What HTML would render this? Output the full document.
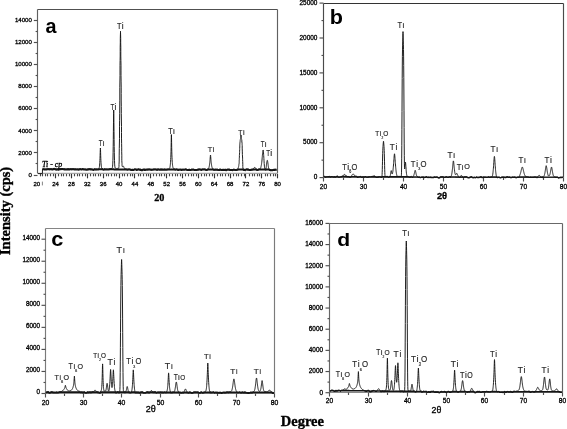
<!DOCTYPE html>
<html><head><meta charset="utf-8"><style>
html,body{margin:0;padding:0;background:#fff;}
svg{display:block;filter:grayscale(1);}
</style></head><body>
<svg width="567" height="429" viewBox="0 0 567 429">
<rect width="567" height="429" fill="#fff"/>
<line x1="37.5" y1="9.5" x2="277.5" y2="9.5" stroke="#505050" stroke-width="1.15"/>
<line x1="277.5" y1="9.5" x2="277.5" y2="173.4" stroke="#606060" stroke-width="1.15"/>
<line x1="37.5" y1="173.4" x2="277.5" y2="173.4" stroke="#a8a8a8" stroke-width="1.15"/>
<line x1="37.5" y1="9.5" x2="37.5" y2="173.4" stroke="#606060" stroke-width="1.15"/>
<line x1="33.8" y1="175.5" x2="37.5" y2="175.5" stroke="#505050" stroke-width="1.15"/>
<text x="28.45" y="176.70" style="font-family:'Liberation Sans', sans-serif;font-size:6.10px;" fill="#000" stroke="#000" stroke-width="0.3">0</text>
<line x1="35.6" y1="163.5" x2="37.5" y2="163.5" stroke="#505050" stroke-width="1.15"/>
<line x1="33.8" y1="152.5" x2="37.5" y2="152.5" stroke="#505050" stroke-width="1.15"/>
<text x="18.27" y="154.60" style="font-family:'Liberation Sans', sans-serif;font-size:6.10px;" fill="#000" stroke="#000" stroke-width="0.3">2000</text>
<line x1="35.6" y1="141.5" x2="37.5" y2="141.5" stroke="#505050" stroke-width="1.15"/>
<line x1="33.8" y1="130.5" x2="37.5" y2="130.5" stroke="#505050" stroke-width="1.15"/>
<text x="18.27" y="132.50" style="font-family:'Liberation Sans', sans-serif;font-size:6.10px;" fill="#000" stroke="#000" stroke-width="0.3">4000</text>
<line x1="35.6" y1="119.5" x2="37.5" y2="119.5" stroke="#505050" stroke-width="1.15"/>
<line x1="33.8" y1="108.5" x2="37.5" y2="108.5" stroke="#505050" stroke-width="1.15"/>
<text x="18.27" y="110.40" style="font-family:'Liberation Sans', sans-serif;font-size:6.10px;" fill="#000" stroke="#000" stroke-width="0.3">6000</text>
<line x1="35.6" y1="97.5" x2="37.5" y2="97.5" stroke="#505050" stroke-width="1.15"/>
<line x1="33.8" y1="86.5" x2="37.5" y2="86.5" stroke="#505050" stroke-width="1.15"/>
<text x="18.27" y="88.30" style="font-family:'Liberation Sans', sans-serif;font-size:6.10px;" fill="#000" stroke="#000" stroke-width="0.3">8000</text>
<line x1="35.6" y1="75.5" x2="37.5" y2="75.5" stroke="#505050" stroke-width="1.15"/>
<line x1="33.8" y1="64.5" x2="37.5" y2="64.5" stroke="#505050" stroke-width="1.15"/>
<text x="14.88" y="66.20" style="font-family:'Liberation Sans', sans-serif;font-size:6.10px;" fill="#000" stroke="#000" stroke-width="0.3">10000</text>
<line x1="35.6" y1="53.5" x2="37.5" y2="53.5" stroke="#505050" stroke-width="1.15"/>
<line x1="33.8" y1="42.5" x2="37.5" y2="42.5" stroke="#505050" stroke-width="1.15"/>
<text x="14.88" y="44.10" style="font-family:'Liberation Sans', sans-serif;font-size:6.10px;" fill="#000" stroke="#000" stroke-width="0.3">12000</text>
<line x1="35.6" y1="31.5" x2="37.5" y2="31.5" stroke="#505050" stroke-width="1.15"/>
<line x1="33.8" y1="20.5" x2="37.5" y2="20.5" stroke="#505050" stroke-width="1.15"/>
<text x="14.88" y="22.00" style="font-family:'Liberation Sans', sans-serif;font-size:6.10px;" fill="#000" stroke="#000" stroke-width="0.3">14000</text>
<line x1="55.5" y1="173.9" x2="55.5" y2="178.3" stroke="#333" stroke-width="1.15"/>
<text x="52.20" y="185.69" style="font-family:'Liberation Sans', sans-serif;font-size:6.00px;" fill="#000" stroke="#000" stroke-width="0.3">24</text>
<line x1="71.5" y1="173.9" x2="71.5" y2="178.3" stroke="#333" stroke-width="1.15"/>
<text x="68.10" y="185.67" style="font-family:'Liberation Sans', sans-serif;font-size:6.00px;" fill="#000" stroke="#000" stroke-width="0.3">28</text>
<line x1="87.5" y1="173.9" x2="87.5" y2="178.3" stroke="#333" stroke-width="1.15"/>
<text x="84.02" y="185.67" style="font-family:'Liberation Sans', sans-serif;font-size:6.00px;" fill="#000" stroke="#000" stroke-width="0.3">32</text>
<line x1="103.5" y1="173.9" x2="103.5" y2="178.3" stroke="#333" stroke-width="1.15"/>
<text x="99.86" y="185.67" style="font-family:'Liberation Sans', sans-serif;font-size:6.00px;" fill="#000" stroke="#000" stroke-width="0.3">36</text>
<line x1="119.5" y1="173.9" x2="119.5" y2="178.3" stroke="#333" stroke-width="1.15"/>
<text x="115.75" y="185.67" style="font-family:'Liberation Sans', sans-serif;font-size:6.00px;" fill="#000" stroke="#000" stroke-width="0.3">40</text>
<line x1="134.5" y1="173.9" x2="134.5" y2="178.3" stroke="#333" stroke-width="1.15"/>
<text x="131.58" y="185.66" style="font-family:'Liberation Sans', sans-serif;font-size:6.00px;" fill="#000" stroke="#000" stroke-width="0.3">44</text>
<line x1="150.5" y1="173.9" x2="150.5" y2="178.3" stroke="#333" stroke-width="1.15"/>
<text x="147.48" y="185.67" style="font-family:'Liberation Sans', sans-serif;font-size:6.00px;" fill="#000" stroke="#000" stroke-width="0.3">48</text>
<line x1="166.5" y1="173.9" x2="166.5" y2="178.3" stroke="#333" stroke-width="1.15"/>
<text x="163.31" y="185.67" style="font-family:'Liberation Sans', sans-serif;font-size:6.00px;" fill="#000" stroke="#000" stroke-width="0.3">52</text>
<line x1="182.5" y1="173.9" x2="182.5" y2="178.3" stroke="#333" stroke-width="1.15"/>
<text x="179.15" y="185.67" style="font-family:'Liberation Sans', sans-serif;font-size:6.00px;" fill="#000" stroke="#000" stroke-width="0.3">56</text>
<line x1="198.5" y1="173.9" x2="198.5" y2="178.3" stroke="#333" stroke-width="1.15"/>
<text x="194.97" y="185.67" style="font-family:'Liberation Sans', sans-serif;font-size:6.00px;" fill="#000" stroke="#000" stroke-width="0.3">60</text>
<line x1="214.5" y1="173.9" x2="214.5" y2="178.3" stroke="#333" stroke-width="1.15"/>
<text x="210.80" y="185.67" style="font-family:'Liberation Sans', sans-serif;font-size:6.00px;" fill="#000" stroke="#000" stroke-width="0.3">64</text>
<line x1="230.5" y1="173.9" x2="230.5" y2="178.3" stroke="#333" stroke-width="1.15"/>
<text x="226.70" y="185.67" style="font-family:'Liberation Sans', sans-serif;font-size:6.00px;" fill="#000" stroke="#000" stroke-width="0.3">68</text>
<line x1="245.5" y1="173.9" x2="245.5" y2="178.3" stroke="#333" stroke-width="1.15"/>
<text x="242.58" y="185.69" style="font-family:'Liberation Sans', sans-serif;font-size:6.00px;" fill="#000" stroke="#000" stroke-width="0.3">72</text>
<line x1="261.5" y1="173.9" x2="261.5" y2="178.3" stroke="#333" stroke-width="1.15"/>
<text x="258.42" y="185.67" style="font-family:'Liberation Sans', sans-serif;font-size:6.00px;" fill="#000" stroke="#000" stroke-width="0.3">76</text>
<line x1="277.5" y1="173.9" x2="277.5" y2="178.3" stroke="#333" stroke-width="1.15"/>
<text x="274.29" y="185.67" style="font-family:'Liberation Sans', sans-serif;font-size:6.00px;" fill="#000" stroke="#000" stroke-width="0.3">80</text>
<line x1="40.5" y1="173.9" x2="40.5" y2="176.3" stroke="#444" stroke-width="1.15"/>
<line x1="42.5" y1="173.9" x2="42.5" y2="176.3" stroke="#444" stroke-width="1.15"/>
<line x1="45.5" y1="173.9" x2="45.5" y2="176.3" stroke="#444" stroke-width="1.15"/>
<line x1="47.5" y1="173.9" x2="47.5" y2="176.3" stroke="#444" stroke-width="1.15"/>
<line x1="50.5" y1="173.9" x2="50.5" y2="176.3" stroke="#444" stroke-width="1.15"/>
<line x1="53.5" y1="173.9" x2="53.5" y2="176.3" stroke="#444" stroke-width="1.15"/>
<line x1="58.5" y1="173.9" x2="58.5" y2="176.3" stroke="#444" stroke-width="1.15"/>
<line x1="61.5" y1="173.9" x2="61.5" y2="176.3" stroke="#444" stroke-width="1.15"/>
<line x1="63.5" y1="173.9" x2="63.5" y2="176.3" stroke="#444" stroke-width="1.15"/>
<line x1="66.5" y1="173.9" x2="66.5" y2="176.3" stroke="#444" stroke-width="1.15"/>
<line x1="69.5" y1="173.9" x2="69.5" y2="176.3" stroke="#444" stroke-width="1.15"/>
<line x1="74.5" y1="173.9" x2="74.5" y2="176.3" stroke="#444" stroke-width="1.15"/>
<line x1="77.5" y1="173.9" x2="77.5" y2="176.3" stroke="#444" stroke-width="1.15"/>
<line x1="79.5" y1="173.9" x2="79.5" y2="176.3" stroke="#444" stroke-width="1.15"/>
<line x1="82.5" y1="173.9" x2="82.5" y2="176.3" stroke="#444" stroke-width="1.15"/>
<line x1="85.5" y1="173.9" x2="85.5" y2="176.3" stroke="#444" stroke-width="1.15"/>
<line x1="90.5" y1="173.9" x2="90.5" y2="176.3" stroke="#444" stroke-width="1.15"/>
<line x1="93.5" y1="173.9" x2="93.5" y2="176.3" stroke="#444" stroke-width="1.15"/>
<line x1="95.5" y1="173.9" x2="95.5" y2="176.3" stroke="#444" stroke-width="1.15"/>
<line x1="98.5" y1="173.9" x2="98.5" y2="176.3" stroke="#444" stroke-width="1.15"/>
<line x1="100.5" y1="173.9" x2="100.5" y2="176.3" stroke="#444" stroke-width="1.15"/>
<line x1="106.5" y1="173.9" x2="106.5" y2="176.3" stroke="#444" stroke-width="1.15"/>
<line x1="108.5" y1="173.9" x2="108.5" y2="176.3" stroke="#444" stroke-width="1.15"/>
<line x1="111.5" y1="173.9" x2="111.5" y2="176.3" stroke="#444" stroke-width="1.15"/>
<line x1="114.5" y1="173.9" x2="114.5" y2="176.3" stroke="#444" stroke-width="1.15"/>
<line x1="116.5" y1="173.9" x2="116.5" y2="176.3" stroke="#444" stroke-width="1.15"/>
<line x1="122.5" y1="173.9" x2="122.5" y2="176.3" stroke="#444" stroke-width="1.15"/>
<line x1="124.5" y1="173.9" x2="124.5" y2="176.3" stroke="#444" stroke-width="1.15"/>
<line x1="127.5" y1="173.9" x2="127.5" y2="176.3" stroke="#444" stroke-width="1.15"/>
<line x1="130.5" y1="173.9" x2="130.5" y2="176.3" stroke="#444" stroke-width="1.15"/>
<line x1="132.5" y1="173.9" x2="132.5" y2="176.3" stroke="#444" stroke-width="1.15"/>
<line x1="138.5" y1="173.9" x2="138.5" y2="176.3" stroke="#444" stroke-width="1.15"/>
<line x1="140.5" y1="173.9" x2="140.5" y2="176.3" stroke="#444" stroke-width="1.15"/>
<line x1="143.5" y1="173.9" x2="143.5" y2="176.3" stroke="#444" stroke-width="1.15"/>
<line x1="146.5" y1="173.9" x2="146.5" y2="176.3" stroke="#444" stroke-width="1.15"/>
<line x1="148.5" y1="173.9" x2="148.5" y2="176.3" stroke="#444" stroke-width="1.15"/>
<line x1="153.5" y1="173.9" x2="153.5" y2="176.3" stroke="#444" stroke-width="1.15"/>
<line x1="156.5" y1="173.9" x2="156.5" y2="176.3" stroke="#444" stroke-width="1.15"/>
<line x1="159.5" y1="173.9" x2="159.5" y2="176.3" stroke="#444" stroke-width="1.15"/>
<line x1="161.5" y1="173.9" x2="161.5" y2="176.3" stroke="#444" stroke-width="1.15"/>
<line x1="164.5" y1="173.9" x2="164.5" y2="176.3" stroke="#444" stroke-width="1.15"/>
<line x1="169.5" y1="173.9" x2="169.5" y2="176.3" stroke="#444" stroke-width="1.15"/>
<line x1="172.5" y1="173.9" x2="172.5" y2="176.3" stroke="#444" stroke-width="1.15"/>
<line x1="175.5" y1="173.9" x2="175.5" y2="176.3" stroke="#444" stroke-width="1.15"/>
<line x1="177.5" y1="173.9" x2="177.5" y2="176.3" stroke="#444" stroke-width="1.15"/>
<line x1="180.5" y1="173.9" x2="180.5" y2="176.3" stroke="#444" stroke-width="1.15"/>
<line x1="185.5" y1="173.9" x2="185.5" y2="176.3" stroke="#444" stroke-width="1.15"/>
<line x1="188.5" y1="173.9" x2="188.5" y2="176.3" stroke="#444" stroke-width="1.15"/>
<line x1="191.5" y1="173.9" x2="191.5" y2="176.3" stroke="#444" stroke-width="1.15"/>
<line x1="193.5" y1="173.9" x2="193.5" y2="176.3" stroke="#444" stroke-width="1.15"/>
<line x1="196.5" y1="173.9" x2="196.5" y2="176.3" stroke="#444" stroke-width="1.15"/>
<line x1="201.5" y1="173.9" x2="201.5" y2="176.3" stroke="#444" stroke-width="1.15"/>
<line x1="204.5" y1="173.9" x2="204.5" y2="176.3" stroke="#444" stroke-width="1.15"/>
<line x1="206.5" y1="173.9" x2="206.5" y2="176.3" stroke="#444" stroke-width="1.15"/>
<line x1="209.5" y1="173.9" x2="209.5" y2="176.3" stroke="#444" stroke-width="1.15"/>
<line x1="212.5" y1="173.9" x2="212.5" y2="176.3" stroke="#444" stroke-width="1.15"/>
<line x1="217.5" y1="173.9" x2="217.5" y2="176.3" stroke="#444" stroke-width="1.15"/>
<line x1="220.5" y1="173.9" x2="220.5" y2="176.3" stroke="#444" stroke-width="1.15"/>
<line x1="222.5" y1="173.9" x2="222.5" y2="176.3" stroke="#444" stroke-width="1.15"/>
<line x1="225.5" y1="173.9" x2="225.5" y2="176.3" stroke="#444" stroke-width="1.15"/>
<line x1="228.5" y1="173.9" x2="228.5" y2="176.3" stroke="#444" stroke-width="1.15"/>
<line x1="233.5" y1="173.9" x2="233.5" y2="176.3" stroke="#444" stroke-width="1.15"/>
<line x1="236.5" y1="173.9" x2="236.5" y2="176.3" stroke="#444" stroke-width="1.15"/>
<line x1="238.5" y1="173.9" x2="238.5" y2="176.3" stroke="#444" stroke-width="1.15"/>
<line x1="241.5" y1="173.9" x2="241.5" y2="176.3" stroke="#444" stroke-width="1.15"/>
<line x1="244.5" y1="173.9" x2="244.5" y2="176.3" stroke="#444" stroke-width="1.15"/>
<line x1="249.5" y1="173.9" x2="249.5" y2="176.3" stroke="#444" stroke-width="1.15"/>
<line x1="252.5" y1="173.9" x2="252.5" y2="176.3" stroke="#444" stroke-width="1.15"/>
<line x1="254.5" y1="173.9" x2="254.5" y2="176.3" stroke="#444" stroke-width="1.15"/>
<line x1="257.5" y1="173.9" x2="257.5" y2="176.3" stroke="#444" stroke-width="1.15"/>
<line x1="259.5" y1="173.9" x2="259.5" y2="176.3" stroke="#444" stroke-width="1.15"/>
<line x1="265.5" y1="173.9" x2="265.5" y2="176.3" stroke="#444" stroke-width="1.15"/>
<line x1="267.5" y1="173.9" x2="267.5" y2="176.3" stroke="#444" stroke-width="1.15"/>
<line x1="270.5" y1="173.9" x2="270.5" y2="176.3" stroke="#444" stroke-width="1.15"/>
<line x1="273.5" y1="173.9" x2="273.5" y2="176.3" stroke="#444" stroke-width="1.15"/>
<line x1="275.5" y1="173.9" x2="275.5" y2="176.3" stroke="#444" stroke-width="1.15"/>
<text x="33.43" y="185.67" style="font-family:'Liberation Sans', sans-serif;font-size:6.00px;" fill="#000" stroke="#000" stroke-width="0.3">20</text>
<line x1="42.4" y1="181.6" x2="42.4" y2="185.4" stroke="#666" stroke-width="0.8"/>
<path d="M38.0,173.6 42.4,173.6 42.5,168.8 42.6,168.8 43.1,168.8 43.6,168.8 44.1,168.9 44.6,168.9 45.1,168.9 45.6,169.0 46.1,168.9 46.6,168.9 47.1,168.8 47.6,168.8 48.1,168.6 48.6,168.8 49.1,168.8 49.6,168.9 50.1,168.7 50.6,168.7 51.1,168.7 51.6,168.8 52.1,169.0 52.6,169.1 53.1,168.8 53.6,168.4 54.1,168.2 54.6,168.5 55.1,168.8 55.6,168.8 56.1,169.2 56.6,169.0 57.1,168.9 57.6,168.9 58.1,169.2 58.6,169.3 59.1,169.0 59.6,168.7 60.1,168.6 60.6,168.7 61.1,168.7 61.6,168.6 62.1,168.6 62.6,168.6 63.1,168.7 63.6,168.7 64.1,168.9 64.6,168.8 65.1,168.9 65.6,169.0 66.1,169.1 66.6,168.9 67.1,168.9 67.6,168.8 68.1,169.0 68.6,168.8 69.1,169.0 69.6,168.9 70.1,168.8 70.6,168.7 71.1,168.7 71.6,168.9 72.1,168.8 72.6,168.7 73.1,168.7 73.6,168.7 74.1,168.9 74.6,169.0 75.1,168.8 75.6,168.9 76.1,168.9 76.6,169.1 77.1,169.0 77.6,168.9 78.1,169.0 78.6,169.2 79.1,169.1 79.6,168.8 80.1,168.7 80.6,168.7 81.1,169.0 81.6,169.1 82.1,168.9 82.6,168.6 83.1,168.7 83.6,169.0 84.1,169.1 84.6,169.0 85.1,169.0 85.6,169.1 86.1,169.3 86.6,169.2 87.1,169.2 87.6,169.0 88.1,169.1 88.6,168.8 89.1,168.9 89.6,168.7 90.1,168.8 90.6,168.9 91.1,168.8 91.6,169.1 92.1,169.1 92.6,169.2 93.1,169.3 93.6,169.4 94.1,169.1 94.6,168.8 95.1,169.0 95.6,169.1 96.1,169.2 96.6,168.9 97.1,168.9 97.6,169.1 98.1,169.0 98.6,168.9 98.7,168.8 98.8,168.7 98.9,168.5 99.0,168.3 99.1,168.1 99.2,167.8 99.3,167.4 99.4,166.8 99.5,166.1 99.6,165.1 99.7,163.9 99.8,162.4 99.9,160.5 100.0,158.3 100.1,155.7 100.2,152.5 100.3,149.4 100.4,148.0 100.5,149.4 100.6,152.5 100.7,155.7 100.8,158.4 100.9,160.5 101.0,162.4 101.1,163.9 101.2,165.1 101.3,166.1 101.4,166.9 101.5,167.5 101.6,167.9 101.7,168.2 101.8,168.3 101.9,168.4 102.0,168.4 102.1,168.4 102.2,168.4 102.6,168.5 103.1,169.1 103.6,169.3 104.1,169.1 104.6,168.8 105.1,168.9 105.6,169.0 106.1,168.9 106.6,169.0 107.1,169.1 107.6,169.1 108.1,169.0 108.6,169.0 109.1,168.9 109.6,168.7 110.1,168.8 110.6,168.6 111.1,168.5 111.6,168.5 112.1,168.2 112.2,168.0 112.3,167.8 112.4,167.5 112.5,167.0 112.6,166.2 112.7,164.9 112.8,163.1 112.9,160.5 113.0,157.0 113.1,152.4 113.2,146.5 113.3,139.5 113.4,131.3 113.5,122.2 113.6,113.8 113.7,110.0 113.8,113.8 113.9,122.2 114.0,131.3 114.1,139.5 114.2,146.5 114.3,152.3 114.4,157.0 114.5,160.5 114.6,163.1 114.7,164.9 114.8,166.1 114.9,166.9 115.0,167.4 115.1,167.8 115.2,168.0 115.6,168.3 116.1,168.6 116.6,168.6 117.1,168.7 117.6,168.4 118.0,168.4 118.0,168.3 118.1,168.3 118.2,168.3 118.2,168.3 118.3,168.4 118.5,168.3 118.5,168.3 118.6,168.3 118.7,168.2 118.8,167.9 118.8,167.4 119.0,166.4 119.0,164.4 119.1,163.0 119.2,161.1 119.2,155.9 119.3,148.4 119.5,138.6 119.5,126.8 119.6,120.3 119.7,113.7 119.8,100.2 119.8,87.3 120.0,75.6 120.0,65.3 120.1,60.6 120.2,56.1 120.2,51.7 120.2,47.2 120.3,42.8 120.3,38.6 120.4,34.9 120.5,32.3 120.5,31.3 120.5,32.2 120.6,34.9 120.7,38.6 120.7,42.8 120.8,47.2 120.8,51.6 120.8,56.0 120.9,60.5 121.0,65.2 121.0,70.1 121.0,75.4 121.1,81.1 121.2,87.1 121.2,93.4 121.2,100.0 121.3,106.7 121.3,113.4 121.4,120.0 121.5,126.4 121.5,132.5 121.5,138.1 121.6,143.3 121.7,147.9 121.7,151.8 121.8,155.2 121.8,158.1 121.8,160.3 121.9,162.1 122.0,163.5 122.0,164.6 122.0,165.3 122.1,165.8 122.2,166.2 122.2,166.4 122.2,166.5 122.3,166.6 122.3,166.6 122.4,166.6 122.5,166.5 122.5,166.5 122.5,166.4 122.6,166.4 122.7,166.3 122.7,166.3 122.8,166.2 122.8,166.2 122.8,166.1 122.9,166.1 123.0,166.0 123.0,166.0 123.0,166.0 123.1,166.0 123.2,166.0 123.3,166.1 123.4,166.2 123.5,166.3 123.6,166.5 123.7,166.7 123.8,167.0 123.9,167.2 124.0,167.5 124.1,167.7 124.2,167.9 124.3,168.1 124.4,168.3 124.5,168.5 124.6,168.6 124.7,168.7 124.8,168.8 124.9,168.9 125.0,168.9 125.1,169.0 125.2,169.0 125.3,169.0 125.4,169.0 125.5,169.0 125.6,168.9 125.7,169.0 125.8,169.0 125.9,169.0 126.0,169.0 126.1,169.0 126.2,169.0 126.6,169.1 127.1,169.2 127.6,169.2 128.1,169.0 128.6,169.1 129.1,169.0 129.6,169.1 130.1,169.1 130.6,169.4 131.1,169.6 131.6,169.5 132.1,169.2 132.6,169.5 133.1,169.6 133.6,169.6 134.1,169.1 134.6,169.0 135.1,169.0 135.6,169.1 136.1,169.0 136.6,169.4 137.1,169.5 137.6,169.2 138.1,169.1 138.6,168.7 139.1,169.2 139.6,169.2 140.1,169.5 140.6,169.2 141.1,169.5 141.6,169.7 142.1,169.7 142.6,169.5 143.1,169.1 143.6,169.3 144.1,169.0 144.6,169.4 145.1,169.3 145.6,169.4 146.1,169.2 146.6,169.2 147.1,169.3 147.6,169.1 148.1,169.2 148.6,169.1 149.1,169.1 149.6,169.1 150.1,169.2 150.6,169.2 151.1,169.2 151.6,169.4 152.1,169.3 152.6,169.3 153.1,169.2 153.6,169.1 154.1,169.0 154.6,169.1 155.1,169.1 155.6,169.1 156.1,169.1 156.6,169.3 157.1,169.4 157.6,169.0 158.1,169.0 158.6,169.1 159.1,169.2 159.6,169.3 160.1,169.1 160.6,169.2 161.1,169.1 161.6,169.1 162.1,169.3 162.6,169.1 163.1,169.3 163.6,169.2 164.1,169.2 164.6,169.1 165.1,169.1 165.6,169.3 166.1,169.2 166.6,169.2 167.1,169.2 167.6,169.1 168.1,169.1 168.6,169.0 169.0,168.9 169.1,168.8 169.2,168.7 169.3,168.6 169.4,168.5 169.5,168.4 169.6,168.2 169.7,168.0 169.8,167.8 169.9,167.4 170.0,167.0 170.1,166.4 170.2,165.7 170.3,164.8 170.4,163.8 170.5,162.6 170.6,161.1 170.7,159.4 170.8,157.4 170.9,154.9 171.0,151.8 171.1,147.7 171.2,142.5 171.3,137.1 171.4,134.6 171.5,137.1 171.6,142.5 171.7,147.7 171.8,151.8 171.9,154.9 172.0,157.4 172.1,159.4 172.2,161.1 172.3,162.6 172.4,163.8 172.5,164.8 172.6,165.6 172.7,166.3 172.8,166.8 172.9,167.3 173.0,167.6 173.1,167.9 173.2,168.1 173.3,168.2 173.4,168.4 173.5,168.5 173.6,168.5 173.7,168.6 173.8,168.7 174.1,168.9 174.6,168.9 175.1,169.3 175.6,169.2 176.1,169.1 176.6,169.1 177.1,168.9 177.6,169.4 178.1,169.3 178.6,169.5 179.1,169.2 179.6,169.3 180.1,169.2 180.6,169.2 181.1,169.3 181.6,169.5 182.1,169.3 182.6,169.3 183.1,169.2 183.6,169.3 184.1,169.3 184.6,169.3 185.1,169.1 185.6,169.0 186.1,169.0 186.6,169.3 187.1,169.4 187.6,169.6 188.1,169.5 188.6,169.5 189.1,169.3 189.6,169.4 190.1,169.6 190.6,169.6 191.1,169.5 191.6,169.2 192.1,169.2 192.6,169.2 193.1,169.2 193.6,169.2 194.1,169.5 194.6,169.5 195.1,169.6 195.6,169.5 196.1,169.5 196.6,169.6 197.1,169.4 197.6,169.3 198.1,169.1 198.6,169.2 199.1,169.1 199.6,169.1 200.1,168.9 200.6,169.3 201.1,169.3 201.6,169.4 202.1,169.1 202.6,169.1 203.1,169.1 203.6,169.1 204.1,169.0 204.6,169.0 205.1,169.1 205.6,169.3 206.1,169.5 206.6,169.5 207.1,169.5 207.5,169.2 207.6,169.1 207.7,169.1 207.8,169.1 207.9,169.1 208.0,169.0 208.1,169.0 208.2,168.9 208.3,168.8 208.4,168.7 208.5,168.6 208.6,168.4 208.7,168.2 208.8,168.0 208.9,167.7 209.0,167.4 209.1,167.0 209.2,166.6 209.3,166.1 209.4,165.5 209.5,164.8 209.6,164.1 209.7,163.3 209.8,162.5 209.9,161.6 210.0,160.5 210.1,159.3 210.2,158.0 210.3,156.6 210.4,155.5 210.5,155.0 210.6,155.5 210.7,156.6 210.8,158.0 210.9,159.3 211.0,160.5 211.1,161.6 211.2,162.5 211.3,163.3 211.4,164.1 211.5,164.8 211.6,165.4 211.7,166.0 211.8,166.5 211.9,166.9 212.0,167.2 212.1,167.6 212.2,167.8 212.3,168.1 212.4,168.3 212.5,168.5 212.6,168.6 212.7,168.7 212.8,168.8 212.9,168.8 213.0,168.9 213.1,168.9 213.2,169.0 213.3,169.1 213.4,169.1 213.5,169.2 213.6,169.3 214.1,169.4 214.6,169.3 215.1,169.1 215.6,169.3 216.1,169.4 216.6,169.2 217.1,169.2 217.6,169.3 218.1,169.6 218.6,169.5 219.1,169.5 219.6,169.3 220.1,169.4 220.6,169.2 221.1,169.4 221.6,169.5 222.1,169.5 222.6,169.4 223.1,169.3 223.6,169.5 224.1,169.6 224.6,169.4 225.1,169.3 225.6,169.4 226.1,169.8 226.6,169.5 227.1,169.3 227.6,169.2 228.1,169.3 228.6,169.2 229.1,169.1 229.6,169.4 230.1,169.5 230.6,169.5 231.1,169.4 231.6,169.6 232.1,169.6 232.6,169.7 233.1,169.4 233.6,169.3 234.1,169.2 234.6,169.5 235.1,169.5 235.6,169.5 236.1,169.4 236.6,169.4 236.7,169.4 236.8,169.4 236.8,169.4 236.9,169.4 237.1,169.4 237.1,169.4 237.2,169.4 237.2,169.4 237.3,169.3 237.4,169.3 237.5,169.3 237.6,169.3 237.6,169.2 237.7,169.2 237.7,169.2 237.8,169.1 237.8,169.1 237.8,169.0 237.9,169.0 237.9,168.9 238.0,168.8 238.1,168.7 238.1,168.6 238.2,168.5 238.2,168.3 238.2,168.2 238.3,168.0 238.3,167.8 238.4,167.5 238.4,167.3 238.5,167.0 238.6,166.7 238.6,166.4 238.7,166.1 238.7,165.8 238.8,165.6 238.8,165.3 238.8,165.0 238.9,164.7 238.9,164.4 239.0,164.0 239.1,163.6 239.1,163.0 239.2,162.4 239.2,161.6 239.2,160.7 239.3,159.6 239.3,158.4 239.4,157.1 239.4,155.6 239.5,154.1 239.6,152.6 239.6,151.2 239.7,149.7 239.7,148.3 239.8,147.0 239.8,145.9 239.8,144.8 239.9,143.8 239.9,143.0 240.0,142.3 240.1,141.7 240.1,141.2 240.2,140.7 240.2,140.4 240.2,140.1 240.3,139.8 240.3,139.6 240.4,139.4 240.4,139.2 240.5,139.0 240.6,138.8 240.6,138.5 240.7,138.2 240.8,137.4 240.8,136.2 240.9,135.0 241.1,135.0 241.1,135.5 241.2,136.2 241.2,137.4 241.3,138.3 241.4,138.8 241.6,139.3 241.6,139.5 241.7,139.7 241.8,140.2 241.8,141.0 241.9,142.0 242.1,143.5 242.1,144.4 242.2,145.5 242.2,148.1 242.3,151.1 242.4,154.5 242.6,158.1 242.6,159.8 242.7,161.4 242.8,164.3 242.8,166.5 242.9,167.9 243.1,168.7 243.1,168.9 243.2,169.1 243.2,169.3 243.3,169.3 243.4,169.4 243.6,169.4 243.6,169.4 243.7,169.4 243.8,169.4 243.8,169.4 243.9,169.3 244.1,169.3 244.1,169.3 244.2,169.3 244.2,169.4 244.3,169.4 244.4,169.5 244.6,169.5 244.6,169.6 244.7,169.6 244.8,169.6 244.8,169.6 244.9,169.6 245.1,169.7 245.1,169.7 245.2,169.6 245.2,169.6 245.3,169.5 245.6,169.4 246.1,169.1 246.6,169.0 247.1,169.0 247.6,169.2 248.1,169.0 248.6,169.3 249.1,169.4 249.6,169.5 250.1,169.5 250.6,169.4 251.1,169.4 251.6,169.3 251.7,169.3 251.8,169.3 251.9,169.3 252.0,169.2 252.1,169.2 252.2,169.2 252.3,169.2 252.4,169.2 252.5,169.2 252.6,169.2 252.7,169.2 252.8,169.2 252.9,169.1 253.0,169.1 253.1,169.0 253.2,168.9 253.3,168.9 253.4,168.8 253.5,168.6 253.6,168.5 253.7,168.4 253.8,168.3 253.9,168.1 254.0,168.0 254.1,167.9 254.2,167.7 254.3,167.6 254.4,167.5 254.5,167.4 254.6,167.3 254.7,167.3 254.8,167.3 254.9,167.4 255.0,167.5 255.1,167.6 255.2,167.7 255.3,167.8 255.4,167.9 255.5,168.1 255.6,168.2 255.7,168.4 255.8,168.5 255.9,168.7 256.0,168.9 256.1,169.0 256.2,169.1 256.3,169.1 256.4,169.2 256.5,169.2 256.6,169.2 256.7,169.3 256.8,169.4 256.9,169.4 257.0,169.5 257.1,169.5 257.2,169.5 257.3,169.5 257.4,169.5 257.5,169.4 257.6,169.4 257.7,169.4 258.1,169.4 258.6,169.1 259.1,169.1 259.6,169.1 259.7,169.0 259.8,169.0 259.9,169.0 260.0,168.9 260.1,168.8 260.2,168.7 260.3,168.6 260.4,168.4 260.5,168.2 260.6,168.0 260.7,167.8 260.8,167.5 260.9,167.1 261.0,166.7 261.1,166.3 261.2,165.8 261.3,165.3 261.4,164.8 261.5,164.2 261.6,163.5 261.7,162.7 261.8,161.9 261.9,161.0 262.0,160.0 262.1,158.9 262.2,157.7 262.3,156.5 262.4,155.3 262.5,154.2 262.6,153.3 262.7,152.5 262.8,151.7 262.9,151.1 263.0,150.4 263.1,150.0 263.2,150.0 263.3,150.6 263.4,151.7 263.5,152.9 263.6,154.3 263.7,155.6 263.8,157.1 263.9,158.6 264.0,160.3 264.1,161.9 264.2,163.5 264.3,165.0 264.4,166.2 264.5,167.1 264.6,167.8 264.7,168.3 264.8,168.6 264.9,168.8 265.0,168.9 265.1,168.9 265.2,169.0 265.3,169.1 265.4,169.2 265.5,169.2 265.6,169.2 265.7,169.2 265.8,169.0 265.9,168.8 266.0,168.4 266.1,167.9 266.2,167.2 266.3,166.4 266.4,165.5 266.5,164.6 266.6,163.8 266.7,163.0 266.8,162.3 266.9,161.7 267.0,161.2 267.1,160.7 267.2,160.4 267.3,160.3 267.4,160.4 267.5,160.7 267.6,161.2 267.7,161.7 267.8,162.4 267.9,163.1 268.0,163.9 268.1,164.7 268.2,165.5 268.3,166.3 268.4,167.0 268.5,167.6 268.6,168.1 268.7,168.4 268.8,168.7 268.9,168.8 269.0,169.0 269.1,169.0 269.2,169.1 269.3,169.2 269.4,169.3 269.5,169.4 269.6,169.5 269.7,169.5 269.8,169.5 269.9,169.5 270.0,169.5 270.1,169.5 270.6,169.7 271.1,169.7 271.6,169.8 272.1,169.8 272.6,169.7 273.1,169.6 273.6,169.4 274.1,169.3 274.6,169.4 275.1,169.3 275.6,169.3 276.1,169.4 276.6,169.3" fill="none" stroke="#151515" stroke-width="0.95" stroke-linejoin="round"/>
<path d="M42.6,169.3 43.1,169.3 43.6,169.3 44.1,169.4 44.6,169.4 45.1,169.4 45.6,169.5 46.1,169.4 46.6,169.4 47.1,169.3 47.6,169.3 48.1,169.1 48.6,169.3 49.1,169.3 49.6,169.4 50.1,169.2 50.6,169.2 51.1,169.2 51.6,169.3 52.1,169.5 52.6,169.6 53.1,169.3 53.6,168.9 54.1,168.9 54.6,169.0 55.1,169.3 55.6,169.3 56.1,169.7 56.6,169.5 57.1,169.4 57.6,169.4 58.1,169.7 58.6,169.8 59.1,169.5 59.6,169.2 60.1,169.1 60.6,169.2 61.1,169.2 61.6,169.1 62.1,169.1 62.6,169.1 63.1,169.2 63.6,169.2 64.1,169.4 64.6,169.3 65.1,169.4 65.6,169.5 66.1,169.6 66.6,169.4 67.1,169.4 67.6,169.3 68.1,169.5 68.6,169.3 69.1,169.5 69.6,169.4 70.1,169.3 70.6,169.2 71.1,169.2 71.6,169.4 72.1,169.3 72.6,169.2 73.1,169.2 73.6,169.2 74.1,169.4 74.6,169.5 75.1,169.3 75.6,169.4 76.1,169.4 76.6,169.6 77.1,169.5 77.6,169.4 78.1,169.5 78.6,169.7 79.1,169.6 79.6,169.3 80.1,169.2 80.6,169.2 81.1,169.5 81.6,169.6 82.1,169.4 82.6,169.1 83.1,169.2 83.6,169.5 84.1,169.6 84.6,169.5 85.1,169.5 85.6,169.6 86.1,169.8 86.6,169.7 87.1,169.7 87.6,169.5 88.1,169.6 88.6,169.3 89.1,169.4 89.6,169.2 90.1,169.3 90.6,169.4 91.1,169.3 91.6,169.6 92.1,169.6 92.6,169.7 93.1,169.8 93.6,169.9 94.1,169.6 94.6,169.3 95.1,169.5 95.6,169.6 96.1,169.7 96.6,169.4 97.1,169.4 97.6,169.6 98.1,169.5 98.6,169.4 98.7,169.3 98.8,169.2 98.9,169.2 99.0,169.2 99.1,169.2 99.2,169.2 99.3,169.2 99.4,169.2 99.5,169.2 99.6,169.2 99.7,169.2 99.8,169.2 99.9,169.2 100.0,169.2 100.1,169.2 100.2,169.2 100.3,169.2 100.4,169.2 100.5,169.2 100.6,169.2 100.7,169.2 100.8,169.2 100.9,169.2 101.0,169.2 101.1,169.2 101.2,169.2 101.3,169.3 101.4,169.3 101.5,169.3 101.6,169.3 101.7,169.3 101.8,169.3 101.9,169.3 102.0,169.3 102.1,169.3 102.2,169.3 102.6,169.3 103.1,169.6 103.6,169.8 104.1,169.6 104.6,169.3 105.1,169.4 105.6,169.5 106.1,169.4 106.6,169.5 107.1,169.6 107.6,169.6 108.1,169.5 108.6,169.5 109.1,169.4 109.6,169.3 110.1,169.3 110.6,169.3 111.1,169.3 111.6,169.3 112.1,169.3 112.2,169.3 112.3,169.3 112.4,169.3 112.5,169.3 112.6,169.3 112.7,169.3 112.8,169.3 112.9,169.3 113.0,169.3 113.1,169.3 113.2,169.3 113.3,169.3 113.4,169.3 113.5,169.3 113.6,169.3 113.7,169.3 113.8,169.4 113.9,169.4 114.0,169.4 114.1,169.4 114.2,169.4 114.3,169.4 114.4,169.4 114.5,169.4 114.6,169.4 114.7,169.4 114.8,169.4 114.9,169.4 115.0,169.4 115.1,169.4 115.2,169.4 115.6,169.4 116.1,169.4 116.6,169.4 117.1,169.4 117.6,169.4 118.0,169.4 118.0,169.4 118.1,169.4 118.2,169.4 118.2,169.4 118.3,169.4 118.5,169.4 118.5,169.4 118.6,169.4 118.7,169.4 118.8,169.4 118.8,169.4 119.0,169.4 119.0,169.4 119.1,169.4 119.2,169.4 119.2,169.4 119.3,169.4 119.5,169.4 119.5,169.4 119.6,169.4 119.7,169.4 119.8,169.4 119.8,169.4 120.0,169.4 120.0,169.4 120.1,169.4 120.2,169.4 120.2,169.4 120.2,169.4 120.3,169.4 120.3,169.4 120.4,169.4 120.5,169.4 120.5,169.4 120.5,169.4 120.6,169.4 120.7,169.4 120.7,169.4 120.8,169.4 120.8,169.4 120.8,169.4 120.9,169.4 121.0,169.4 121.0,169.4 121.0,169.4 121.1,169.4 121.2,169.4 121.2,169.4 121.2,169.4 121.3,169.4 121.3,169.4 121.4,169.4 121.5,169.4 121.5,169.4 121.5,169.4 121.6,169.4 121.7,169.4 121.7,169.4 121.8,169.4 121.8,169.4 121.8,169.4 121.9,169.4 122.0,169.4 122.0,169.4 122.0,169.4 122.1,169.4 122.2,169.4 122.2,169.4 122.2,169.4 122.3,169.4 122.3,169.4 122.4,169.4 122.5,169.4 122.5,169.4 122.5,169.4 122.6,169.4 122.7,169.4 122.7,169.4 122.8,169.4 122.8,169.4 122.8,169.4 122.9,169.4 123.0,169.4 123.0,169.4 123.0,169.4 123.1,169.4 123.2,169.4 123.3,169.4 123.4,169.4 123.5,169.4 123.6,169.4 123.7,169.4 123.8,169.4 123.9,169.4 124.0,169.4 124.1,169.4 124.2,169.4 124.3,169.4 124.4,169.4 124.5,169.4 124.6,169.4 124.7,169.4 124.8,169.4 124.9,169.4 125.0,169.4 125.1,169.5 125.2,169.5 125.3,169.5 125.4,169.5 125.5,169.5 125.6,169.4 125.7,169.5 125.8,169.5 125.9,169.5 126.0,169.5 126.1,169.5 126.2,169.5 126.6,169.6 127.1,169.7 127.6,169.7 128.1,169.5 128.6,169.6 129.1,169.5 129.6,169.6 130.1,169.6 130.6,169.9 131.1,170.1 131.6,170.0 132.1,169.7 132.6,170.0 133.1,170.1 133.6,170.1 134.1,169.6 134.6,169.5 135.1,169.5 135.6,169.6 136.1,169.5 136.6,169.9 137.1,170.0 137.6,169.7 138.1,169.6 138.6,169.4 139.1,169.7 139.6,169.7 140.1,170.0 140.6,169.7 141.1,170.0 141.6,170.2 142.1,170.2 142.6,170.0 143.1,169.6 143.6,169.8 144.1,169.5 144.6,169.9 145.1,169.8 145.6,169.9 146.1,169.7 146.6,169.7 147.1,169.8 147.6,169.6 148.1,169.7 148.6,169.6 149.1,169.6 149.6,169.6 150.1,169.7 150.6,169.7 151.1,169.7 151.6,169.9 152.1,169.8 152.6,169.8 153.1,169.7 153.6,169.6 154.1,169.5 154.6,169.6 155.1,169.6 155.6,169.6 156.1,169.6 156.6,169.8 157.1,169.9 157.6,169.5 158.1,169.5 158.6,169.6 159.1,169.7 159.6,169.8 160.1,169.6 160.6,169.7 161.1,169.6 161.6,169.6 162.1,169.8 162.6,169.6 163.1,169.8 163.6,169.7 164.1,169.7 164.6,169.6 165.1,169.6 165.6,169.8 166.1,169.7 166.6,169.7 167.1,169.7 167.6,169.6 168.1,169.6 168.6,169.5 169.0,169.4 169.1,169.4 169.2,169.4 169.3,169.4 169.4,169.4 169.5,169.4 169.6,169.4 169.7,169.4 169.8,169.4 169.9,169.4 170.0,169.4 170.1,169.4 170.2,169.4 170.3,169.4 170.4,169.4 170.5,169.4 170.6,169.4 170.7,169.4 170.8,169.4 170.9,169.4 171.0,169.4 171.1,169.4 171.2,169.4 171.3,169.4 171.4,169.4 171.5,169.4 171.6,169.4 171.7,169.4 171.8,169.4 171.9,169.4 172.0,169.4 172.1,169.4 172.2,169.4 172.3,169.4 172.4,169.4 172.5,169.4 172.6,169.4 172.7,169.4 172.8,169.4 172.9,169.4 173.0,169.4 173.1,169.4 173.2,169.4 173.3,169.4 173.4,169.4 173.5,169.4 173.6,169.4 173.7,169.4 173.8,169.4 174.1,169.4 174.6,169.4 175.1,169.8 175.6,169.7 176.1,169.6 176.6,169.6 177.1,169.4 177.6,169.9 178.1,169.8 178.6,170.0 179.1,169.7 179.6,169.8 180.1,169.7 180.6,169.7 181.1,169.8 181.6,170.0 182.1,169.8 182.6,169.8 183.1,169.7 183.6,169.8 184.1,169.8 184.6,169.8 185.1,169.6 185.6,169.5 186.1,169.5 186.6,169.8 187.1,169.9 187.6,170.1 188.1,170.0 188.6,170.0 189.1,169.8 189.6,169.9 190.1,170.1 190.6,170.1 191.1,170.0 191.6,169.7 192.1,169.7 192.6,169.7 193.1,169.7 193.6,169.7 194.1,170.0 194.6,170.0 195.1,170.1 195.6,170.0 196.1,170.0 196.6,170.1 197.1,169.9 197.6,169.8 198.1,169.6 198.6,169.7 199.1,169.6 199.6,169.6 200.1,169.5 200.6,169.8 201.1,169.8 201.6,169.9 202.1,169.6 202.6,169.6 203.1,169.6 203.6,169.6 204.1,169.5 204.6,169.5 205.1,169.6 205.6,169.8 206.1,170.0 206.6,170.0 207.1,170.0 207.5,169.7 207.6,169.6 207.7,169.6 207.8,169.6 207.9,169.6 208.0,169.5 208.1,169.5 208.2,169.5 208.3,169.5 208.4,169.5 208.5,169.5 208.6,169.5 208.7,169.5 208.8,169.5 208.9,169.5 209.0,169.5 209.1,169.5 209.2,169.5 209.3,169.5 209.4,169.5 209.5,169.5 209.6,169.5 209.7,169.5 209.8,169.5 209.9,169.5 210.0,169.5 210.1,169.5 210.2,169.5 210.3,169.5 210.4,169.5 210.5,169.5 210.6,169.5 210.7,169.5 210.8,169.5 210.9,169.5 211.0,169.5 211.1,169.5 211.2,169.5 211.3,169.5 211.4,169.5 211.5,169.5 211.6,169.5 211.7,169.5 211.8,169.5 211.9,169.5 212.0,169.5 212.1,169.5 212.2,169.5 212.3,169.5 212.4,169.5 212.5,169.5 212.6,169.5 212.7,169.5 212.8,169.5 212.9,169.5 213.0,169.5 213.1,169.5 213.2,169.5 213.3,169.6 213.4,169.6 213.5,169.7 213.6,169.8 214.1,169.9 214.6,169.8 215.1,169.6 215.6,169.8 216.1,169.9 216.6,169.7 217.1,169.7 217.6,169.8 218.1,170.1 218.6,170.0 219.1,170.0 219.6,169.8 220.1,169.9 220.6,169.7 221.1,169.9 221.6,170.0 222.1,170.0 222.6,169.9 223.1,169.8 223.6,170.0 224.1,170.1 224.6,169.9 225.1,169.8 225.6,169.9 226.1,170.3 226.6,170.0 227.1,169.8 227.6,169.7 228.1,169.8 228.6,169.7 229.1,169.6 229.6,169.9 230.1,170.0 230.6,170.0 231.1,169.9 231.6,170.1 232.1,170.1 232.6,170.2 233.1,169.9 233.6,169.8 234.1,169.7 234.6,170.0 235.1,170.0 235.6,170.0 236.1,169.9 236.6,169.9 236.7,169.9 236.8,169.9 236.8,169.9 236.9,169.9 237.1,169.9 237.1,169.9 237.2,169.9 237.2,169.9 237.3,169.8 237.4,169.8 237.5,169.8 237.6,169.8 237.6,169.7 237.7,169.7 237.7,169.7 237.8,169.6 237.8,169.6 237.8,169.5 237.9,169.5 237.9,169.5 238.0,169.5 238.1,169.5 238.1,169.5 238.2,169.5 238.2,169.5 238.2,169.5 238.3,169.5 238.3,169.5 238.4,169.5 238.4,169.5 238.5,169.5 238.6,169.5 238.6,169.5 238.7,169.5 238.7,169.5 238.8,169.5 238.8,169.5 238.8,169.5 238.9,169.5 238.9,169.5 239.0,169.5 239.1,169.5 239.1,169.5 239.2,169.5 239.2,169.5 239.2,169.5 239.3,169.5 239.3,169.5 239.4,169.5 239.4,169.5 239.5,169.5 239.6,169.5 239.6,169.5 239.7,169.5 239.7,169.5 239.8,169.5 239.8,169.5 239.8,169.5 239.9,169.5 239.9,169.5 240.0,169.5 240.1,169.5 240.1,169.5 240.2,169.5 240.2,169.5 240.2,169.5 240.3,169.5 240.3,169.5 240.4,169.5 240.4,169.5 240.5,169.5 240.6,169.5 240.6,169.5 240.7,169.5 240.8,169.5 240.8,169.5 240.9,169.5 241.1,169.5 241.1,169.5 241.2,169.5 241.2,169.5 241.3,169.5 241.4,169.5 241.6,169.5 241.6,169.5 241.7,169.5 241.8,169.5 241.8,169.5 241.9,169.5 242.1,169.5 242.1,169.5 242.2,169.5 242.2,169.5 242.3,169.5 242.4,169.5 242.6,169.5 242.6,169.5 242.7,169.5 242.8,169.5 242.8,169.5 242.9,169.5 243.1,169.5 243.1,169.5 243.2,169.6 243.2,169.8 243.3,169.8 243.4,169.9 243.6,169.9 243.6,169.9 243.7,169.9 243.8,169.9 243.8,169.9 243.9,169.8 244.1,169.8 244.1,169.8 244.2,169.8 244.2,169.9 244.3,169.9 244.4,170.0 244.6,170.0 244.6,170.1 244.7,170.1 244.8,170.1 244.8,170.1 244.9,170.1 245.1,170.2 245.1,170.2 245.2,170.1 245.2,170.1 245.3,170.0 245.6,169.9 246.1,169.6 246.6,169.5 247.1,169.5 247.6,169.7 248.1,169.5 248.6,169.8 249.1,169.9 249.6,170.0 250.1,170.0 250.6,169.9 251.1,169.9 251.6,169.8 251.7,169.8 251.8,169.8 251.9,169.8 252.0,169.7 252.1,169.7 252.2,169.7 252.3,169.7 252.4,169.7 252.5,169.7 252.6,169.7 252.7,169.7 252.8,169.7 252.9,169.6 253.0,169.6 253.1,169.5 253.2,169.5 253.3,169.5 253.4,169.5 253.5,169.5 253.6,169.5 253.7,169.5 253.8,169.5 253.9,169.5 254.0,169.5 254.1,169.5 254.2,169.5 254.3,169.5 254.4,169.5 254.5,169.5 254.6,169.5 254.7,169.5 254.8,169.5 254.9,169.5 255.0,169.5 255.1,169.5 255.2,169.5 255.3,169.5 255.4,169.5 255.5,169.5 255.6,169.5 255.7,169.5 255.8,169.5 255.9,169.5 256.0,169.5 256.1,169.5 256.2,169.6 256.3,169.6 256.4,169.7 256.5,169.7 256.6,169.7 256.7,169.8 256.8,169.9 256.9,169.9 257.0,170.0 257.1,170.0 257.2,170.0 257.3,170.0 257.4,170.0 257.5,169.9 257.6,169.9 257.7,169.9 258.1,169.9 258.6,169.6 259.1,169.6 259.6,169.6 259.7,169.5 259.8,169.5 259.9,169.5 260.0,169.5 260.1,169.5 260.2,169.5 260.3,169.5 260.4,169.5 260.5,169.5 260.6,169.5 260.7,169.5 260.8,169.5 260.9,169.5 261.0,169.5 261.1,169.5 261.2,169.5 261.3,169.5 261.4,169.5 261.5,169.5 261.6,169.5 261.7,169.5 261.8,169.5 261.9,169.5 262.0,169.5 262.1,169.5 262.2,169.5 262.3,169.5 262.4,169.5 262.5,169.5 262.6,169.5 262.7,169.5 262.8,169.5 262.9,169.5 263.0,169.5 263.1,169.5 263.2,169.5 263.3,169.5 263.4,169.5 263.5,169.5 263.6,169.5 263.7,169.5 263.8,169.5 263.9,169.5 264.0,169.5 264.1,169.5 264.2,169.5 264.3,169.5 264.4,169.5 264.5,169.5 264.6,169.5 264.7,169.5 264.8,169.5 264.9,169.5 265.0,169.5 265.1,169.5 265.2,169.5 265.3,169.6 265.4,169.7 265.5,169.7 265.6,169.7 265.7,169.7 265.8,169.5 265.9,169.5 266.0,169.5 266.1,169.5 266.2,169.5 266.3,169.5 266.4,169.5 266.5,169.5 266.6,169.5 266.7,169.5 266.8,169.5 266.9,169.5 267.0,169.5 267.1,169.5 267.2,169.5 267.3,169.5 267.4,169.5 267.5,169.5 267.6,169.5 267.7,169.5 267.8,169.5 267.9,169.5 268.0,169.5 268.1,169.5 268.2,169.5 268.3,169.5 268.4,169.5 268.5,169.5 268.6,169.5 268.7,169.5 268.8,169.5 268.9,169.5 269.0,169.5 269.1,169.5 269.2,169.6 269.3,169.7 269.4,169.8 269.5,169.9 269.6,170.0 269.7,170.0 269.8,170.0 269.9,170.0 270.0,170.0 270.1,170.0 270.6,170.2 271.1,170.2 271.6,170.3 272.1,170.3 272.6,170.2 273.1,170.1 273.6,169.9 274.1,169.8 274.6,169.9 275.1,169.8 275.6,169.8 276.1,169.9 276.6,169.8" fill="none" stroke="#151515" stroke-width="2.0" stroke-linejoin="round"/>
<text transform="translate(98.66,145.60) scale(0.760,1)" style="font-family:'Liberation Sans', sans-serif;font-size:8.14px;" fill="#2a2a2a" stroke="#2a2a2a" stroke-width="0.18">T</text>
<text x="102.69" y="145.60" style="font-family:'Liberation Sans', sans-serif;font-size:7.73px;" fill="#2a2a2a" stroke="#2a2a2a" stroke-width="0.18">i</text>
<text transform="translate(110.46,110.00) scale(0.710,1)" style="font-family:'Liberation Sans', sans-serif;font-size:8.72px;" fill="#2a2a2a" stroke="#2a2a2a" stroke-width="0.18">T</text>
<text x="114.43" y="110.00" style="font-family:'Liberation Sans', sans-serif;font-size:8.28px;" fill="#2a2a2a" stroke="#2a2a2a" stroke-width="0.18">i</text>
<text transform="translate(116.93,29.00) scale(0.844,1)" style="font-family:'Liberation Sans', sans-serif;font-size:8.72px;" fill="#2a2a2a" stroke="#2a2a2a" stroke-width="0.18">T</text>
<text x="121.84" y="29.00" style="font-family:'Liberation Sans', sans-serif;font-size:8.28px;" fill="#2a2a2a" stroke="#2a2a2a" stroke-width="0.18">i</text>
<text transform="translate(168.13,134.00) scale(0.873,1)" style="font-family:'Liberation Sans', sans-serif;font-size:8.43px;" fill="#2a2a2a" stroke="#2a2a2a" stroke-width="0.18">T</text>
<text x="173.07" y="134.00" style="font-family:'Liberation Sans', sans-serif;font-size:8.00px;" fill="#2a2a2a" stroke="#2a2a2a" stroke-width="0.18">i</text>
<text transform="translate(207.63,152.00) scale(0.973,1)" style="font-family:'Liberation Sans', sans-serif;font-size:7.56px;" fill="#2a2a2a" stroke="#2a2a2a" stroke-width="0.18">T</text>
<text x="212.66" y="152.00" style="font-family:'Liberation Sans', sans-serif;font-size:7.18px;" fill="#2a2a2a" stroke="#2a2a2a" stroke-width="0.18">i</text>
<text transform="translate(238.35,134.60) scale(0.914,1)" style="font-family:'Liberation Sans', sans-serif;font-size:7.41px;" fill="#2a2a2a" stroke="#2a2a2a" stroke-width="0.18">T</text>
<text x="242.92" y="134.60" style="font-family:'Liberation Sans', sans-serif;font-size:7.04px;" fill="#2a2a2a" stroke="#2a2a2a" stroke-width="0.18">i</text>
<text transform="translate(260.66,146.80) scale(0.734,1)" style="font-family:'Liberation Sans', sans-serif;font-size:8.43px;" fill="#2a2a2a" stroke="#2a2a2a" stroke-width="0.18">T</text>
<text x="264.66" y="146.80" style="font-family:'Liberation Sans', sans-serif;font-size:8.00px;" fill="#2a2a2a" stroke="#2a2a2a" stroke-width="0.18">i</text>
<text transform="translate(266.36,156.40) scale(0.678,1)" style="font-family:'Liberation Sans', sans-serif;font-size:9.30px;" fill="#2a2a2a" stroke="#2a2a2a" stroke-width="0.18">T</text>
<text x="270.36" y="156.40" style="font-family:'Liberation Sans', sans-serif;font-size:8.83px;" fill="#2a2a2a" stroke="#2a2a2a" stroke-width="0.18">i</text>
<text x="42.10" y="166.92" style="font-family:'Liberation Serif', serif;font-size:7.90px;font-style:italic;" fill="#000" stroke="#000" stroke-width="0.3">Ti - cp</text>
<text x="45.54" y="32.68" style="font-family:'Liberation Sans', sans-serif;font-size:19.80px;font-weight:bold;" fill="#000">a</text>
<text x="154.28" y="200.79" style="font-family:'Liberation Serif', serif;font-size:10.20px;font-weight:bold;" fill="#000" stroke="#000" stroke-width="0.3">20</text>
<line x1="323.5" y1="3.5" x2="563.5" y2="3.5" stroke="#333333" stroke-width="1.15"/>
<line x1="563.5" y1="3.5" x2="563.5" y2="177.5" stroke="#4a4a4a" stroke-width="1.15"/>
<line x1="323.5" y1="177.5" x2="563.5" y2="177.5" stroke="#6a6a6a" stroke-width="1.15"/>
<line x1="323.5" y1="3.5" x2="323.5" y2="177.5" stroke="#4a4a4a" stroke-width="1.15"/>
<line x1="319.5" y1="177.6" x2="323.5" y2="177.6" stroke="#505050" stroke-width="1.15"/>
<text x="313.86" y="179.32" style="font-family:'Liberation Sans', sans-serif;font-size:6.45px;" fill="#000" stroke="#000" stroke-width="0.3">0</text>
<line x1="321.5" y1="160.15" x2="323.5" y2="160.15" stroke="#505050" stroke-width="1.15"/>
<line x1="319.5" y1="142.7" x2="323.5" y2="142.7" stroke="#505050" stroke-width="1.15"/>
<text x="303.10" y="144.42" style="font-family:'Liberation Sans', sans-serif;font-size:6.45px;" fill="#000" stroke="#000" stroke-width="0.3">5000</text>
<line x1="321.5" y1="125.25" x2="323.5" y2="125.25" stroke="#505050" stroke-width="1.15"/>
<line x1="319.5" y1="107.8" x2="323.5" y2="107.8" stroke="#505050" stroke-width="1.15"/>
<text x="299.52" y="109.52" style="font-family:'Liberation Sans', sans-serif;font-size:6.45px;" fill="#000" stroke="#000" stroke-width="0.3">10000</text>
<line x1="321.5" y1="90.35" x2="323.5" y2="90.35" stroke="#505050" stroke-width="1.15"/>
<line x1="319.5" y1="72.89999999999999" x2="323.5" y2="72.89999999999999" stroke="#505050" stroke-width="1.15"/>
<text x="299.52" y="74.62" style="font-family:'Liberation Sans', sans-serif;font-size:6.45px;" fill="#000" stroke="#000" stroke-width="0.3">15000</text>
<line x1="321.5" y1="55.44999999999999" x2="323.5" y2="55.44999999999999" stroke="#505050" stroke-width="1.15"/>
<line x1="319.5" y1="38.0" x2="323.5" y2="38.0" stroke="#505050" stroke-width="1.15"/>
<text x="299.52" y="39.72" style="font-family:'Liberation Sans', sans-serif;font-size:6.45px;" fill="#000" stroke="#000" stroke-width="0.3">20000</text>
<line x1="321.5" y1="20.549999999999983" x2="323.5" y2="20.549999999999983" stroke="#505050" stroke-width="1.15"/>
<line x1="319.5" y1="3.0999999999999943" x2="323.5" y2="3.0999999999999943" stroke="#505050" stroke-width="1.15"/>
<text x="299.52" y="4.82" style="font-family:'Liberation Sans', sans-serif;font-size:6.45px;" fill="#000" stroke="#000" stroke-width="0.3">25000</text>
<line x1="323.5" y1="177.5" x2="323.5" y2="181.5" stroke="#505050" stroke-width="1.15"/>
<text x="319.79" y="189.07" style="font-family:'Liberation Sans', sans-serif;font-size:6.60px;" fill="#000" stroke="#000" stroke-width="0.3">20</text>
<line x1="343.5" y1="177.5" x2="343.5" y2="180.0" stroke="#505050" stroke-width="1.15"/>
<line x1="363.5" y1="177.5" x2="363.5" y2="181.5" stroke="#505050" stroke-width="1.15"/>
<text x="359.83" y="189.07" style="font-family:'Liberation Sans', sans-serif;font-size:6.60px;" fill="#000" stroke="#000" stroke-width="0.3">30</text>
<line x1="383.5" y1="177.5" x2="383.5" y2="180.0" stroke="#505050" stroke-width="1.15"/>
<line x1="403.5" y1="177.5" x2="403.5" y2="181.5" stroke="#505050" stroke-width="1.15"/>
<text x="399.88" y="189.07" style="font-family:'Liberation Sans', sans-serif;font-size:6.60px;" fill="#000" stroke="#000" stroke-width="0.3">40</text>
<line x1="423.5" y1="177.5" x2="423.5" y2="180.0" stroke="#505050" stroke-width="1.15"/>
<line x1="443.5" y1="177.5" x2="443.5" y2="181.5" stroke="#505050" stroke-width="1.15"/>
<text x="439.83" y="189.07" style="font-family:'Liberation Sans', sans-serif;font-size:6.60px;" fill="#000" stroke="#000" stroke-width="0.3">50</text>
<line x1="463.5" y1="177.5" x2="463.5" y2="180.0" stroke="#505050" stroke-width="1.15"/>
<line x1="483.5" y1="177.5" x2="483.5" y2="181.5" stroke="#505050" stroke-width="1.15"/>
<text x="479.79" y="189.07" style="font-family:'Liberation Sans', sans-serif;font-size:6.60px;" fill="#000" stroke="#000" stroke-width="0.3">60</text>
<line x1="503.5" y1="177.5" x2="503.5" y2="180.0" stroke="#505050" stroke-width="1.15"/>
<line x1="523.5" y1="177.5" x2="523.5" y2="181.5" stroke="#505050" stroke-width="1.15"/>
<text x="519.79" y="189.07" style="font-family:'Liberation Sans', sans-serif;font-size:6.60px;" fill="#000" stroke="#000" stroke-width="0.3">70</text>
<line x1="543.5" y1="177.5" x2="543.5" y2="180.0" stroke="#505050" stroke-width="1.15"/>
<line x1="563.5" y1="177.5" x2="563.5" y2="181.5" stroke="#505050" stroke-width="1.15"/>
<text x="559.81" y="189.07" style="font-family:'Liberation Sans', sans-serif;font-size:6.60px;" fill="#000" stroke="#000" stroke-width="0.3">80</text>
<path d="M324.0,176.0 324.5,176.4 325.0,176.6 325.5,176.9 326.0,176.7 326.5,176.6 327.0,176.6 327.5,176.6 328.0,176.5 328.5,176.6 329.0,176.3 329.5,176.4 330.0,176.5 330.5,176.7 331.0,176.5 331.5,176.5 332.0,176.4 332.5,176.6 333.0,176.6 333.5,176.7 334.0,176.7 334.5,176.5 335.0,176.6 335.5,176.8 336.0,176.7 336.5,176.4 337.0,175.9 337.5,176.2 338.0,176.5 338.5,176.8 339.0,176.8 339.5,176.8 340.0,176.7 340.5,176.6 340.6,176.6 340.7,176.6 340.8,176.6 340.9,176.6 341.0,176.6 341.1,176.6 341.2,176.5 341.3,176.5 341.4,176.5 341.5,176.4 341.6,176.4 341.7,176.4 341.8,176.3 341.9,176.3 342.0,176.3 342.1,176.2 342.2,176.2 342.3,176.1 342.4,176.0 342.5,176.0 342.6,176.0 342.7,176.0 342.8,176.0 342.9,175.9 343.0,175.9 343.1,175.8 343.2,175.7 343.3,175.6 343.4,175.5 343.5,175.4 343.6,175.2 343.7,175.1 343.8,175.0 343.9,174.8 344.0,174.7 344.1,174.6 344.2,174.5 344.3,174.4 344.4,174.4 344.5,174.3 344.6,174.4 344.7,174.4 344.8,174.5 344.9,174.6 345.0,174.7 345.1,174.8 345.2,174.9 345.3,175.0 345.4,175.1 345.5,175.2 345.6,175.4 345.7,175.5 345.8,175.7 345.9,175.8 346.0,176.0 346.1,176.0 346.2,176.0 346.3,176.0 346.4,176.0 346.5,176.0 346.6,176.1 346.7,176.2 346.8,176.3 346.9,176.4 347.0,176.4 347.1,176.4 347.2,176.5 347.3,176.5 347.4,176.5 347.5,176.5 347.6,176.5 347.7,176.5 347.8,176.6 347.9,176.6 348.0,176.6 348.1,176.6 348.2,176.6 348.3,176.5 348.4,176.5 348.5,176.5 349.0,176.5 349.2,176.6 349.3,176.6 349.4,176.7 349.5,176.7 349.6,176.7 349.7,176.7 349.8,176.7 349.9,176.7 350.0,176.8 350.1,176.8 350.2,176.8 350.3,176.8 350.4,176.8 350.5,176.8 350.6,176.7 350.7,176.7 350.8,176.7 350.9,176.6 351.0,176.5 351.1,176.4 351.2,176.3 351.3,176.2 351.4,176.1 351.5,175.9 351.6,175.7 351.7,175.5 351.8,175.4 351.9,175.2 352.0,175.0 352.1,174.8 352.2,174.7 352.3,174.6 352.4,174.5 352.5,174.4 352.6,174.3 352.7,174.2 352.8,174.1 352.9,174.0 353.0,174.0 353.1,174.0 353.2,174.0 353.3,174.1 353.4,174.1 353.5,174.2 353.6,174.3 353.7,174.4 353.8,174.5 353.9,174.6 354.0,174.7 354.1,174.9 354.2,175.1 354.3,175.2 354.4,175.4 354.5,175.5 354.6,175.6 354.7,175.7 354.8,175.8 354.9,175.9 355.0,175.9 355.1,176.0 355.2,176.0 355.3,176.0 355.4,176.1 355.5,176.1 355.6,176.0 355.7,176.0 355.8,175.9 355.9,175.9 356.0,175.8 356.1,175.9 356.2,176.0 356.3,176.1 356.4,176.1 356.5,176.2 356.6,176.2 356.7,176.3 356.8,176.3 356.9,176.4 357.0,176.4 357.5,177.0 358.0,176.8 358.5,176.7 359.0,176.6 359.5,176.6 360.0,176.5 360.5,176.4 361.0,176.6 361.5,176.8 362.0,177.0 362.5,176.7 363.0,176.6 363.5,176.7 364.0,176.7 364.5,176.7 365.0,176.6 365.5,176.5 366.0,176.6 366.5,176.8 367.0,176.8 367.5,176.9 368.0,176.7 368.5,176.8 369.0,176.5 369.5,176.6 370.0,176.6 370.5,176.6 371.0,176.6 371.5,176.5 371.6,176.4 371.7,176.4 371.8,176.4 371.9,176.4 372.0,176.4 372.1,176.4 372.2,176.3 372.3,176.3 372.4,176.3 372.5,176.2 372.6,176.2 372.7,176.2 372.8,176.2 372.9,176.2 373.0,176.1 373.1,176.1 373.2,176.1 373.3,176.1 373.4,176.0 373.5,176.0 373.6,176.0 373.7,176.0 373.8,175.9 373.9,175.9 374.0,175.9 374.1,175.9 374.2,175.8 374.3,175.8 374.4,175.8 374.5,175.8 374.6,175.9 374.7,175.9 374.8,176.0 374.9,176.1 375.0,176.2 375.1,176.3 375.2,176.4 375.3,176.4 375.4,176.5 375.5,176.6 375.6,176.6 375.7,176.7 375.8,176.7 375.9,176.7 376.0,176.8 376.1,176.8 376.2,176.8 376.3,176.8 376.4,176.9 376.5,176.9 376.6,176.8 376.7,176.8 376.8,176.8 376.9,176.8 377.0,176.7 377.1,176.8 377.2,176.8 377.3,176.9 377.4,176.9 377.5,177.0 378.0,176.6 378.5,176.8 379.0,176.4 379.5,176.6 380.0,176.6 380.5,176.7 380.6,176.7 380.7,176.7 380.8,176.7 380.9,176.7 381.0,176.8 381.1,176.8 381.2,176.8 381.3,176.8 381.4,176.8 381.5,176.8 381.6,176.9 381.7,176.8 381.8,176.8 381.9,176.5 382.0,175.9 382.1,174.6 382.2,172.3 382.3,169.3 382.4,165.4 382.5,161.2 382.6,157.0 382.7,153.4 382.8,150.3 382.9,148.1 383.0,146.4 383.1,145.1 383.2,144.0 383.3,142.9 383.4,141.7 383.5,141.2 383.6,141.7 383.7,142.9 383.8,144.0 383.9,145.1 384.0,146.4 384.1,148.1 384.2,150.3 384.3,153.3 384.4,157.0 384.5,161.2 384.6,165.4 384.7,169.3 384.8,172.3 384.9,174.5 385.0,175.7 385.1,176.3 385.2,176.6 385.3,176.6 385.4,176.6 385.5,176.6 385.6,176.6 385.7,176.5 385.8,176.5 385.9,176.5 386.0,176.5 386.1,176.4 386.2,176.4 386.3,176.4 386.4,176.4 386.5,176.4 387.0,176.4 387.5,176.4 388.0,176.7 388.5,176.9 389.0,176.8 389.4,176.7 389.5,176.6 389.6,176.5 389.7,176.5 389.8,176.3 389.9,176.2 390.0,176.0 390.1,175.9 390.2,175.7 390.3,175.4 390.4,174.9 390.5,174.4 390.6,173.8 390.7,173.1 390.8,172.4 390.9,171.7 391.0,171.1 391.1,170.8 391.2,170.6 391.3,170.7 391.4,171.0 391.5,171.4 391.6,172.0 391.7,172.6 391.8,173.1 391.9,173.5 392.0,173.8 392.1,174.0 392.2,174.0 392.3,173.9 392.4,173.7 392.5,173.4 392.6,173.0 392.7,172.4 392.8,171.8 392.9,171.1 393.0,170.2 393.1,169.3 393.2,168.3 393.3,167.3 393.4,166.1 393.5,165.0 393.6,163.7 393.7,162.4 393.8,161.1 393.9,159.8 394.0,158.4 394.1,157.1 394.2,155.8 394.3,154.8 394.4,154.1 394.5,153.8 394.6,154.1 394.7,154.8 394.8,155.9 394.9,157.1 395.0,158.5 395.1,159.8 395.2,161.2 395.3,162.5 395.4,163.8 395.5,165.0 395.6,166.2 395.7,167.4 395.8,168.5 395.9,169.5 396.0,170.4 396.1,171.3 396.2,172.0 396.3,172.7 396.4,173.4 396.5,173.9 396.6,174.4 396.7,174.8 396.8,175.2 396.9,175.6 397.0,175.9 397.1,176.0 397.2,176.1 397.3,176.2 397.4,176.2 397.5,176.2 397.6,176.3 397.7,176.4 397.8,176.4 397.9,176.5 398.0,176.5 398.1,176.5 398.5,176.4 399.0,176.5 399.5,176.4 400.0,176.5 400.1,176.5 400.2,176.5 400.3,176.5 400.4,176.5 400.5,176.5 400.6,176.5 400.7,176.5 400.8,176.5 400.9,176.4 401.0,176.4 401.1,176.4 401.2,176.3 401.3,175.9 401.4,174.9 401.5,172.2 401.6,167.0 401.7,158.2 401.8,145.4 401.9,129.3 402.0,111.5 402.1,94.0 402.2,78.5 402.3,66.0 402.4,56.6 402.5,49.9 402.6,45.1 402.7,41.1 402.8,37.1 402.9,33.4 403.0,31.6 403.1,33.3 403.2,37.0 403.3,40.9 403.4,44.8 403.5,49.6 403.6,56.1 403.7,65.4 403.8,77.7 403.9,93.0 404.0,110.2 404.1,127.5 404.2,143.1 404.3,155.3 404.4,163.3 404.5,167.5 404.6,168.9 404.7,168.7 404.8,167.6 404.9,166.4 405.0,165.0 405.1,163.8 405.2,162.8 405.3,162.2 405.4,162.0 405.5,162.3 405.6,162.9 405.7,164.0 405.8,165.2 405.9,166.6 406.0,168.0 406.1,169.4 406.2,170.7 406.3,171.8 406.4,172.9 406.5,173.7 406.6,174.4 406.7,175.0 406.8,175.4 406.9,175.8 407.0,176.0 407.1,176.2 407.2,176.3 407.3,176.3 407.4,176.3 407.5,176.4 408.0,176.5 408.5,176.6 409.0,176.7 409.5,176.8 410.0,176.9 410.5,176.7 411.0,176.6 411.5,176.4 412.0,176.8 412.2,176.8 412.3,176.8 412.4,176.8 412.5,176.9 412.6,176.8 412.7,176.8 412.8,176.8 412.9,176.8 413.0,176.7 413.1,176.6 413.2,176.5 413.3,176.3 413.4,176.1 413.5,175.9 413.6,175.7 413.7,175.5 413.8,175.3 413.9,175.0 414.0,174.7 414.1,174.3 414.2,174.0 414.3,173.6 414.4,173.2 414.5,172.8 414.6,172.3 414.7,171.8 414.8,171.4 414.9,171.0 415.0,170.6 415.1,170.4 415.2,170.3 415.3,170.4 415.4,170.6 415.5,171.0 415.6,171.4 415.7,171.9 415.8,172.3 415.9,172.8 416.0,173.3 416.1,173.8 416.2,174.2 416.3,174.6 416.4,174.9 416.5,175.2 416.6,175.5 416.7,175.7 416.8,175.9 416.9,176.0 417.0,176.1 417.1,176.2 417.2,176.3 417.3,176.4 417.4,176.5 417.5,176.6 417.6,176.6 417.7,176.7 417.8,176.7 417.9,176.7 418.0,176.7 418.1,176.8 418.2,176.9 418.5,177.0 419.0,176.9 419.5,176.9 420.0,177.2 420.5,177.3 421.0,177.1 421.5,177.0 422.0,176.8 422.5,177.0 423.0,176.7 423.5,177.1 424.0,176.9 424.5,177.2 425.0,177.1 425.5,177.0 426.0,176.5 426.5,176.5 427.0,176.9 427.5,177.1 428.0,177.2 428.5,177.0 429.0,177.1 429.5,177.1 430.0,177.2 430.5,177.0 431.0,177.1 431.5,177.2 432.0,177.2 432.5,177.3 433.0,177.2 433.5,177.3 434.0,176.8 434.5,176.8 435.0,176.9 435.5,177.1 436.0,176.8 436.5,176.8 437.0,176.8 437.5,177.0 438.0,177.2 438.5,177.6 439.0,177.8 439.5,177.4 440.0,177.2 440.5,176.7 441.0,176.8 441.5,176.6 442.0,176.7 442.5,176.5 443.0,176.7 443.5,176.9 444.0,177.1 444.5,177.1 445.0,177.0 445.5,176.8 446.0,176.5 446.5,176.5 447.0,176.8 447.5,177.0 448.0,177.1 448.5,176.9 449.0,176.8 449.5,176.6 450.0,176.5 450.1,176.6 450.2,176.6 450.3,176.7 450.4,176.7 450.5,176.7 450.6,176.7 450.7,176.7 450.8,176.6 450.9,176.6 451.0,176.5 451.1,176.3 451.2,176.1 451.3,175.9 451.4,175.6 451.5,175.3 451.6,174.9 451.7,174.4 451.8,173.8 451.9,173.2 452.0,172.6 452.1,171.9 452.2,171.1 452.3,170.3 452.4,169.4 452.5,168.4 452.6,167.5 452.7,166.5 452.8,165.4 452.9,164.4 453.0,163.4 453.1,162.4 453.2,161.6 453.3,161.1 453.4,160.9 453.5,161.1 453.6,161.6 453.7,162.4 453.8,163.4 453.9,164.4 454.0,165.4 454.1,166.4 454.2,167.4 454.3,168.4 454.4,169.3 454.5,170.1 454.6,171.0 454.7,171.7 454.8,172.4 454.9,172.9 455.0,173.4 455.1,173.8 455.2,174.1 455.3,174.4 455.4,174.6 455.5,174.7 455.6,174.8 455.7,174.8 455.8,174.7 455.9,174.6 456.0,174.4 456.1,174.3 456.2,174.1 456.3,173.9 456.4,173.7 456.5,173.6 456.6,173.4 456.7,173.4 456.8,173.4 456.9,173.4 457.0,173.5 457.1,173.6 457.2,173.8 457.3,174.0 457.4,174.3 457.5,174.5 457.6,174.8 457.7,175.0 457.8,175.3 457.9,175.5 458.0,175.7 458.1,175.9 458.2,176.0 458.3,176.2 458.4,176.3 458.5,176.4 458.6,176.5 458.7,176.6 458.8,176.7 458.9,176.8 459.0,176.9 459.1,177.0 459.2,177.0 459.3,177.0 459.4,177.1 459.5,177.1 459.6,177.1 459.7,177.1 459.8,177.0 459.9,177.0 460.0,176.9 460.1,176.8 460.2,176.8 460.3,176.6 460.4,176.5 460.5,176.4 460.6,176.2 460.7,176.1 460.8,175.9 460.9,175.7 461.0,175.6 461.1,175.5 461.2,175.4 461.3,175.4 461.4,175.4 461.5,175.5 461.6,175.5 461.7,175.6 461.8,175.7 461.9,175.9 462.0,176.0 462.1,176.1 462.2,176.3 462.3,176.4 462.4,176.5 462.5,176.6 462.6,176.7 462.7,176.7 462.8,176.8 462.9,176.8 463.0,176.8 463.1,176.9 463.2,176.9 463.3,176.9 463.4,177.0 463.5,177.0 463.6,176.9 463.7,176.9 463.8,176.9 464.0,176.8 464.5,176.7 465.0,176.5 465.5,176.6 466.0,176.6 466.5,176.5 467.0,176.8 467.5,177.0 468.0,177.5 468.5,177.4 469.0,177.5 469.5,177.2 470.0,177.2 470.5,176.9 471.0,176.7 471.5,176.5 472.0,176.8 472.5,177.3 473.0,177.4 473.5,177.4 474.0,177.1 474.5,177.2 475.0,177.3 475.5,177.4 476.0,177.2 476.5,176.9 477.0,177.1 477.5,177.2 478.0,177.3 478.5,177.2 479.0,177.2 479.5,177.1 480.0,176.9 480.5,176.7 481.0,176.5 481.5,176.7 482.0,177.2 482.5,177.2 483.0,177.1 483.5,176.9 484.0,177.0 484.5,177.0 485.0,176.8 485.5,177.1 486.0,177.0 486.5,177.1 487.0,177.1 487.5,177.1 488.0,176.8 488.5,176.7 489.0,176.8 489.5,177.0 490.0,177.1 490.5,176.8 491.0,176.8 491.4,176.8 491.5,176.8 491.6,176.8 491.7,176.7 491.8,176.7 491.9,176.6 492.0,176.6 492.1,176.5 492.2,176.3 492.3,176.1 492.4,175.9 492.5,175.6 492.6,175.1 492.7,174.6 492.8,174.0 492.9,173.2 493.0,172.4 493.1,171.5 493.2,170.5 493.3,169.4 493.4,168.2 493.5,166.9 493.6,165.6 493.7,164.1 493.8,162.7 493.9,161.2 494.0,159.8 494.1,158.5 494.2,157.4 494.3,156.7 494.4,156.4 494.5,156.7 494.6,157.4 494.7,158.5 494.8,159.8 494.9,161.2 495.0,162.7 495.1,164.2 495.2,165.6 495.3,166.9 495.4,168.2 495.5,169.4 495.6,170.5 495.7,171.5 495.8,172.4 495.9,173.2 496.0,173.9 496.1,174.6 496.2,175.1 496.3,175.6 496.4,175.9 496.5,176.3 496.6,176.5 496.7,176.7 496.8,176.8 496.9,177.0 497.0,177.1 497.1,177.1 497.2,177.1 497.3,177.2 497.4,177.2 497.5,177.2 498.0,177.1 498.5,177.1 499.0,177.0 499.5,177.2 500.0,177.2 500.5,177.5 501.0,177.3 501.5,177.2 502.0,176.9 502.5,177.0 503.0,176.9 503.5,177.0 504.0,176.9 504.5,177.1 505.0,177.2 505.5,177.1 506.0,177.2 506.5,176.8 507.0,176.7 507.5,176.5 508.0,176.8 508.5,177.1 509.0,176.9 509.5,176.9 510.0,176.9 510.5,177.3 511.0,177.2 511.5,177.3 512.0,177.0 512.5,177.0 513.0,176.9 513.5,177.1 514.0,177.0 514.5,176.9 515.0,176.9 515.5,177.2 516.0,177.4 516.5,177.3 517.0,177.0 517.5,177.1 517.6,177.1 517.7,177.1 517.8,177.0 517.9,177.0 518.0,177.0 518.1,177.0 518.2,177.1 518.3,177.1 518.4,177.1 518.5,177.1 518.6,177.1 518.7,177.0 518.8,176.9 518.9,176.8 519.0,176.7 519.1,176.6 519.2,176.4 519.3,176.3 519.4,176.1 519.5,175.9 519.6,175.7 519.7,175.5 519.8,175.2 519.9,175.0 520.0,174.7 520.1,174.4 520.2,174.2 520.3,173.9 520.4,173.5 520.5,173.2 520.6,172.9 520.7,172.5 520.8,172.1 520.9,171.7 521.0,171.3 521.1,170.9 521.2,170.4 521.3,170.0 521.4,169.6 521.5,169.1 521.6,168.7 521.7,168.4 521.8,168.0 521.9,167.7 522.0,167.4 522.1,167.3 522.2,167.1 522.3,167.1 522.4,167.1 522.5,167.3 522.6,167.4 522.7,167.7 522.8,168.0 522.9,168.4 523.0,168.7 523.1,169.1 523.2,169.6 523.3,170.0 523.4,170.4 523.5,170.9 523.6,171.3 523.7,171.7 523.8,172.1 523.9,172.5 524.0,172.9 524.1,173.3 524.2,173.6 524.3,174.0 524.4,174.3 524.5,174.5 524.6,174.8 524.7,175.0 524.8,175.2 524.9,175.4 525.0,175.6 525.1,175.8 525.2,175.9 525.3,176.0 525.4,176.2 525.5,176.3 525.6,176.3 525.7,176.3 525.8,176.3 525.9,176.3 526.0,176.3 526.1,176.4 526.2,176.4 526.3,176.5 526.4,176.5 526.5,176.5 526.6,176.6 526.7,176.6 526.8,176.6 526.9,176.7 527.0,176.7 527.1,176.7 527.5,176.7 528.0,176.8 528.5,176.8 529.0,177.1 529.5,177.1 530.0,177.0 530.5,176.9 531.0,176.9 531.5,177.1 532.0,177.0 532.5,177.1 533.0,176.9 533.5,177.0 534.0,176.9 534.5,176.7 535.0,176.7 535.5,176.8 535.9,176.9 536.0,177.0 536.1,177.0 536.2,176.9 536.3,176.9 536.4,176.9 536.5,176.9 536.6,177.0 536.7,177.1 536.8,177.1 536.9,177.2 537.0,177.2 537.1,177.2 537.2,177.1 537.3,177.0 537.4,177.0 537.5,176.9 537.6,176.8 537.7,176.8 537.8,176.7 537.9,176.7 538.0,176.6 538.1,176.4 538.2,176.2 538.3,176.0 538.4,175.9 538.5,175.7 538.6,175.6 538.7,175.5 538.8,175.4 538.9,175.4 539.0,175.3 539.1,175.3 539.2,175.3 539.3,175.3 539.4,175.4 539.5,175.4 539.6,175.5 539.7,175.6 539.8,175.7 539.9,175.8 540.0,175.9 540.1,176.0 540.2,176.2 540.3,176.3 540.4,176.4 540.5,176.6 540.6,176.7 540.7,176.7 540.8,176.8 540.9,176.8 541.0,176.9 541.1,176.9 541.2,177.0 541.3,177.0 541.4,177.0 541.5,177.0 541.6,177.0 541.7,177.0 541.8,177.0 541.9,177.0 542.0,177.0 542.1,176.9 542.2,176.9 542.3,176.8 542.4,176.8 542.5,176.7 542.9,177.0 543.0,177.1 543.1,177.0 543.2,177.0 543.3,176.9 543.4,176.8 543.5,176.7 543.6,176.6 543.7,176.5 543.8,176.4 543.9,176.3 544.0,176.1 544.1,175.9 544.2,175.6 544.3,175.3 544.4,174.9 544.5,174.6 544.6,174.2 544.7,173.8 544.8,173.4 544.9,172.9 545.0,172.4 545.1,171.8 545.2,171.2 545.3,170.5 545.4,169.8 545.5,169.1 545.6,168.4 545.7,167.7 545.8,167.1 545.9,166.5 546.0,166.1 546.1,165.8 546.2,165.7 546.3,165.8 546.4,166.1 546.5,166.5 546.6,167.0 546.7,167.7 546.8,168.3 546.9,169.0 547.0,169.8 547.1,170.5 547.2,171.1 547.3,171.8 547.4,172.3 547.5,172.9 547.6,173.4 547.7,173.8 547.8,174.2 547.9,174.6 548.0,175.0 548.1,175.2 548.2,175.4 548.3,175.6 548.4,175.7 548.5,175.8 548.6,175.9 548.7,176.0 548.8,176.0 548.9,176.0 549.0,176.0 549.1,175.9 549.2,175.8 549.3,175.6 549.4,175.5 549.5,175.3 549.6,175.1 549.7,174.9 549.8,174.7 549.9,174.4 550.0,174.1 550.1,173.7 550.2,173.3 550.3,172.8 550.4,172.4 550.5,171.8 550.6,171.2 550.7,170.6 550.8,170.0 550.9,169.4 551.0,168.8 551.1,168.3 551.2,167.8 551.3,167.4 551.4,167.2 551.5,167.1 551.6,167.2 551.7,167.4 551.8,167.8 551.9,168.3 552.0,168.9 552.1,169.5 552.2,170.1 552.3,170.7 552.4,171.3 552.5,171.9 552.6,172.5 552.7,173.0 552.8,173.5 552.9,174.0 553.0,174.4 553.1,174.8 553.2,175.1 553.3,175.4 553.4,175.6 553.5,175.9 553.6,176.1 553.7,176.2 553.8,176.4 553.9,176.5 554.0,176.6 554.1,176.6 554.2,176.7 554.3,176.7 554.4,176.8 554.5,176.8 554.6,176.8 554.7,176.8 554.8,176.8 555.0,176.8 555.5,177.0 556.0,177.0 556.5,177.1 557.0,176.9 557.5,177.1 558.0,177.1 558.5,177.7 559.0,177.4 559.5,177.5 560.0,177.1 560.5,177.2 561.0,177.2 561.5,177.2 562.0,177.1 562.5,177.1 563.0,177.2" fill="none" stroke="#151515" stroke-width="0.95" stroke-linejoin="round"/>
<path d="M324.0,176.4 324.5,176.7 325.0,176.9 325.5,177.2 326.0,177.0 326.5,176.9 327.0,176.9 327.5,176.9 328.0,176.8 328.5,176.9 329.0,176.6 329.5,176.7 330.0,176.8 330.5,177.0 331.0,176.8 331.5,176.8 332.0,176.7 332.5,176.9 333.0,176.9 333.5,177.0 334.0,177.0 334.5,176.8 335.0,176.9 335.5,177.1 336.0,177.0 336.5,176.7 337.0,176.5 337.5,176.5 338.0,176.8 338.5,177.1 339.0,177.1 339.5,177.1 340.0,177.0 340.5,176.9 340.6,176.9 340.7,176.9 340.8,176.9 340.9,176.9 341.0,176.9 341.1,176.9 341.2,176.8 341.3,176.8 341.4,176.8 341.5,176.7 341.6,176.7 341.7,176.7 341.8,176.6 341.9,176.6 342.0,176.6 342.1,176.5 342.2,176.5 342.3,176.5 342.4,176.5 342.5,176.5 342.6,176.5 342.7,176.5 342.8,176.5 342.9,176.5 343.0,176.5 343.1,176.5 343.2,176.5 343.3,176.5 343.4,176.5 343.5,176.5 343.6,176.5 343.7,176.5 343.8,176.5 343.9,176.5 344.0,176.5 344.1,176.5 344.2,176.5 344.3,176.5 344.4,176.5 344.5,176.5 344.6,176.5 344.7,176.5 344.8,176.5 344.9,176.5 345.0,176.5 345.1,176.5 345.2,176.5 345.3,176.5 345.4,176.5 345.5,176.5 345.6,176.5 345.7,176.5 345.8,176.5 345.9,176.5 346.0,176.5 346.1,176.5 346.2,176.5 346.3,176.5 346.4,176.5 346.5,176.5 346.6,176.5 346.7,176.5 346.8,176.6 346.9,176.7 347.0,176.7 347.1,176.7 347.2,176.8 347.3,176.8 347.4,176.8 347.5,176.8 347.6,176.8 347.7,176.8 347.8,176.9 347.9,176.9 348.0,176.9 348.1,176.9 348.2,176.9 348.3,176.8 348.4,176.8 348.5,176.8 349.0,176.8 349.2,176.9 349.3,176.9 349.4,177.0 349.5,177.0 349.6,177.0 349.7,177.0 349.8,177.0 349.9,177.0 350.0,177.1 350.1,177.1 350.2,177.1 350.3,177.1 350.4,177.1 350.5,177.1 350.6,177.0 350.7,177.0 350.8,177.0 350.9,176.9 351.0,176.8 351.1,176.7 351.2,176.6 351.3,176.6 351.4,176.6 351.5,176.6 351.6,176.6 351.7,176.6 351.8,176.6 351.9,176.6 352.0,176.6 352.1,176.6 352.2,176.6 352.3,176.6 352.4,176.6 352.5,176.6 352.6,176.6 352.7,176.6 352.8,176.6 352.9,176.6 353.0,176.6 353.1,176.6 353.2,176.6 353.3,176.6 353.4,176.6 353.5,176.6 353.6,176.6 353.7,176.6 353.8,176.6 353.9,176.6 354.0,176.6 354.1,176.6 354.2,176.6 354.3,176.6 354.4,176.6 354.5,176.6 354.6,176.6 354.7,176.6 354.8,176.6 354.9,176.6 355.0,176.6 355.1,176.6 355.2,176.6 355.3,176.6 355.4,176.6 355.5,176.6 355.6,176.6 355.7,176.6 355.8,176.6 355.9,176.6 356.0,176.6 356.1,176.6 356.2,176.6 356.3,176.6 356.4,176.6 356.5,176.6 356.6,176.6 356.7,176.6 356.8,176.6 356.9,176.7 357.0,176.7 357.5,177.3 358.0,177.1 358.5,177.0 359.0,176.9 359.5,176.9 360.0,176.8 360.5,176.7 361.0,176.9 361.5,177.1 362.0,177.3 362.5,177.0 363.0,176.9 363.5,177.0 364.0,177.0 364.5,177.0 365.0,176.9 365.5,176.8 366.0,176.9 366.5,177.1 367.0,177.1 367.5,177.2 368.0,177.0 368.5,177.1 369.0,176.8 369.5,176.9 370.0,176.9 370.5,176.9 371.0,176.9 371.5,176.8 371.6,176.7 371.7,176.7 371.8,176.7 371.9,176.7 372.0,176.7 372.1,176.7 372.2,176.7 372.3,176.7 372.4,176.7 372.5,176.7 372.6,176.7 372.7,176.7 372.8,176.7 372.9,176.7 373.0,176.7 373.1,176.7 373.2,176.7 373.3,176.7 373.4,176.7 373.5,176.7 373.6,176.7 373.7,176.7 373.8,176.7 373.9,176.7 374.0,176.7 374.1,176.7 374.2,176.7 374.3,176.7 374.4,176.7 374.5,176.7 374.6,176.7 374.7,176.7 374.8,176.7 374.9,176.7 375.0,176.7 375.1,176.7 375.2,176.7 375.3,176.7 375.4,176.8 375.5,176.9 375.6,176.9 375.7,177.0 375.8,177.0 375.9,177.0 376.0,177.1 376.1,177.1 376.2,177.1 376.3,177.1 376.4,177.2 376.5,177.2 376.6,177.1 376.7,177.1 376.8,177.1 376.9,177.1 377.0,177.0 377.1,177.1 377.2,177.1 377.3,177.2 377.4,177.2 377.5,177.3 378.0,176.9 378.5,177.1 379.0,176.7 379.5,176.9 380.0,176.9 380.5,177.0 380.6,177.0 380.7,177.0 380.8,177.0 380.9,177.0 381.0,177.1 381.1,177.1 381.2,177.1 381.3,177.1 381.4,177.1 381.5,177.1 381.6,177.2 381.7,177.1 381.8,177.1 381.9,176.8 382.0,176.7 382.1,176.7 382.2,176.7 382.3,176.7 382.4,176.7 382.5,176.7 382.6,176.7 382.7,176.7 382.8,176.7 382.9,176.7 383.0,176.7 383.1,176.7 383.2,176.7 383.3,176.7 383.4,176.7 383.5,176.7 383.6,176.7 383.7,176.7 383.8,176.7 383.9,176.7 384.0,176.7 384.1,176.7 384.2,176.7 384.3,176.7 384.4,176.7 384.5,176.7 384.6,176.7 384.7,176.7 384.8,176.7 384.9,176.7 385.0,176.7 385.1,176.7 385.2,176.9 385.3,176.9 385.4,176.9 385.5,176.9 385.6,176.9 385.7,176.8 385.8,176.8 385.9,176.8 386.0,176.8 386.1,176.7 386.2,176.7 386.3,176.7 386.4,176.7 386.5,176.7 387.0,176.7 387.5,176.7 388.0,177.0 388.5,177.2 389.0,177.1 389.4,177.0 389.5,176.9 389.6,176.8 389.7,176.8 389.8,176.7 389.9,176.7 390.0,176.8 390.1,176.8 390.2,176.8 390.3,176.8 390.4,176.8 390.5,176.8 390.6,176.8 390.7,176.8 390.8,176.8 390.9,176.8 391.0,176.8 391.1,176.8 391.2,176.8 391.3,176.8 391.4,176.8 391.5,176.8 391.6,176.8 391.7,176.8 391.8,176.8 391.9,176.8 392.0,176.8 392.1,176.8 392.2,176.8 392.3,176.8 392.4,176.8 392.5,176.8 392.6,176.8 392.7,176.8 392.8,176.8 392.9,176.8 393.0,176.8 393.1,176.8 393.2,176.8 393.3,176.8 393.4,176.8 393.5,176.8 393.6,176.8 393.7,176.8 393.8,176.8 393.9,176.8 394.0,176.8 394.1,176.8 394.2,176.8 394.3,176.8 394.4,176.8 394.5,176.8 394.6,176.8 394.7,176.8 394.8,176.8 394.9,176.8 395.0,176.8 395.1,176.8 395.2,176.8 395.3,176.8 395.4,176.8 395.5,176.8 395.6,176.8 395.7,176.8 395.8,176.8 395.9,176.8 396.0,176.8 396.1,176.8 396.2,176.8 396.3,176.8 396.4,176.8 396.5,176.8 396.6,176.8 396.7,176.8 396.8,176.8 396.9,176.8 397.0,176.8 397.1,176.8 397.2,176.8 397.3,176.8 397.4,176.8 397.5,176.8 397.6,176.8 397.7,176.8 397.8,176.8 397.9,176.8 398.0,176.8 398.1,176.8 398.5,176.8 399.0,176.8 399.5,176.8 400.0,176.8 400.1,176.8 400.2,176.8 400.3,176.8 400.4,176.8 400.5,176.8 400.6,176.8 400.7,176.8 400.8,176.8 400.9,176.8 401.0,176.8 401.1,176.8 401.2,176.8 401.3,176.8 401.4,176.8 401.5,176.8 401.6,176.8 401.7,176.8 401.8,176.8 401.9,176.8 402.0,176.8 402.1,176.8 402.2,176.8 402.3,176.8 402.4,176.8 402.5,176.8 402.6,176.8 402.7,176.8 402.8,176.8 402.9,176.8 403.0,176.8 403.1,176.8 403.2,176.8 403.3,176.8 403.4,176.8 403.5,176.8 403.6,176.8 403.7,176.8 403.8,176.8 403.9,176.8 404.0,176.8 404.1,176.8 404.2,176.8 404.3,176.8 404.4,176.8 404.5,176.8 404.6,176.8 404.7,176.8 404.8,176.8 404.9,176.8 405.0,176.8 405.1,176.8 405.2,176.8 405.3,176.8 405.4,176.8 405.5,176.8 405.6,176.8 405.7,176.8 405.8,176.8 405.9,176.8 406.0,176.8 406.1,176.8 406.2,176.8 406.3,176.8 406.4,176.8 406.5,176.8 406.6,176.8 406.7,176.8 406.8,176.8 406.9,176.8 407.0,176.8 407.1,176.8 407.2,176.8 407.3,176.8 407.4,176.8 407.5,176.8 408.0,176.8 408.5,176.9 409.0,177.0 409.5,177.1 410.0,177.2 410.5,177.0 411.0,176.9 411.5,176.9 412.0,177.1 412.2,177.1 412.3,177.1 412.4,177.1 412.5,177.2 412.6,177.1 412.7,177.1 412.8,177.1 412.9,177.1 413.0,177.0 413.1,176.9 413.2,176.9 413.3,176.9 413.4,176.9 413.5,176.9 413.6,176.9 413.7,176.9 413.8,176.9 413.9,176.9 414.0,176.9 414.1,176.9 414.2,176.9 414.3,176.9 414.4,176.9 414.5,176.9 414.6,176.9 414.7,176.9 414.8,176.9 414.9,176.9 415.0,176.9 415.1,176.9 415.2,176.9 415.3,176.9 415.4,176.9 415.5,176.9 415.6,176.9 415.7,176.9 415.8,176.9 415.9,176.9 416.0,176.9 416.1,176.9 416.2,176.9 416.3,176.9 416.4,176.9 416.5,176.9 416.6,176.9 416.7,176.9 416.8,176.9 416.9,176.9 417.0,176.9 417.1,176.9 417.2,176.9 417.3,176.9 417.4,176.9 417.5,176.9 417.6,176.9 417.7,177.0 417.8,177.0 417.9,177.0 418.0,177.0 418.1,177.1 418.2,177.2 418.5,177.3 419.0,177.2 419.5,177.2 420.0,177.5 420.5,177.6 421.0,177.4 421.5,177.3 422.0,177.1 422.5,177.3 423.0,177.0 423.5,177.4 424.0,177.2 424.5,177.5 425.0,177.4 425.5,177.3 426.0,176.9 426.5,176.9 427.0,177.2 427.5,177.4 428.0,177.5 428.5,177.3 429.0,177.4 429.5,177.4 430.0,177.5 430.5,177.3 431.0,177.4 431.5,177.5 432.0,177.5 432.5,177.6 433.0,177.5 433.5,177.6 434.0,177.1 434.5,177.1 435.0,177.2 435.5,177.4 436.0,177.1 436.5,177.1 437.0,177.1 437.5,177.3 438.0,177.5 438.5,177.9 439.0,178.1 439.5,177.7 440.0,177.5 440.5,177.0 441.0,177.1 441.5,176.9 442.0,177.0 442.5,176.9 443.0,177.0 443.5,177.2 444.0,177.4 444.5,177.4 445.0,177.3 445.5,177.1 446.0,176.9 446.5,176.9 447.0,177.1 447.5,177.3 448.0,177.4 448.5,177.2 449.0,177.1 449.5,176.9 450.0,176.9 450.1,176.9 450.2,176.9 450.3,177.0 450.4,177.0 450.5,177.0 450.6,177.0 450.7,177.0 450.8,176.9 450.9,176.9 451.0,176.9 451.1,176.9 451.2,176.9 451.3,176.9 451.4,176.9 451.5,176.9 451.6,176.9 451.7,176.9 451.8,176.9 451.9,176.9 452.0,176.9 452.1,176.9 452.2,176.9 452.3,176.9 452.4,176.9 452.5,176.9 452.6,176.9 452.7,176.9 452.8,176.9 452.9,176.9 453.0,176.9 453.1,176.9 453.2,176.9 453.3,176.9 453.4,176.9 453.5,176.9 453.6,176.9 453.7,176.9 453.8,176.9 453.9,176.9 454.0,176.9 454.1,176.9 454.2,176.9 454.3,176.9 454.4,176.9 454.5,176.9 454.6,176.9 454.7,176.9 454.8,176.9 454.9,176.9 455.0,176.9 455.1,176.9 455.2,176.9 455.3,176.9 455.4,176.9 455.5,176.9 455.6,176.9 455.7,176.9 455.8,177.0 455.9,177.0 456.0,177.0 456.1,177.0 456.2,177.0 456.3,177.0 456.4,177.0 456.5,177.0 456.6,177.0 456.7,177.0 456.8,177.0 456.9,177.0 457.0,177.0 457.1,177.0 457.2,177.0 457.3,177.0 457.4,177.0 457.5,177.0 457.6,177.0 457.7,177.0 457.8,177.0 457.9,177.0 458.0,177.0 458.1,177.0 458.2,177.0 458.3,177.0 458.4,177.0 458.5,177.0 458.6,177.0 458.7,177.0 458.8,177.0 458.9,177.1 459.0,177.2 459.1,177.3 459.2,177.3 459.3,177.3 459.4,177.4 459.5,177.4 459.6,177.4 459.7,177.4 459.8,177.3 459.9,177.3 460.0,177.2 460.1,177.1 460.2,177.1 460.3,177.0 460.4,177.0 460.5,177.0 460.6,177.0 460.7,177.0 460.8,177.0 460.9,177.0 461.0,177.0 461.1,177.0 461.2,177.0 461.3,177.0 461.4,177.0 461.5,177.0 461.6,177.0 461.7,177.0 461.8,177.0 461.9,177.0 462.0,177.0 462.1,177.0 462.2,177.0 462.3,177.0 462.4,177.0 462.5,177.0 462.6,177.0 462.7,177.0 462.8,177.1 462.9,177.1 463.0,177.1 463.1,177.2 463.2,177.2 463.3,177.2 463.4,177.3 463.5,177.3 463.6,177.2 463.7,177.2 463.8,177.2 464.0,177.1 464.5,177.0 465.0,177.0 465.5,177.0 466.0,177.0 466.5,177.0 467.0,177.1 467.5,177.3 468.0,177.8 468.5,177.7 469.0,177.8 469.5,177.5 470.0,177.5 470.5,177.2 471.0,177.0 471.5,177.0 472.0,177.1 472.5,177.6 473.0,177.7 473.5,177.7 474.0,177.4 474.5,177.5 475.0,177.6 475.5,177.7 476.0,177.5 476.5,177.2 477.0,177.4 477.5,177.5 478.0,177.6 478.5,177.5 479.0,177.5 479.5,177.4 480.0,177.2 480.5,177.0 481.0,177.0 481.5,177.0 482.0,177.5 482.5,177.5 483.0,177.4 483.5,177.2 484.0,177.3 484.5,177.3 485.0,177.1 485.5,177.4 486.0,177.3 486.5,177.4 487.0,177.4 487.5,177.4 488.0,177.1 488.5,177.0 489.0,177.1 489.5,177.3 490.0,177.4 490.5,177.1 491.0,177.1 491.4,177.1 491.5,177.1 491.6,177.1 491.7,177.0 491.8,177.0 491.9,177.0 492.0,177.0 492.1,177.0 492.2,177.0 492.3,177.0 492.4,177.0 492.5,177.0 492.6,177.0 492.7,177.0 492.8,177.0 492.9,177.0 493.0,177.0 493.1,177.0 493.2,177.0 493.3,177.0 493.4,177.0 493.5,177.0 493.6,177.0 493.7,177.0 493.8,177.0 493.9,177.0 494.0,177.0 494.1,177.0 494.2,177.0 494.3,177.0 494.4,177.0 494.5,177.0 494.6,177.0 494.7,177.0 494.8,177.0 494.9,177.0 495.0,177.0 495.1,177.0 495.2,177.0 495.3,177.0 495.4,177.0 495.5,177.0 495.6,177.0 495.7,177.0 495.8,177.0 495.9,177.0 496.0,177.0 496.1,177.0 496.2,177.0 496.3,177.0 496.4,177.0 496.5,177.0 496.6,177.0 496.7,177.0 496.8,177.1 496.9,177.3 497.0,177.4 497.1,177.4 497.2,177.4 497.3,177.5 497.4,177.5 497.5,177.5 498.0,177.4 498.5,177.4 499.0,177.3 499.5,177.5 500.0,177.5 500.5,177.8 501.0,177.6 501.5,177.5 502.0,177.2 502.5,177.3 503.0,177.2 503.5,177.3 504.0,177.2 504.5,177.4 505.0,177.5 505.5,177.4 506.0,177.5 506.5,177.1 507.0,177.0 507.5,177.0 508.0,177.1 508.5,177.4 509.0,177.2 509.5,177.2 510.0,177.2 510.5,177.6 511.0,177.5 511.5,177.6 512.0,177.3 512.5,177.3 513.0,177.2 513.5,177.4 514.0,177.3 514.5,177.2 515.0,177.2 515.5,177.5 516.0,177.7 516.5,177.6 517.0,177.3 517.5,177.4 517.6,177.4 517.7,177.4 517.8,177.3 517.9,177.3 518.0,177.3 518.1,177.3 518.2,177.4 518.3,177.4 518.4,177.4 518.5,177.4 518.6,177.4 518.7,177.3 518.8,177.2 518.9,177.1 519.0,177.0 519.1,177.0 519.2,177.0 519.3,177.0 519.4,177.0 519.5,177.0 519.6,177.0 519.7,177.0 519.8,177.0 519.9,177.0 520.0,177.0 520.1,177.0 520.2,177.0 520.3,177.0 520.4,177.0 520.5,177.0 520.6,177.0 520.7,177.0 520.8,177.0 520.9,177.0 521.0,177.0 521.1,177.0 521.2,177.0 521.3,177.0 521.4,177.0 521.5,177.0 521.6,177.0 521.7,177.0 521.8,177.0 521.9,177.0 522.0,177.0 522.1,177.0 522.2,177.0 522.3,177.0 522.4,177.0 522.5,177.0 522.6,177.0 522.7,177.0 522.8,177.0 522.9,177.0 523.0,177.0 523.1,177.0 523.2,177.0 523.3,177.0 523.4,177.0 523.5,177.0 523.6,177.0 523.7,177.0 523.8,177.0 523.9,177.0 524.0,177.0 524.1,177.0 524.2,177.0 524.3,177.0 524.4,177.0 524.5,177.0 524.6,177.0 524.7,177.0 524.8,177.0 524.9,177.0 525.0,177.0 525.1,177.0 525.2,177.0 525.3,177.0 525.4,177.0 525.5,177.0 525.6,177.0 525.7,177.0 525.8,177.0 525.9,177.0 526.0,177.0 526.1,177.0 526.2,177.0 526.3,177.0 526.4,177.0 526.5,177.0 526.6,177.0 526.7,177.0 526.8,177.0 526.9,177.0 527.0,177.0 527.1,177.0 527.5,177.1 528.0,177.1 528.5,177.1 529.0,177.4 529.5,177.4 530.0,177.3 530.5,177.2 531.0,177.2 531.5,177.4 532.0,177.3 532.5,177.4 533.0,177.2 533.5,177.3 534.0,177.2 534.5,177.1 535.0,177.1 535.5,177.1 535.9,177.2 536.0,177.3 536.1,177.3 536.2,177.2 536.3,177.2 536.4,177.2 536.5,177.2 536.6,177.3 536.7,177.4 536.8,177.4 536.9,177.5 537.0,177.5 537.1,177.5 537.2,177.4 537.3,177.3 537.4,177.3 537.5,177.2 537.6,177.1 537.7,177.1 537.8,177.1 537.9,177.1 538.0,177.1 538.1,177.1 538.2,177.1 538.3,177.1 538.4,177.1 538.5,177.1 538.6,177.1 538.7,177.1 538.8,177.1 538.9,177.1 539.0,177.1 539.1,177.1 539.2,177.1 539.3,177.1 539.4,177.1 539.5,177.1 539.6,177.1 539.7,177.1 539.8,177.1 539.9,177.1 540.0,177.1 540.1,177.1 540.2,177.1 540.3,177.1 540.4,177.1 540.5,177.1 540.6,177.1 540.7,177.1 540.8,177.1 540.9,177.1 541.0,177.2 541.1,177.2 541.2,177.3 541.3,177.3 541.4,177.3 541.5,177.3 541.6,177.3 541.7,177.3 541.8,177.3 541.9,177.3 542.0,177.3 542.1,177.2 542.2,177.2 542.3,177.1 542.4,177.1 542.5,177.1 542.9,177.3 543.0,177.4 543.1,177.3 543.2,177.3 543.3,177.2 543.4,177.1 543.5,177.1 543.6,177.1 543.7,177.1 543.8,177.1 543.9,177.1 544.0,177.1 544.1,177.1 544.2,177.1 544.3,177.1 544.4,177.1 544.5,177.1 544.6,177.1 544.7,177.1 544.8,177.1 544.9,177.1 545.0,177.1 545.1,177.1 545.2,177.1 545.3,177.1 545.4,177.1 545.5,177.1 545.6,177.1 545.7,177.1 545.8,177.1 545.9,177.1 546.0,177.1 546.1,177.1 546.2,177.1 546.3,177.1 546.4,177.1 546.5,177.1 546.6,177.1 546.7,177.1 546.8,177.1 546.9,177.1 547.0,177.1 547.1,177.1 547.2,177.1 547.3,177.1 547.4,177.1 547.5,177.1 547.6,177.1 547.7,177.1 547.8,177.1 547.9,177.1 548.0,177.1 548.1,177.1 548.2,177.1 548.3,177.1 548.4,177.1 548.5,177.1 548.6,177.1 548.7,177.1 548.8,177.1 548.9,177.1 549.0,177.1 549.1,177.1 549.2,177.1 549.3,177.1 549.4,177.1 549.5,177.1 549.6,177.1 549.7,177.1 549.8,177.1 549.9,177.1 550.0,177.1 550.1,177.1 550.2,177.1 550.3,177.1 550.4,177.1 550.5,177.1 550.6,177.1 550.7,177.1 550.8,177.1 550.9,177.1 551.0,177.1 551.1,177.1 551.2,177.1 551.3,177.1 551.4,177.1 551.5,177.1 551.6,177.1 551.7,177.1 551.8,177.1 551.9,177.1 552.0,177.1 552.1,177.1 552.2,177.1 552.3,177.1 552.4,177.1 552.5,177.1 552.6,177.1 552.7,177.1 552.8,177.1 552.9,177.1 553.0,177.1 553.1,177.1 553.2,177.1 553.3,177.1 553.4,177.1 553.5,177.1 553.6,177.1 553.7,177.1 553.8,177.1 553.9,177.1 554.0,177.1 554.1,177.1 554.2,177.1 554.3,177.1 554.4,177.1 554.5,177.1 554.6,177.1 554.7,177.1 554.8,177.1 555.0,177.1 555.5,177.3 556.0,177.3 556.5,177.4 557.0,177.2 557.5,177.4 558.0,177.4 558.5,178.0 559.0,177.7 559.5,177.8 560.0,177.4 560.5,177.5 561.0,177.5 561.5,177.5 562.0,177.4 562.5,177.4 563.0,177.5" fill="none" stroke="#151515" stroke-width="1.4" stroke-linejoin="round"/>
<text transform="translate(342.23,170.00) scale(0.805,1)" style="font-family:'Liberation Sans', sans-serif;font-size:9.30px;" fill="#2a2a2a" stroke="#2a2a2a" stroke-width="0.18">T</text>
<text x="347.33" y="170.00" style="font-family:'Liberation Sans', sans-serif;font-size:8.83px;" fill="#2a2a2a" stroke="#2a2a2a" stroke-width="0.18">i</text>
<text transform="translate(349.32,173.44) scale(0.833,1)" style="font-family:'Liberation Sans', sans-serif;font-size:4.42px;" fill="#2a2a2a" stroke="#2a2a2a" stroke-width="0.18">6</text>
<text transform="translate(351.54,169.91) scale(0.828,1)" style="font-family:'Liberation Sans', sans-serif;font-size:9.04px;" fill="#2a2a2a" stroke="#2a2a2a" stroke-width="0.18">O</text>
<text transform="translate(375.25,135.80) scale(0.896,1)" style="font-family:'Liberation Sans', sans-serif;font-size:7.27px;" fill="#2a2a2a" stroke="#2a2a2a" stroke-width="0.18">T</text>
<text x="379.78" y="135.80" style="font-family:'Liberation Sans', sans-serif;font-size:6.90px;" fill="#2a2a2a" stroke="#2a2a2a" stroke-width="0.18">i</text>
<text transform="translate(381.44,138.50) scale(0.927,1)" style="font-family:'Liberation Sans', sans-serif;font-size:3.44px;" fill="#2a2a2a" stroke="#2a2a2a" stroke-width="0.18">2</text>
<text transform="translate(383.35,135.73) scale(0.922,1)" style="font-family:'Liberation Sans', sans-serif;font-size:7.06px;" fill="#2a2a2a" stroke="#2a2a2a" stroke-width="0.18">O</text>
<text transform="translate(389.82,149.50) scale(0.937,1)" style="font-family:'Liberation Sans', sans-serif;font-size:8.72px;" fill="#2a2a2a" stroke="#2a2a2a" stroke-width="0.18">T</text>
<text x="395.38" y="149.50" style="font-family:'Liberation Sans', sans-serif;font-size:8.28px;" fill="#2a2a2a" stroke="#2a2a2a" stroke-width="0.18">i</text>
<text transform="translate(397.43,27.80) scale(0.900,1)" style="font-family:'Liberation Sans', sans-serif;font-size:8.43px;" fill="#2a2a2a" stroke="#2a2a2a" stroke-width="0.18">T</text>
<text x="402.55" y="27.80" style="font-family:'Liberation Sans', sans-serif;font-size:8.00px;" fill="#2a2a2a" stroke="#2a2a2a" stroke-width="0.18">i</text>
<text transform="translate(410.83,167.00) scale(0.882,1)" style="font-family:'Liberation Sans', sans-serif;font-size:8.72px;" fill="#2a2a2a" stroke="#2a2a2a" stroke-width="0.18">T</text>
<text x="416.16" y="167.00" style="font-family:'Liberation Sans', sans-serif;font-size:8.28px;" fill="#2a2a2a" stroke="#2a2a2a" stroke-width="0.18">i</text>
<text transform="translate(418.16,170.22) scale(0.895,1)" style="font-family:'Liberation Sans', sans-serif;font-size:4.12px;" fill="#2a2a2a" stroke="#2a2a2a" stroke-width="0.18">3</text>
<text transform="translate(420.39,166.92) scale(0.908,1)" style="font-family:'Liberation Sans', sans-serif;font-size:8.47px;" fill="#2a2a2a" stroke="#2a2a2a" stroke-width="0.18">O</text>
<text transform="translate(447.61,157.70) scale(0.983,1)" style="font-family:'Liberation Sans', sans-serif;font-size:8.43px;" fill="#2a2a2a" stroke="#2a2a2a" stroke-width="0.18">T</text>
<text x="453.30" y="157.70" style="font-family:'Liberation Sans', sans-serif;font-size:8.00px;" fill="#2a2a2a" stroke="#2a2a2a" stroke-width="0.18">i</text>
<text transform="translate(456.63,169.50) scale(0.938,1)" style="font-family:'Liberation Sans', sans-serif;font-size:8.14px;" fill="#2a2a2a" stroke="#2a2a2a" stroke-width="0.18">T</text>
<text x="461.79" y="169.50" style="font-family:'Liberation Sans', sans-serif;font-size:7.73px;" fill="#2a2a2a" stroke="#2a2a2a" stroke-width="0.18">i</text>
<text transform="translate(464.20,169.42) scale(0.917,1)" style="font-family:'Liberation Sans', sans-serif;font-size:7.91px;" fill="#2a2a2a" stroke="#2a2a2a" stroke-width="0.18">O</text>
<text transform="translate(490.62,151.60) scale(0.970,1)" style="font-family:'Liberation Sans', sans-serif;font-size:8.43px;" fill="#2a2a2a" stroke="#2a2a2a" stroke-width="0.18">T</text>
<text x="496.21" y="151.60" style="font-family:'Liberation Sans', sans-serif;font-size:8.00px;" fill="#2a2a2a" stroke="#2a2a2a" stroke-width="0.18">i</text>
<text transform="translate(518.62,162.80) scale(0.942,1)" style="font-family:'Liberation Sans', sans-serif;font-size:8.43px;" fill="#2a2a2a" stroke="#2a2a2a" stroke-width="0.18">T</text>
<text x="524.03" y="162.80" style="font-family:'Liberation Sans', sans-serif;font-size:8.00px;" fill="#2a2a2a" stroke="#2a2a2a" stroke-width="0.18">i</text>
<text transform="translate(544.62,163.20) scale(0.881,1)" style="font-family:'Liberation Sans', sans-serif;font-size:9.01px;" fill="#2a2a2a" stroke="#2a2a2a" stroke-width="0.18">T</text>
<text x="549.97" y="163.20" style="font-family:'Liberation Sans', sans-serif;font-size:8.56px;" fill="#2a2a2a" stroke="#2a2a2a" stroke-width="0.18">i</text>
<text transform="translate(329.73,24.30) scale(1.080,1)" style="font-family:'Liberation Sans', sans-serif;font-size:20.00px;font-weight:bold;" fill="#000">b</text>
<text x="436.94" y="198.87" style="font-family:'Liberation Sans', sans-serif;font-size:9.30px;font-weight:bold;" fill="#000" stroke="#000" stroke-width="0.3">2θ</text>
<line x1="45.5" y1="228.5" x2="274.5" y2="228.5" stroke="#858585" stroke-width="1.15"/>
<line x1="274.5" y1="228.5" x2="274.5" y2="393.5" stroke="#7a7a7a" stroke-width="1.15"/>
<line x1="45.5" y1="393.5" x2="274.5" y2="393.5" stroke="#8a8a8a" stroke-width="1.15"/>
<line x1="45.5" y1="228.5" x2="45.5" y2="393.5" stroke="#7a7a7a" stroke-width="1.15"/>
<line x1="41.5" y1="393.5" x2="45.5" y2="393.5" stroke="#505050" stroke-width="1.15"/>
<text x="36.54" y="394.47" style="font-family:'Liberation Sans', sans-serif;font-size:6.30px;" fill="#000" stroke="#000" stroke-width="0.3">0</text>
<line x1="43.5" y1="382.4785714285714" x2="45.5" y2="382.4785714285714" stroke="#505050" stroke-width="1.15"/>
<line x1="41.5" y1="371.45714285714286" x2="45.5" y2="371.45714285714286" stroke="#505050" stroke-width="1.15"/>
<text x="26.03" y="372.43" style="font-family:'Liberation Sans', sans-serif;font-size:6.30px;" fill="#000" stroke="#000" stroke-width="0.3">2000</text>
<line x1="43.5" y1="360.4357142857143" x2="45.5" y2="360.4357142857143" stroke="#505050" stroke-width="1.15"/>
<line x1="41.5" y1="349.4142857142857" x2="45.5" y2="349.4142857142857" stroke="#505050" stroke-width="1.15"/>
<text x="26.03" y="350.38" style="font-family:'Liberation Sans', sans-serif;font-size:6.30px;" fill="#000" stroke="#000" stroke-width="0.3">4000</text>
<line x1="43.5" y1="338.3928571428571" x2="45.5" y2="338.3928571428571" stroke="#505050" stroke-width="1.15"/>
<line x1="41.5" y1="327.37142857142857" x2="45.5" y2="327.37142857142857" stroke="#505050" stroke-width="1.15"/>
<text x="26.03" y="328.34" style="font-family:'Liberation Sans', sans-serif;font-size:6.30px;" fill="#000" stroke="#000" stroke-width="0.3">6000</text>
<line x1="43.5" y1="316.35" x2="45.5" y2="316.35" stroke="#505050" stroke-width="1.15"/>
<line x1="41.5" y1="305.3285714285714" x2="45.5" y2="305.3285714285714" stroke="#505050" stroke-width="1.15"/>
<text x="26.03" y="306.30" style="font-family:'Liberation Sans', sans-serif;font-size:6.30px;" fill="#000" stroke="#000" stroke-width="0.3">8000</text>
<line x1="43.5" y1="294.3071428571428" x2="45.5" y2="294.3071428571428" stroke="#505050" stroke-width="1.15"/>
<line x1="41.5" y1="283.2857142857143" x2="45.5" y2="283.2857142857143" stroke="#505050" stroke-width="1.15"/>
<text x="22.53" y="284.25" style="font-family:'Liberation Sans', sans-serif;font-size:6.30px;" fill="#000" stroke="#000" stroke-width="0.3">10000</text>
<line x1="43.5" y1="272.26428571428573" x2="45.5" y2="272.26428571428573" stroke="#505050" stroke-width="1.15"/>
<line x1="41.5" y1="261.24285714285713" x2="45.5" y2="261.24285714285713" stroke="#505050" stroke-width="1.15"/>
<text x="22.53" y="262.21" style="font-family:'Liberation Sans', sans-serif;font-size:6.30px;" fill="#000" stroke="#000" stroke-width="0.3">12000</text>
<line x1="43.5" y1="250.22142857142856" x2="45.5" y2="250.22142857142856" stroke="#505050" stroke-width="1.15"/>
<line x1="41.5" y1="239.2" x2="45.5" y2="239.2" stroke="#505050" stroke-width="1.15"/>
<text x="22.53" y="240.17" style="font-family:'Liberation Sans', sans-serif;font-size:6.30px;" fill="#000" stroke="#000" stroke-width="0.3">14000</text>
<line x1="45.5" y1="393.5" x2="45.5" y2="397.5" stroke="#505050" stroke-width="1.15"/>
<text x="41.68" y="404.64" style="font-family:'Liberation Sans', sans-serif;font-size:6.80px;" fill="#000" stroke="#000" stroke-width="0.3">20</text>
<line x1="64.5" y1="393.5" x2="64.5" y2="396.0" stroke="#505050" stroke-width="1.15"/>
<line x1="83.5" y1="393.5" x2="83.5" y2="397.5" stroke="#505050" stroke-width="1.15"/>
<text x="79.72" y="404.64" style="font-family:'Liberation Sans', sans-serif;font-size:6.80px;" fill="#000" stroke="#000" stroke-width="0.3">30</text>
<line x1="102.5" y1="393.5" x2="102.5" y2="396.0" stroke="#505050" stroke-width="1.15"/>
<line x1="121.5" y1="393.5" x2="121.5" y2="397.5" stroke="#505050" stroke-width="1.15"/>
<text x="117.77" y="404.64" style="font-family:'Liberation Sans', sans-serif;font-size:6.80px;" fill="#000" stroke="#000" stroke-width="0.3">40</text>
<line x1="140.5" y1="393.5" x2="140.5" y2="396.0" stroke="#505050" stroke-width="1.15"/>
<line x1="160.5" y1="393.5" x2="160.5" y2="397.5" stroke="#505050" stroke-width="1.15"/>
<text x="156.71" y="404.64" style="font-family:'Liberation Sans', sans-serif;font-size:6.80px;" fill="#000" stroke="#000" stroke-width="0.3">50</text>
<line x1="179.5" y1="393.5" x2="179.5" y2="396.0" stroke="#505050" stroke-width="1.15"/>
<line x1="198.5" y1="393.5" x2="198.5" y2="397.5" stroke="#505050" stroke-width="1.15"/>
<text x="194.68" y="404.64" style="font-family:'Liberation Sans', sans-serif;font-size:6.80px;" fill="#000" stroke="#000" stroke-width="0.3">60</text>
<line x1="217.5" y1="393.5" x2="217.5" y2="396.0" stroke="#505050" stroke-width="1.15"/>
<line x1="236.5" y1="393.5" x2="236.5" y2="397.5" stroke="#505050" stroke-width="1.15"/>
<text x="232.68" y="404.64" style="font-family:'Liberation Sans', sans-serif;font-size:6.80px;" fill="#000" stroke="#000" stroke-width="0.3">70</text>
<line x1="255.5" y1="393.5" x2="255.5" y2="396.0" stroke="#505050" stroke-width="1.15"/>
<line x1="274.5" y1="393.5" x2="274.5" y2="397.5" stroke="#505050" stroke-width="1.15"/>
<text x="270.70" y="404.64" style="font-family:'Liberation Sans', sans-serif;font-size:6.80px;" fill="#000" stroke="#000" stroke-width="0.3">80</text>
<path d="M46.0,391.7 46.5,392.0 47.0,391.9 47.5,391.7 48.0,391.8 48.5,391.7 49.0,392.4 49.5,392.5 50.0,392.5 50.5,392.0 51.0,391.9 51.5,391.8 52.0,391.8 52.5,392.0 53.0,392.1 53.5,392.2 54.0,392.2 54.5,392.2 55.0,392.3 55.5,392.3 56.0,392.3 56.5,392.0 57.0,392.0 57.5,392.3 58.0,392.3 58.5,392.1 59.0,391.9 59.5,391.8 60.0,391.7 60.5,391.6 61.0,391.6 61.2,391.6 61.3,391.6 61.4,391.5 61.5,391.5 61.6,391.5 61.7,391.4 61.8,391.4 61.9,391.3 62.0,391.3 62.1,391.1 62.2,391.0 62.3,390.9 62.4,390.8 62.5,390.6 62.6,390.6 62.7,390.5 62.8,390.5 62.9,390.4 63.0,390.4 63.1,390.3 63.2,390.2 63.3,390.0 63.4,389.9 63.5,389.8 63.6,389.7 63.7,389.6 63.8,389.5 63.9,389.4 64.0,389.3 64.1,389.1 64.2,388.9 64.3,388.8 64.4,388.6 64.5,388.4 64.6,388.1 64.7,387.9 64.8,387.6 64.9,387.3 65.0,386.9 65.1,386.5 65.2,386.0 65.3,385.6 65.4,385.3 65.5,385.6 65.6,386.0 65.7,386.4 65.8,386.9 65.9,387.2 66.0,387.6 66.1,387.9 66.2,388.1 66.3,388.3 66.4,388.5 66.5,388.7 66.6,388.9 66.7,389.0 66.8,389.2 66.9,389.3 67.0,389.5 67.1,389.6 67.2,389.7 67.3,389.9 67.4,390.0 67.5,390.1 67.6,390.2 67.7,390.3 67.8,390.4 67.9,390.5 68.0,390.6 68.1,390.7 68.2,390.7 68.3,390.8 68.4,390.8 68.5,390.9 68.6,390.9 68.7,390.9 68.8,390.9 68.9,391.0 69.0,391.0 69.1,391.0 69.2,391.0 69.3,391.0 69.4,391.0 69.5,390.9 69.6,390.9 70.0,390.8 70.5,390.6 70.8,390.5 70.9,390.4 71.0,390.4 71.1,390.3 71.2,390.3 71.3,390.2 71.4,390.1 71.5,390.0 71.6,389.9 71.7,389.8 71.8,389.6 71.9,389.5 72.0,389.3 72.1,389.2 72.2,389.0 72.3,388.9 72.4,388.7 72.5,388.5 72.6,388.3 72.7,388.0 72.8,387.8 72.9,387.5 73.0,387.3 73.1,387.0 73.2,386.6 73.3,386.2 73.4,385.8 73.5,385.3 73.6,384.8 73.7,384.1 73.8,383.4 73.9,382.4 74.0,381.3 74.1,380.0 74.2,378.5 74.3,377.1 74.4,376.2 74.5,377.1 74.6,378.5 74.7,380.0 74.8,381.3 74.9,382.5 75.0,383.4 75.1,384.2 75.2,384.8 75.3,385.4 75.4,385.9 75.5,386.3 75.6,386.7 75.7,387.1 75.8,387.4 75.9,387.7 76.0,387.9 76.1,388.2 76.2,388.4 76.3,388.6 76.4,388.8 76.5,388.9 76.6,389.1 76.7,389.3 76.8,389.4 76.9,389.6 77.0,389.7 77.1,389.8 77.2,389.9 77.3,390.0 77.4,390.1 77.5,390.2 77.6,390.4 77.7,390.5 77.8,390.7 77.9,390.8 78.0,390.9 78.5,391.1 79.0,391.2 79.5,391.3 80.0,391.6 80.5,392.0 81.0,391.9 81.5,392.0 82.0,391.7 82.5,392.1 83.0,392.1 83.5,392.2 84.0,391.8 84.5,392.0 85.0,392.2 85.5,392.5 86.0,392.5 86.5,392.4 87.0,392.2 87.5,392.0 88.0,391.8 88.5,392.1 89.0,392.0 89.5,392.0 90.0,391.8 90.5,392.0 91.0,392.1 91.4,392.0 91.5,392.0 91.6,391.9 91.7,391.9 91.8,391.8 91.9,391.8 92.0,391.7 92.1,391.7 92.2,391.7 92.3,391.6 92.4,391.6 92.5,391.6 92.6,391.6 92.7,391.6 92.8,391.7 92.9,391.7 93.0,391.7 93.1,391.7 93.2,391.7 93.3,391.7 93.4,391.7 93.5,391.7 93.6,391.6 93.7,391.5 93.8,391.4 93.9,391.3 94.0,391.2 94.1,391.0 94.2,390.9 94.3,390.7 94.4,390.6 94.5,390.5 94.6,390.4 94.7,390.3 94.8,390.3 94.9,390.2 95.0,390.2 95.1,390.2 95.2,390.2 95.3,390.3 95.4,390.3 95.5,390.4 95.6,390.5 95.7,390.6 95.8,390.8 95.9,390.9 96.0,391.0 96.1,391.1 96.2,391.2 96.3,391.2 96.4,391.3 96.5,391.4 96.6,391.5 96.7,391.5 96.8,391.6 96.9,391.7 97.0,391.7 97.1,391.8 97.2,391.8 97.3,391.8 97.4,391.8 97.5,391.8 97.6,391.8 97.7,391.9 97.8,391.9 97.9,392.0 98.0,392.0 98.1,392.0 98.2,392.0 98.3,392.0 98.4,392.0 98.5,392.0 98.6,392.1 99.0,392.3 99.5,392.4 100.0,392.4 100.5,391.7 100.8,391.3 100.9,391.2 101.0,391.0 101.1,390.8 101.2,390.6 101.3,390.2 101.4,389.8 101.5,389.3 101.6,388.6 101.7,387.7 101.8,386.4 101.9,384.8 102.0,382.8 102.1,380.4 102.2,377.3 102.3,373.6 102.4,369.4 102.5,365.6 102.6,363.9 102.7,365.5 102.8,369.4 102.9,373.6 103.0,377.3 103.1,380.3 103.2,382.8 103.3,384.8 103.4,386.4 103.5,387.7 103.6,388.6 103.7,389.4 103.8,390.0 103.9,390.4 104.0,390.7 104.1,390.9 104.2,391.0 104.3,391.1 104.4,391.1 104.5,391.1 105.0,391.1 105.1,391.1 105.2,391.1 105.3,391.1 105.4,391.1 105.5,391.0 105.6,391.0 105.7,390.8 105.8,390.6 105.9,390.4 106.0,390.0 106.1,389.6 106.2,389.0 106.3,388.4 106.4,387.6 106.5,386.8 106.6,386.0 106.7,385.2 106.8,384.4 106.9,383.8 107.0,383.4 107.1,383.3 107.2,383.4 107.3,383.8 107.4,384.4 107.5,385.1 107.6,385.9 107.7,386.8 107.8,387.6 107.9,388.3 108.0,389.0 108.1,389.6 108.2,390.0 108.3,390.4 108.4,390.8 108.5,391.0 108.6,391.1 108.7,391.1 108.8,391.0 108.9,390.8 109.0,390.5 109.1,390.2 109.2,389.7 109.3,389.0 109.4,388.2 109.5,387.2 109.6,386.1 109.7,384.8 109.8,383.4 109.9,381.8 110.0,380.0 110.1,378.1 110.2,376.1 110.3,374.0 110.4,371.9 110.5,370.2 110.6,369.5 110.7,370.2 110.8,371.8 110.9,373.9 111.0,376.0 111.1,378.0 111.2,379.9 111.3,381.6 111.4,383.1 111.5,384.4 111.6,385.5 111.7,386.4 111.8,387.0 111.9,387.4 112.0,387.6 112.1,387.4 112.2,387.0 112.3,386.4 112.4,385.6 112.5,384.5 112.6,383.2 112.7,381.7 112.8,380.0 112.9,378.2 113.0,376.2 113.1,374.2 113.2,372.1 113.3,370.4 113.4,369.8 113.5,370.5 113.6,372.2 113.7,374.3 113.8,376.4 113.9,378.4 114.0,380.3 114.1,382.0 114.2,383.6 114.3,385.0 114.4,386.3 114.5,387.4 114.6,388.3 114.7,389.1 114.8,389.7 114.9,390.2 115.0,390.6 115.1,390.9 115.2,391.2 115.3,391.5 115.4,391.7 115.5,391.9 115.6,392.0 115.7,392.0 115.8,392.1 116.0,392.2 116.5,392.1 117.0,391.7 117.5,391.6 118.0,391.7 118.3,391.8 118.4,391.9 118.5,391.9 118.6,392.0 118.7,392.0 118.8,392.0 118.9,392.0 119.0,392.1 119.1,392.0 119.2,392.0 119.3,392.0 119.4,392.0 119.5,391.9 119.6,391.8 119.7,391.6 119.8,390.9 119.9,389.4 120.0,386.3 120.1,380.9 120.2,372.5 120.3,361.1 120.4,347.4 120.5,332.7 120.6,318.1 120.7,305.0 120.8,294.0 120.9,285.5 121.0,279.2 121.1,274.6 121.2,271.1 121.3,267.9 121.4,264.5 121.5,261.1 121.6,259.5 121.7,261.1 121.8,264.5 121.9,267.9 122.0,271.1 122.1,274.6 122.2,279.2 122.3,285.5 122.4,294.0 122.5,305.0 122.6,318.1 122.7,332.7 122.8,347.4 122.9,361.1 123.0,372.5 123.1,380.9 123.2,386.3 123.3,389.3 123.4,390.7 123.5,391.2 123.6,391.4 123.7,391.5 123.8,391.6 123.9,391.6 124.0,391.6 124.1,391.7 124.2,391.7 124.3,391.8 124.4,391.8 124.5,391.8 124.6,391.8 124.7,391.9 124.8,391.9 124.9,391.9 125.0,391.9 125.1,391.9 125.2,391.9 125.3,391.8 125.4,391.8 125.5,391.8 125.6,391.7 125.7,391.6 125.8,391.5 125.9,391.4 126.0,391.2 126.1,390.9 126.2,390.6 126.3,390.3 126.4,389.8 126.5,389.4 126.6,388.8 126.7,388.3 126.8,387.7 126.9,387.2 127.0,386.8 127.1,386.6 127.2,386.5 127.3,386.6 127.4,386.8 127.5,387.2 127.6,387.7 127.7,388.2 127.8,388.8 127.9,389.3 128.0,389.8 128.1,390.2 128.2,390.5 128.3,390.8 128.4,391.0 128.5,391.2 128.6,391.4 128.7,391.5 128.8,391.7 128.9,391.8 129.0,391.9 129.1,391.9 129.2,391.9 129.3,391.9 129.5,392.0 130.0,392.2 130.5,392.2 130.9,392.1 131.0,392.0 131.1,392.0 131.2,391.9 131.3,391.9 131.4,391.7 131.5,391.6 131.6,391.3 131.7,391.0 131.8,390.6 131.9,390.1 132.0,389.5 132.1,388.8 132.2,387.9 132.3,386.8 132.4,385.7 132.5,384.4 132.6,382.9 132.7,381.2 132.8,379.3 132.9,377.2 133.0,374.9 133.1,372.6 133.2,370.7 133.3,369.9 133.4,370.7 133.5,372.6 133.6,374.9 133.7,377.2 133.8,379.3 133.9,381.2 134.0,382.9 134.1,384.4 134.2,385.7 134.3,386.9 134.4,387.9 134.5,388.8 134.6,389.6 134.7,390.3 134.8,390.8 134.9,391.3 135.0,391.7 135.1,391.9 135.2,392.0 135.3,392.1 135.4,392.1 135.5,392.2 135.6,392.2 135.7,392.2 136.0,392.2 136.5,392.0 137.0,392.1 137.5,392.1 138.0,392.2 138.5,392.1 139.0,392.4 139.5,392.3 140.0,392.4 140.5,392.1 141.0,392.1 141.5,391.9 142.0,391.8 142.5,391.9 143.0,392.2 143.5,392.4 144.0,392.4 144.5,392.5 145.0,392.5 145.5,392.5 146.0,392.2 146.5,392.0 147.0,392.0 147.5,391.8 148.0,392.1 148.4,392.0 148.5,392.0 148.6,392.1 148.7,392.1 148.8,392.2 148.9,392.3 149.0,392.3 149.1,392.3 149.2,392.3 149.3,392.2 149.4,392.2 149.5,392.1 149.6,392.1 149.7,392.0 149.8,392.0 149.9,391.9 150.0,391.8 150.1,391.7 150.2,391.6 150.3,391.5 150.4,391.4 150.5,391.2 150.6,391.1 150.7,391.0 150.8,390.9 150.9,390.8 151.0,390.7 151.1,390.6 151.2,390.6 151.3,390.6 151.4,390.6 151.5,390.6 151.6,390.6 151.7,390.7 151.8,390.7 151.9,390.8 152.0,390.9 152.1,391.0 152.2,391.1 152.3,391.3 152.4,391.4 152.5,391.5 152.6,391.6 152.7,391.7 152.8,391.7 152.9,391.8 153.0,391.9 153.1,391.9 153.2,391.9 153.3,391.9 153.4,391.9 153.5,391.9 153.6,391.9 153.7,392.0 153.8,392.0 153.9,392.0 154.0,392.0 154.1,391.9 154.2,391.9 154.3,391.8 154.4,391.8 154.5,391.8 155.0,391.9 155.5,391.7 156.0,392.2 156.5,392.4 157.0,392.3 157.5,392.1 158.0,391.9 158.5,392.1 159.0,392.1 159.5,392.1 160.0,392.0 160.5,391.9 161.0,391.9 161.5,392.2 162.0,392.0 162.5,392.1 163.0,392.2 163.5,392.2 164.0,392.0 164.5,391.9 165.0,391.9 165.5,392.2 166.0,392.2 166.2,392.1 166.3,392.0 166.4,392.0 166.5,391.9 166.6,391.8 166.7,391.6 166.8,391.4 166.9,391.2 167.0,390.9 167.1,390.6 167.2,390.2 167.3,389.7 167.4,389.1 167.5,388.4 167.6,387.6 167.7,386.6 167.8,385.5 167.9,384.2 168.0,382.7 168.1,381.1 168.2,379.3 168.3,377.3 168.4,375.2 168.5,373.6 168.6,372.9 168.7,373.6 168.8,375.2 168.9,377.3 169.0,379.3 169.1,381.1 169.2,382.7 169.3,384.1 169.4,385.4 169.5,386.6 169.6,387.6 169.7,388.5 169.8,389.2 169.9,389.8 170.0,390.4 170.1,390.8 170.2,391.2 170.3,391.5 170.4,391.7 170.5,391.9 170.6,392.0 170.7,392.0 170.8,392.1 170.9,392.1 171.0,392.1 171.5,392.3 172.0,392.0 172.5,392.2 173.0,391.9 173.5,392.0 173.6,392.0 173.7,392.0 173.8,391.9 173.9,391.8 174.0,391.8 174.1,391.7 174.2,391.7 174.3,391.6 174.4,391.5 174.5,391.3 174.6,391.0 174.7,390.7 174.8,390.4 174.9,389.9 175.0,389.5 175.1,389.0 175.2,388.4 175.3,387.8 175.4,387.1 175.5,386.4 175.6,385.6 175.7,384.8 175.8,384.1 175.9,383.4 176.0,382.8 176.1,382.4 176.2,382.1 176.3,382.0 176.4,382.1 176.5,382.4 176.6,382.8 176.7,383.4 176.8,384.1 176.9,384.8 177.0,385.6 177.1,386.4 177.2,387.1 177.3,387.9 177.4,388.5 177.5,389.2 177.6,389.7 177.7,390.2 177.8,390.6 177.9,390.9 178.0,391.2 178.1,391.4 178.2,391.6 178.3,391.7 178.4,391.8 178.5,391.9 178.6,392.0 178.7,392.0 178.8,392.1 178.9,392.1 179.0,392.1 179.5,392.2 180.0,392.2 180.5,392.2 181.0,392.4 181.5,392.4 182.0,392.3 182.5,392.2 182.7,392.3 182.8,392.3 182.9,392.3 183.0,392.4 183.1,392.3 183.2,392.3 183.3,392.3 183.4,392.3 183.5,392.2 183.6,392.2 183.7,392.1 183.8,392.0 183.9,391.8 184.0,391.7 184.1,391.5 184.2,391.3 184.3,391.1 184.4,390.8 184.5,390.6 184.6,390.4 184.7,390.1 184.8,389.9 184.9,389.7 185.0,389.5 185.1,389.3 185.2,389.1 185.3,389.0 185.4,389.0 185.5,389.0 185.6,389.1 185.7,389.2 185.8,389.4 185.9,389.6 186.0,389.9 186.1,390.1 186.2,390.4 186.3,390.6 186.4,390.8 186.5,391.0 186.6,391.2 186.7,391.4 186.8,391.6 186.9,391.7 187.0,391.8 187.1,392.0 187.2,392.1 187.3,392.1 187.4,392.2 187.5,392.3 187.6,392.3 187.7,392.3 187.8,392.3 187.9,392.3 188.0,392.3 188.1,392.3 188.5,392.4 189.0,392.2 189.5,392.0 190.0,392.0 190.5,392.2 191.0,392.3 191.5,392.6 192.0,392.4 192.5,392.6 193.0,392.4 193.5,392.1 194.0,391.9 194.5,391.9 195.0,392.1 195.5,391.9 196.0,392.0 196.5,392.0 197.0,392.0 197.5,391.9 198.0,392.1 198.5,392.2 199.0,392.4 199.5,392.5 200.0,392.6 200.5,392.3 201.0,391.9 201.5,391.9 202.0,392.2 202.5,392.4 203.0,392.4 203.5,392.2 204.0,392.2 204.5,392.0 205.0,391.9 205.1,391.8 205.2,391.8 205.3,391.7 205.4,391.6 205.5,391.5 205.6,391.3 205.7,391.2 205.8,391.0 205.9,390.7 206.0,390.4 206.1,390.0 206.2,389.6 206.3,389.0 206.4,388.4 206.5,387.6 206.6,386.6 206.7,385.4 206.8,384.1 206.9,382.6 207.0,380.9 207.1,379.1 207.2,377.1 207.3,374.8 207.4,372.3 207.5,369.4 207.6,366.5 207.7,364.1 207.8,363.1 207.9,364.1 208.0,366.5 208.1,369.4 208.2,372.3 208.3,374.8 208.4,377.1 208.5,379.1 208.6,380.9 208.7,382.6 208.8,384.1 208.9,385.4 209.0,386.6 209.1,387.6 209.2,388.6 209.3,389.4 209.4,390.0 209.5,390.6 209.6,391.0 209.7,391.4 209.8,391.6 209.9,391.8 210.0,392.0 210.1,392.0 210.2,392.1 210.3,392.1 210.4,392.1 210.5,392.1 211.0,392.1 211.5,392.2 212.0,392.3 212.5,392.1 213.0,391.9 213.5,391.8 214.0,391.9 214.5,392.5 215.0,392.3 215.5,392.2 216.0,392.2 216.5,392.2 217.0,392.4 217.5,392.3 218.0,392.5 218.5,392.5 219.0,392.3 219.5,392.4 220.0,392.3 220.5,392.4 221.0,392.3 221.5,392.7 222.0,392.6 222.5,392.4 223.0,392.2 223.5,392.2 224.0,392.3 224.5,392.2 225.0,392.4 225.5,392.3 226.0,392.3 226.5,391.8 227.0,391.7 227.5,391.9 228.0,392.1 228.5,392.1 229.0,391.7 229.5,391.8 230.0,391.8 230.3,391.8 230.4,391.7 230.5,391.7 230.6,391.7 230.7,391.6 230.8,391.6 230.9,391.5 231.0,391.5 231.1,391.4 231.2,391.3 231.3,391.2 231.4,391.0 231.5,390.9 231.6,390.7 231.7,390.6 231.8,390.3 231.9,390.1 232.0,389.8 232.1,389.4 232.2,389.0 232.3,388.5 232.4,388.0 232.5,387.4 232.6,386.9 232.7,386.2 232.8,385.5 232.9,384.8 233.0,384.1 233.1,383.3 233.2,382.5 233.3,381.7 233.4,381.0 233.5,380.3 233.6,379.7 233.7,379.3 233.8,379.0 233.9,378.9 234.0,379.0 234.1,379.3 234.2,379.7 234.3,380.3 234.4,381.0 234.5,381.7 234.6,382.5 234.7,383.3 234.8,384.1 234.9,384.8 235.0,385.5 235.1,386.2 235.2,386.9 235.3,387.4 235.4,388.0 235.5,388.5 235.6,388.9 235.7,389.3 235.8,389.7 235.9,390.0 236.0,390.3 236.1,390.6 236.2,390.8 236.3,391.0 236.4,391.2 236.5,391.4 236.6,391.5 236.7,391.6 236.8,391.7 236.9,391.7 237.0,391.8 237.1,391.9 237.2,392.0 237.3,392.0 237.4,392.1 237.5,392.2 238.0,392.3 238.5,392.3 239.0,391.9 239.5,391.9 240.0,392.0 240.5,392.3 241.0,392.4 241.5,392.2 242.0,392.2 242.5,392.0 243.0,392.2 243.5,392.3 244.0,392.4 244.5,392.0 245.0,392.0 245.5,392.2 246.0,392.5 246.5,392.4 247.0,392.4 247.5,392.5 248.0,392.7 248.5,392.6 249.0,392.6 249.5,392.5 250.0,392.5 250.5,392.2 251.0,392.3 251.5,392.2 252.0,392.5 252.5,392.0 253.0,391.9 253.2,391.8 253.3,391.8 253.4,391.7 253.5,391.6 253.6,391.6 253.7,391.6 253.8,391.5 253.9,391.5 254.0,391.4 254.1,391.3 254.2,391.1 254.3,390.9 254.4,390.7 254.5,390.5 254.6,390.2 254.7,389.8 254.8,389.4 254.9,389.0 255.0,388.5 255.1,387.9 255.2,387.3 255.3,386.6 255.4,385.9 255.5,385.1 255.6,384.2 255.7,383.4 255.8,382.4 255.9,381.5 256.0,380.6 256.1,379.8 256.2,379.1 256.3,378.5 256.4,378.1 256.5,378.0 256.6,378.1 256.7,378.5 256.8,379.1 256.9,379.8 257.0,380.6 257.1,381.5 257.2,382.4 257.3,383.3 257.4,384.2 257.5,385.0 257.6,385.8 257.7,386.5 257.8,387.2 257.9,387.8 258.0,388.4 258.1,388.9 258.2,389.3 258.3,389.7 258.4,390.0 258.5,390.3 258.6,390.5 258.7,390.7 258.8,390.8 258.9,390.9 259.0,391.0 259.1,391.1 259.2,391.2 259.3,391.3 259.4,391.3 259.5,391.3 259.6,391.3 259.7,391.3 259.8,391.2 259.9,391.2 260.0,391.1 260.1,390.9 260.2,390.8 260.3,390.6 260.4,390.4 260.5,390.1 260.6,389.8 260.7,389.4 260.8,389.0 260.9,388.5 261.0,388.0 261.1,387.4 261.2,386.7 261.3,385.9 261.4,385.0 261.5,384.2 261.6,383.3 261.7,382.5 261.8,381.7 261.9,381.1 262.0,380.7 262.1,380.6 262.2,380.7 262.3,381.1 262.4,381.8 262.5,382.5 262.6,383.4 262.7,384.2 262.8,385.1 262.9,386.0 263.0,386.8 263.1,387.5 263.2,388.2 263.3,388.8 263.4,389.3 263.5,389.7 263.6,390.1 263.7,390.4 263.8,390.7 263.9,390.9 264.0,391.1 264.1,391.2 264.2,391.3 264.3,391.4 264.4,391.4 264.5,391.4 264.6,391.5 264.7,391.6 264.8,391.7 265.0,391.8 265.5,391.6 266.0,391.7 266.2,391.8 266.3,391.8 266.4,391.8 266.5,391.8 266.6,391.8 266.7,391.8 266.8,391.9 266.9,391.9 267.0,391.9 267.1,391.9 267.2,391.9 267.3,391.9 267.4,391.9 267.5,391.8 267.6,391.7 267.7,391.7 267.8,391.6 267.9,391.5 268.0,391.4 268.1,391.3 268.2,391.2 268.3,391.1 268.4,391.0 268.5,390.9 268.6,390.8 268.7,390.7 268.8,390.5 268.9,390.4 269.0,390.3 269.1,390.2 269.2,390.1 269.3,390.1 269.4,390.0 269.5,390.0 269.6,390.1 269.7,390.1 269.8,390.2 269.9,390.3 270.0,390.4 270.1,390.5 270.2,390.7 270.3,390.8 270.4,390.9 270.5,391.1 270.6,391.2 270.7,391.3 270.8,391.4 270.9,391.5 271.0,391.6 271.1,391.7 271.2,391.7 271.3,391.8 271.4,391.8 271.5,391.8 271.6,391.9 271.7,392.0 271.8,392.0 271.9,392.1 272.0,392.2 272.1,392.3 272.2,392.3 272.3,392.4 272.4,392.4 272.5,392.5 272.6,392.5 272.7,392.6 272.8,392.6 273.0,392.7 273.5,392.6 274.0,392.5" fill="none" stroke="#151515" stroke-width="0.95" stroke-linejoin="round"/>
<path d="M46.0,392.1 46.5,392.4 47.0,392.3 47.5,392.1 48.0,392.2 48.5,392.1 49.0,392.8 49.5,392.9 50.0,392.9 50.5,392.4 51.0,392.3 51.5,392.2 52.0,392.2 52.5,392.4 53.0,392.5 53.5,392.6 54.0,392.6 54.5,392.6 55.0,392.7 55.5,392.7 56.0,392.7 56.5,392.4 57.0,392.4 57.5,392.7 58.0,392.7 58.5,392.5 59.0,392.3 59.5,392.2 60.0,392.1 60.5,392.1 61.0,392.1 61.2,392.1 61.3,392.1 61.4,392.1 61.5,392.1 61.6,392.1 61.7,392.1 61.8,392.1 61.9,392.1 62.0,392.1 62.1,392.1 62.2,392.1 62.3,392.1 62.4,392.1 62.5,392.1 62.6,392.1 62.7,392.1 62.8,392.1 62.9,392.1 63.0,392.1 63.1,392.1 63.2,392.1 63.3,392.1 63.4,392.1 63.5,392.1 63.6,392.1 63.7,392.1 63.8,392.1 63.9,392.1 64.0,392.1 64.1,392.1 64.2,392.1 64.3,392.1 64.4,392.1 64.5,392.1 64.6,392.1 64.7,392.1 64.8,392.1 64.9,392.1 65.0,392.1 65.1,392.1 65.2,392.1 65.3,392.1 65.4,392.1 65.5,392.1 65.6,392.1 65.7,392.1 65.8,392.1 65.9,392.1 66.0,392.1 66.1,392.1 66.2,392.1 66.3,392.1 66.4,392.1 66.5,392.1 66.6,392.1 66.7,392.1 66.8,392.1 66.9,392.1 67.0,392.1 67.1,392.1 67.2,392.1 67.3,392.1 67.4,392.1 67.5,392.1 67.6,392.1 67.7,392.1 67.8,392.1 67.9,392.1 68.0,392.1 68.1,392.1 68.2,392.1 68.3,392.1 68.4,392.1 68.5,392.1 68.6,392.1 68.7,392.1 68.8,392.1 68.9,392.1 69.0,392.1 69.1,392.1 69.2,392.1 69.3,392.1 69.4,392.1 69.5,392.1 69.6,392.1 70.0,392.1 70.5,392.1 70.8,392.1 70.9,392.1 71.0,392.1 71.1,392.1 71.2,392.1 71.3,392.1 71.4,392.1 71.5,392.1 71.6,392.1 71.7,392.1 71.8,392.1 71.9,392.1 72.0,392.1 72.1,392.1 72.2,392.1 72.3,392.1 72.4,392.1 72.5,392.1 72.6,392.1 72.7,392.1 72.8,392.1 72.9,392.1 73.0,392.1 73.1,392.1 73.2,392.1 73.3,392.1 73.4,392.1 73.5,392.1 73.6,392.1 73.7,392.1 73.8,392.1 73.9,392.1 74.0,392.1 74.1,392.1 74.2,392.1 74.3,392.1 74.4,392.1 74.5,392.1 74.6,392.1 74.7,392.1 74.8,392.1 74.9,392.1 75.0,392.1 75.1,392.1 75.2,392.1 75.3,392.1 75.4,392.1 75.5,392.1 75.6,392.1 75.7,392.1 75.8,392.1 75.9,392.1 76.0,392.1 76.1,392.1 76.2,392.1 76.3,392.1 76.4,392.1 76.5,392.1 76.6,392.1 76.7,392.1 76.8,392.1 76.9,392.1 77.0,392.1 77.1,392.1 77.2,392.1 77.3,392.1 77.4,392.1 77.5,392.1 77.6,392.1 77.7,392.1 77.8,392.1 77.9,392.1 78.0,392.1 78.5,392.1 79.0,392.1 79.5,392.1 80.0,392.1 80.5,392.4 81.0,392.3 81.5,392.4 82.0,392.1 82.5,392.5 83.0,392.5 83.5,392.6 84.0,392.2 84.5,392.4 85.0,392.6 85.5,392.9 86.0,392.9 86.5,392.8 87.0,392.6 87.5,392.4 88.0,392.2 88.5,392.5 89.0,392.4 89.5,392.4 90.0,392.2 90.5,392.4 91.0,392.5 91.4,392.4 91.5,392.4 91.6,392.3 91.7,392.3 91.8,392.2 91.9,392.2 92.0,392.2 92.1,392.2 92.2,392.2 92.3,392.2 92.4,392.2 92.5,392.2 92.6,392.2 92.7,392.2 92.8,392.2 92.9,392.2 93.0,392.2 93.1,392.2 93.2,392.2 93.3,392.2 93.4,392.2 93.5,392.2 93.6,392.2 93.7,392.2 93.8,392.2 93.9,392.2 94.0,392.2 94.1,392.2 94.2,392.2 94.3,392.2 94.4,392.2 94.5,392.2 94.6,392.2 94.7,392.2 94.8,392.2 94.9,392.2 95.0,392.2 95.1,392.2 95.2,392.2 95.3,392.2 95.4,392.2 95.5,392.2 95.6,392.2 95.7,392.2 95.8,392.2 95.9,392.2 96.0,392.2 96.1,392.2 96.2,392.2 96.3,392.2 96.4,392.2 96.5,392.2 96.6,392.2 96.7,392.2 96.8,392.2 96.9,392.2 97.0,392.2 97.1,392.2 97.2,392.2 97.3,392.2 97.4,392.2 97.5,392.2 97.6,392.2 97.7,392.3 97.8,392.3 97.9,392.4 98.0,392.4 98.1,392.4 98.2,392.4 98.3,392.4 98.4,392.4 98.5,392.4 98.6,392.5 99.0,392.7 99.5,392.8 100.0,392.8 100.5,392.2 100.8,392.2 100.9,392.2 101.0,392.2 101.1,392.2 101.2,392.2 101.3,392.2 101.4,392.2 101.5,392.2 101.6,392.2 101.7,392.2 101.8,392.2 101.9,392.2 102.0,392.2 102.1,392.2 102.2,392.2 102.3,392.2 102.4,392.2 102.5,392.2 102.6,392.2 102.7,392.2 102.8,392.2 102.9,392.2 103.0,392.2 103.1,392.2 103.2,392.2 103.3,392.2 103.4,392.2 103.5,392.2 103.6,392.2 103.7,392.2 103.8,392.2 103.9,392.2 104.0,392.2 104.1,392.2 104.2,392.2 104.3,392.2 104.4,392.2 104.5,392.2 105.0,392.2 105.1,392.2 105.2,392.2 105.3,392.2 105.4,392.2 105.5,392.2 105.6,392.2 105.7,392.2 105.8,392.2 105.9,392.2 106.0,392.2 106.1,392.2 106.2,392.2 106.3,392.2 106.4,392.2 106.5,392.2 106.6,392.2 106.7,392.2 106.8,392.2 106.9,392.2 107.0,392.2 107.1,392.2 107.2,392.2 107.3,392.2 107.4,392.2 107.5,392.2 107.6,392.2 107.7,392.2 107.8,392.2 107.9,392.2 108.0,392.2 108.1,392.2 108.2,392.2 108.3,392.2 108.4,392.2 108.5,392.2 108.6,392.2 108.7,392.2 108.8,392.2 108.9,392.2 109.0,392.2 109.1,392.2 109.2,392.2 109.3,392.2 109.4,392.2 109.5,392.2 109.6,392.2 109.7,392.2 109.8,392.2 109.9,392.2 110.0,392.2 110.1,392.2 110.2,392.2 110.3,392.2 110.4,392.2 110.5,392.2 110.6,392.2 110.7,392.2 110.8,392.2 110.9,392.2 111.0,392.2 111.1,392.2 111.2,392.2 111.3,392.2 111.4,392.2 111.5,392.2 111.6,392.2 111.7,392.2 111.8,392.2 111.9,392.2 112.0,392.2 112.1,392.2 112.2,392.2 112.3,392.2 112.4,392.2 112.5,392.2 112.6,392.2 112.7,392.2 112.8,392.2 112.9,392.2 113.0,392.2 113.1,392.2 113.2,392.2 113.3,392.2 113.4,392.2 113.5,392.2 113.6,392.2 113.7,392.2 113.8,392.2 113.9,392.2 114.0,392.2 114.1,392.2 114.2,392.2 114.3,392.2 114.4,392.2 114.5,392.2 114.6,392.2 114.7,392.2 114.8,392.2 114.9,392.2 115.0,392.2 115.1,392.2 115.2,392.2 115.3,392.2 115.4,392.2 115.5,392.3 115.6,392.4 115.7,392.4 115.8,392.5 116.0,392.6 116.5,392.5 117.0,392.2 117.5,392.2 118.0,392.2 118.3,392.2 118.4,392.3 118.5,392.3 118.6,392.4 118.7,392.4 118.8,392.4 118.9,392.4 119.0,392.5 119.1,392.4 119.2,392.4 119.3,392.4 119.4,392.4 119.5,392.3 119.6,392.2 119.7,392.2 119.8,392.2 119.9,392.2 120.0,392.2 120.1,392.2 120.2,392.2 120.3,392.2 120.4,392.2 120.5,392.2 120.6,392.2 120.7,392.2 120.8,392.2 120.9,392.2 121.0,392.2 121.1,392.2 121.2,392.2 121.3,392.2 121.4,392.2 121.5,392.2 121.6,392.2 121.7,392.2 121.8,392.2 121.9,392.2 122.0,392.2 122.1,392.2 122.2,392.2 122.3,392.2 122.4,392.2 122.5,392.2 122.6,392.2 122.7,392.2 122.8,392.2 122.9,392.2 123.0,392.2 123.1,392.2 123.2,392.2 123.3,392.2 123.4,392.2 123.5,392.2 123.6,392.2 123.7,392.2 123.8,392.2 123.9,392.2 124.0,392.2 124.1,392.2 124.2,392.2 124.3,392.2 124.4,392.2 124.5,392.2 124.6,392.2 124.7,392.3 124.8,392.3 124.9,392.3 125.0,392.3 125.1,392.3 125.2,392.3 125.3,392.2 125.4,392.2 125.5,392.2 125.6,392.2 125.7,392.2 125.8,392.2 125.9,392.2 126.0,392.2 126.1,392.2 126.2,392.2 126.3,392.2 126.4,392.2 126.5,392.2 126.6,392.2 126.7,392.2 126.8,392.2 126.9,392.2 127.0,392.2 127.1,392.2 127.2,392.2 127.3,392.2 127.4,392.2 127.5,392.2 127.6,392.2 127.7,392.2 127.8,392.2 127.9,392.2 128.0,392.2 128.1,392.2 128.2,392.2 128.3,392.2 128.4,392.2 128.5,392.2 128.6,392.2 128.7,392.2 128.8,392.2 128.9,392.2 129.0,392.3 129.1,392.3 129.2,392.3 129.3,392.3 129.5,392.4 130.0,392.6 130.5,392.6 130.9,392.5 131.0,392.4 131.1,392.4 131.2,392.3 131.3,392.3 131.4,392.2 131.5,392.2 131.6,392.2 131.7,392.2 131.8,392.2 131.9,392.2 132.0,392.2 132.1,392.2 132.2,392.2 132.3,392.2 132.4,392.2 132.5,392.2 132.6,392.2 132.7,392.2 132.8,392.2 132.9,392.2 133.0,392.2 133.1,392.2 133.2,392.2 133.3,392.2 133.4,392.2 133.5,392.2 133.6,392.2 133.7,392.2 133.8,392.2 133.9,392.2 134.0,392.2 134.1,392.2 134.2,392.2 134.3,392.2 134.4,392.2 134.5,392.2 134.6,392.2 134.7,392.2 134.8,392.2 134.9,392.2 135.0,392.2 135.1,392.3 135.2,392.4 135.3,392.5 135.4,392.5 135.5,392.6 135.6,392.6 135.7,392.6 136.0,392.6 136.5,392.4 137.0,392.5 137.5,392.5 138.0,392.6 138.5,392.5 139.0,392.8 139.5,392.7 140.0,392.8 140.5,392.5 141.0,392.5 141.5,392.3 142.0,392.2 142.5,392.3 143.0,392.6 143.5,392.8 144.0,392.8 144.5,392.9 145.0,392.9 145.5,392.9 146.0,392.6 146.5,392.4 147.0,392.4 147.5,392.2 148.0,392.5 148.4,392.4 148.5,392.4 148.6,392.5 148.7,392.5 148.8,392.6 148.9,392.7 149.0,392.7 149.1,392.7 149.2,392.7 149.3,392.6 149.4,392.6 149.5,392.5 149.6,392.5 149.7,392.4 149.8,392.4 149.9,392.3 150.0,392.2 150.1,392.2 150.2,392.2 150.3,392.2 150.4,392.2 150.5,392.2 150.6,392.2 150.7,392.2 150.8,392.2 150.9,392.2 151.0,392.2 151.1,392.2 151.2,392.2 151.3,392.2 151.4,392.2 151.5,392.2 151.6,392.2 151.7,392.2 151.8,392.2 151.9,392.2 152.0,392.2 152.1,392.2 152.2,392.2 152.3,392.2 152.4,392.2 152.5,392.2 152.6,392.2 152.7,392.2 152.8,392.2 152.9,392.2 153.0,392.3 153.1,392.3 153.2,392.3 153.3,392.3 153.4,392.3 153.5,392.3 153.6,392.3 153.7,392.4 153.8,392.4 153.9,392.4 154.0,392.4 154.1,392.3 154.2,392.3 154.3,392.2 154.4,392.2 154.5,392.2 155.0,392.3 155.5,392.2 156.0,392.6 156.5,392.8 157.0,392.7 157.5,392.5 158.0,392.3 158.5,392.5 159.0,392.5 159.5,392.5 160.0,392.4 160.5,392.3 161.0,392.3 161.5,392.6 162.0,392.4 162.5,392.5 163.0,392.6 163.5,392.6 164.0,392.4 164.5,392.3 165.0,392.3 165.5,392.6 166.0,392.6 166.2,392.5 166.3,392.4 166.4,392.4 166.5,392.3 166.6,392.3 166.7,392.3 166.8,392.3 166.9,392.3 167.0,392.3 167.1,392.3 167.2,392.3 167.3,392.3 167.4,392.3 167.5,392.3 167.6,392.3 167.7,392.3 167.8,392.3 167.9,392.3 168.0,392.3 168.1,392.3 168.2,392.3 168.3,392.3 168.4,392.3 168.5,392.3 168.6,392.3 168.7,392.3 168.8,392.3 168.9,392.3 169.0,392.3 169.1,392.3 169.2,392.3 169.3,392.3 169.4,392.3 169.5,392.3 169.6,392.3 169.7,392.3 169.8,392.3 169.9,392.3 170.0,392.3 170.1,392.3 170.2,392.3 170.3,392.3 170.4,392.3 170.5,392.3 170.6,392.4 170.7,392.4 170.8,392.5 170.9,392.5 171.0,392.5 171.5,392.7 172.0,392.4 172.5,392.6 173.0,392.3 173.5,392.4 173.6,392.4 173.7,392.4 173.8,392.3 173.9,392.3 174.0,392.3 174.1,392.3 174.2,392.3 174.3,392.3 174.4,392.3 174.5,392.3 174.6,392.3 174.7,392.3 174.8,392.3 174.9,392.3 175.0,392.3 175.1,392.3 175.2,392.3 175.3,392.3 175.4,392.3 175.5,392.3 175.6,392.3 175.7,392.3 175.8,392.3 175.9,392.3 176.0,392.3 176.1,392.3 176.2,392.3 176.3,392.3 176.4,392.3 176.5,392.3 176.6,392.3 176.7,392.3 176.8,392.3 176.9,392.3 177.0,392.3 177.1,392.3 177.2,392.3 177.3,392.3 177.4,392.3 177.5,392.3 177.6,392.3 177.7,392.3 177.8,392.3 177.9,392.3 178.0,392.3 178.1,392.3 178.2,392.3 178.3,392.3 178.4,392.3 178.5,392.3 178.6,392.4 178.7,392.4 178.8,392.5 178.9,392.5 179.0,392.5 179.5,392.6 180.0,392.6 180.5,392.6 181.0,392.8 181.5,392.8 182.0,392.7 182.5,392.6 182.7,392.7 182.8,392.7 182.9,392.7 183.0,392.8 183.1,392.7 183.2,392.7 183.3,392.7 183.4,392.7 183.5,392.6 183.6,392.6 183.7,392.5 183.8,392.4 183.9,392.3 184.0,392.3 184.1,392.3 184.2,392.3 184.3,392.3 184.4,392.3 184.5,392.3 184.6,392.3 184.7,392.3 184.8,392.3 184.9,392.3 185.0,392.3 185.1,392.3 185.2,392.3 185.3,392.3 185.4,392.3 185.5,392.3 185.6,392.3 185.7,392.3 185.8,392.3 185.9,392.3 186.0,392.3 186.1,392.3 186.2,392.3 186.3,392.3 186.4,392.3 186.5,392.3 186.6,392.3 186.7,392.3 186.8,392.3 186.9,392.3 187.0,392.3 187.1,392.4 187.2,392.5 187.3,392.5 187.4,392.6 187.5,392.7 187.6,392.7 187.7,392.7 187.8,392.7 187.9,392.7 188.0,392.7 188.1,392.7 188.5,392.8 189.0,392.6 189.5,392.4 190.0,392.4 190.5,392.6 191.0,392.7 191.5,393.0 192.0,392.8 192.5,393.0 193.0,392.8 193.5,392.5 194.0,392.3 194.5,392.3 195.0,392.5 195.5,392.3 196.0,392.4 196.5,392.4 197.0,392.4 197.5,392.3 198.0,392.5 198.5,392.6 199.0,392.8 199.5,392.9 200.0,393.0 200.5,392.7 201.0,392.3 201.5,392.3 202.0,392.6 202.5,392.8 203.0,392.8 203.5,392.6 204.0,392.6 204.5,392.4 205.0,392.3 205.1,392.3 205.2,392.3 205.3,392.3 205.4,392.3 205.5,392.3 205.6,392.3 205.7,392.3 205.8,392.3 205.9,392.3 206.0,392.3 206.1,392.3 206.2,392.3 206.3,392.3 206.4,392.3 206.5,392.3 206.6,392.3 206.7,392.3 206.8,392.3 206.9,392.3 207.0,392.3 207.1,392.3 207.2,392.3 207.3,392.3 207.4,392.3 207.5,392.3 207.6,392.3 207.7,392.3 207.8,392.3 207.9,392.3 208.0,392.3 208.1,392.3 208.2,392.3 208.3,392.3 208.4,392.3 208.5,392.3 208.6,392.3 208.7,392.3 208.8,392.3 208.9,392.3 209.0,392.3 209.1,392.3 209.2,392.3 209.3,392.3 209.4,392.3 209.5,392.3 209.6,392.3 209.7,392.3 209.8,392.3 209.9,392.3 210.0,392.4 210.1,392.4 210.2,392.5 210.3,392.5 210.4,392.5 210.5,392.5 211.0,392.5 211.5,392.6 212.0,392.7 212.5,392.5 213.0,392.3 213.5,392.3 214.0,392.3 214.5,392.9 215.0,392.7 215.5,392.6 216.0,392.6 216.5,392.6 217.0,392.8 217.5,392.7 218.0,392.9 218.5,392.9 219.0,392.7 219.5,392.8 220.0,392.7 220.5,392.8 221.0,392.7 221.5,393.1 222.0,393.0 222.5,392.8 223.0,392.6 223.5,392.6 224.0,392.7 224.5,392.6 225.0,392.8 225.5,392.7 226.0,392.7 226.5,392.3 227.0,392.3 227.5,392.3 228.0,392.5 228.5,392.5 229.0,392.3 229.5,392.3 230.0,392.3 230.3,392.3 230.4,392.3 230.5,392.3 230.6,392.3 230.7,392.3 230.8,392.3 230.9,392.3 231.0,392.3 231.1,392.3 231.2,392.3 231.3,392.3 231.4,392.3 231.5,392.3 231.6,392.3 231.7,392.3 231.8,392.3 231.9,392.3 232.0,392.3 232.1,392.3 232.2,392.3 232.3,392.3 232.4,392.3 232.5,392.3 232.6,392.3 232.7,392.3 232.8,392.3 232.9,392.3 233.0,392.3 233.1,392.3 233.2,392.3 233.3,392.3 233.4,392.3 233.5,392.3 233.6,392.3 233.7,392.3 233.8,392.3 233.9,392.3 234.0,392.3 234.1,392.3 234.2,392.3 234.3,392.3 234.4,392.3 234.5,392.3 234.6,392.3 234.7,392.3 234.8,392.3 234.9,392.3 235.0,392.3 235.1,392.3 235.2,392.3 235.3,392.3 235.4,392.3 235.5,392.3 235.6,392.3 235.7,392.3 235.8,392.3 235.9,392.3 236.0,392.3 236.1,392.3 236.2,392.3 236.3,392.3 236.4,392.3 236.5,392.3 236.6,392.3 236.7,392.4 236.8,392.4 236.9,392.4 237.0,392.4 237.1,392.4 237.2,392.4 237.3,392.4 237.4,392.5 237.5,392.6 238.0,392.7 238.5,392.7 239.0,392.4 239.5,392.4 240.0,392.4 240.5,392.7 241.0,392.8 241.5,392.6 242.0,392.6 242.5,392.4 243.0,392.6 243.5,392.7 244.0,392.8 244.5,392.4 245.0,392.4 245.5,392.6 246.0,392.9 246.5,392.8 247.0,392.8 247.5,392.9 248.0,393.1 248.5,393.0 249.0,393.0 249.5,392.9 250.0,392.9 250.5,392.6 251.0,392.7 251.5,392.6 252.0,392.9 252.5,392.4 253.0,392.4 253.2,392.4 253.3,392.4 253.4,392.4 253.5,392.4 253.6,392.4 253.7,392.4 253.8,392.4 253.9,392.4 254.0,392.4 254.1,392.4 254.2,392.4 254.3,392.4 254.4,392.4 254.5,392.4 254.6,392.4 254.7,392.4 254.8,392.4 254.9,392.4 255.0,392.4 255.1,392.4 255.2,392.4 255.3,392.4 255.4,392.4 255.5,392.4 255.6,392.4 255.7,392.4 255.8,392.4 255.9,392.4 256.0,392.4 256.1,392.4 256.2,392.4 256.3,392.4 256.4,392.4 256.5,392.4 256.6,392.4 256.7,392.4 256.8,392.4 256.9,392.4 257.0,392.4 257.1,392.4 257.2,392.4 257.3,392.4 257.4,392.4 257.5,392.4 257.6,392.4 257.7,392.4 257.8,392.4 257.9,392.4 258.0,392.4 258.1,392.4 258.2,392.4 258.3,392.4 258.4,392.4 258.5,392.4 258.6,392.4 258.7,392.4 258.8,392.4 258.9,392.4 259.0,392.4 259.1,392.4 259.2,392.4 259.3,392.4 259.4,392.4 259.5,392.4 259.6,392.4 259.7,392.4 259.8,392.4 259.9,392.4 260.0,392.4 260.1,392.4 260.2,392.4 260.3,392.4 260.4,392.4 260.5,392.4 260.6,392.4 260.7,392.4 260.8,392.4 260.9,392.4 261.0,392.4 261.1,392.4 261.2,392.4 261.3,392.4 261.4,392.4 261.5,392.4 261.6,392.4 261.7,392.4 261.8,392.4 261.9,392.4 262.0,392.4 262.1,392.4 262.2,392.4 262.3,392.4 262.4,392.4 262.5,392.4 262.6,392.4 262.7,392.4 262.8,392.4 262.9,392.4 263.0,392.4 263.1,392.4 263.2,392.4 263.3,392.4 263.4,392.4 263.5,392.4 263.6,392.4 263.7,392.4 263.8,392.4 263.9,392.4 264.0,392.4 264.1,392.4 264.2,392.4 264.3,392.4 264.4,392.4 264.5,392.4 264.6,392.4 264.7,392.4 264.8,392.4 265.0,392.4 265.5,392.4 266.0,392.4 266.2,392.4 266.3,392.4 266.4,392.4 266.5,392.4 266.6,392.4 266.7,392.4 266.8,392.4 266.9,392.4 267.0,392.4 267.1,392.4 267.2,392.4 267.3,392.4 267.4,392.4 267.5,392.4 267.6,392.4 267.7,392.4 267.8,392.4 267.9,392.4 268.0,392.4 268.1,392.4 268.2,392.4 268.3,392.4 268.4,392.4 268.5,392.4 268.6,392.4 268.7,392.4 268.8,392.4 268.9,392.4 269.0,392.4 269.1,392.4 269.2,392.4 269.3,392.4 269.4,392.4 269.5,392.4 269.6,392.4 269.7,392.4 269.8,392.4 269.9,392.4 270.0,392.4 270.1,392.4 270.2,392.4 270.3,392.4 270.4,392.4 270.5,392.4 270.6,392.4 270.7,392.4 270.8,392.4 270.9,392.4 271.0,392.4 271.1,392.4 271.2,392.4 271.3,392.4 271.4,392.4 271.5,392.4 271.6,392.4 271.7,392.4 271.8,392.4 271.9,392.5 272.0,392.6 272.1,392.7 272.2,392.7 272.3,392.8 272.4,392.8 272.5,392.9 272.6,392.9 272.7,393.0 272.8,393.0 273.0,393.1 273.5,393.0 274.0,392.9" fill="none" stroke="#151515" stroke-width="1.8" stroke-linejoin="round"/>
<text transform="translate(54.54,379.90) scale(1.008,1)" style="font-family:'Liberation Sans', sans-serif;font-size:7.12px;" fill="#2a2a2a" stroke="#2a2a2a" stroke-width="0.18">T</text>
<text x="59.62" y="379.90" style="font-family:'Liberation Sans', sans-serif;font-size:6.76px;" fill="#2a2a2a" stroke="#2a2a2a" stroke-width="0.18">i</text>
<text transform="translate(61.34,382.51) scale(1.059,1)" style="font-family:'Liberation Sans', sans-serif;font-size:3.32px;" fill="#2a2a2a" stroke="#2a2a2a" stroke-width="0.18">6</text>
<text transform="translate(63.46,379.83) scale(1.037,1)" style="font-family:'Liberation Sans', sans-serif;font-size:6.92px;" fill="#2a2a2a" stroke="#2a2a2a" stroke-width="0.18">O</text>
<text transform="translate(68.54,369.40) scale(0.882,1)" style="font-family:'Liberation Sans', sans-serif;font-size:8.14px;" fill="#2a2a2a" stroke="#2a2a2a" stroke-width="0.18">T</text>
<text x="73.51" y="369.40" style="font-family:'Liberation Sans', sans-serif;font-size:7.73px;" fill="#2a2a2a" stroke="#2a2a2a" stroke-width="0.18">i</text>
<text transform="translate(75.34,372.40) scale(0.917,1)" style="font-family:'Liberation Sans', sans-serif;font-size:3.83px;" fill="#2a2a2a" stroke="#2a2a2a" stroke-width="0.18">6</text>
<text transform="translate(77.46,369.32) scale(0.908,1)" style="font-family:'Liberation Sans', sans-serif;font-size:7.91px;" fill="#2a2a2a" stroke="#2a2a2a" stroke-width="0.18">O</text>
<text transform="translate(93.16,358.20) scale(0.931,1)" style="font-family:'Liberation Sans', sans-serif;font-size:6.83px;" fill="#2a2a2a" stroke="#2a2a2a" stroke-width="0.18">T</text>
<text x="97.60" y="358.20" style="font-family:'Liberation Sans', sans-serif;font-size:6.49px;" fill="#2a2a2a" stroke="#2a2a2a" stroke-width="0.18">i</text>
<text transform="translate(99.20,360.73) scale(0.964,1)" style="font-family:'Liberation Sans', sans-serif;font-size:3.21px;" fill="#2a2a2a" stroke="#2a2a2a" stroke-width="0.18">2</text>
<text transform="translate(101.06,358.14) scale(0.958,1)" style="font-family:'Liberation Sans', sans-serif;font-size:6.64px;" fill="#2a2a2a" stroke="#2a2a2a" stroke-width="0.18">O</text>
<text transform="translate(107.50,364.50) scale(0.988,1)" style="font-family:'Liberation Sans', sans-serif;font-size:8.87px;" fill="#2a2a2a" stroke="#2a2a2a" stroke-width="0.18">T</text>
<text x="113.52" y="364.50" style="font-family:'Liberation Sans', sans-serif;font-size:8.42px;" fill="#2a2a2a" stroke="#2a2a2a" stroke-width="0.18">i</text>
<text transform="translate(116.60,253.30) scale(1.105,1)" style="font-family:'Liberation Sans', sans-serif;font-size:8.14px;" fill="#2a2a2a" stroke="#2a2a2a" stroke-width="0.18">T</text>
<text x="122.88" y="253.30" style="font-family:'Liberation Sans', sans-serif;font-size:7.73px;" fill="#2a2a2a" stroke="#2a2a2a" stroke-width="0.18">i</text>
<text transform="translate(126.23,364.30) scale(0.845,1)" style="font-family:'Liberation Sans', sans-serif;font-size:8.87px;" fill="#2a2a2a" stroke="#2a2a2a" stroke-width="0.18">T</text>
<text x="131.38" y="364.30" style="font-family:'Liberation Sans', sans-serif;font-size:8.42px;" fill="#2a2a2a" stroke="#2a2a2a" stroke-width="0.18">i</text>
<text transform="translate(133.37,367.58) scale(0.853,1)" style="font-family:'Liberation Sans', sans-serif;font-size:4.20px;" fill="#2a2a2a" stroke="#2a2a2a" stroke-width="0.18">3</text>
<text transform="translate(135.54,364.22) scale(0.869,1)" style="font-family:'Liberation Sans', sans-serif;font-size:8.62px;" fill="#2a2a2a" stroke="#2a2a2a" stroke-width="0.18">O</text>
<text transform="translate(164.70,368.70) scale(1.090,1)" style="font-family:'Liberation Sans', sans-serif;font-size:8.14px;" fill="#2a2a2a" stroke="#2a2a2a" stroke-width="0.18">T</text>
<text x="170.89" y="368.70" style="font-family:'Liberation Sans', sans-serif;font-size:7.73px;" fill="#2a2a2a" stroke="#2a2a2a" stroke-width="0.18">i</text>
<text transform="translate(173.65,380.00) scale(0.813,1)" style="font-family:'Liberation Sans', sans-serif;font-size:8.29px;" fill="#2a2a2a" stroke="#2a2a2a" stroke-width="0.18">T</text>
<text x="178.08" y="380.00" style="font-family:'Liberation Sans', sans-serif;font-size:7.87px;" fill="#2a2a2a" stroke="#2a2a2a" stroke-width="0.18">i</text>
<text transform="translate(180.33,379.92) scale(0.795,1)" style="font-family:'Liberation Sans', sans-serif;font-size:8.05px;" fill="#2a2a2a" stroke="#2a2a2a" stroke-width="0.18">O</text>
<text transform="translate(203.93,359.00) scale(1.044,1)" style="font-family:'Liberation Sans', sans-serif;font-size:7.27px;" fill="#2a2a2a" stroke="#2a2a2a" stroke-width="0.18">T</text>
<text x="209.18" y="359.00" style="font-family:'Liberation Sans', sans-serif;font-size:6.90px;" fill="#2a2a2a" stroke="#2a2a2a" stroke-width="0.18">i</text>
<text transform="translate(230.32,374.30) scale(1.148,1)" style="font-family:'Liberation Sans', sans-serif;font-size:7.12px;" fill="#2a2a2a" stroke="#2a2a2a" stroke-width="0.18">T</text>
<text x="236.05" y="374.30" style="font-family:'Liberation Sans', sans-serif;font-size:6.76px;" fill="#2a2a2a" stroke="#2a2a2a" stroke-width="0.18">i</text>
<text transform="translate(253.82,374.30) scale(1.148,1)" style="font-family:'Liberation Sans', sans-serif;font-size:7.12px;" fill="#2a2a2a" stroke="#2a2a2a" stroke-width="0.18">T</text>
<text x="259.55" y="374.30" style="font-family:'Liberation Sans', sans-serif;font-size:6.76px;" fill="#2a2a2a" stroke="#2a2a2a" stroke-width="0.18">i</text>
<text transform="translate(51.35,246.32) scale(1.060,1)" style="font-family:'Liberation Sans', sans-serif;font-size:20.50px;font-weight:bold;" fill="#000">c</text>
<text x="145.80" y="411.81" style="font-family:'Liberation Sans', sans-serif;font-size:9.00px;" fill="#000" stroke="#000" stroke-width="0.3">2θ</text>
<line x1="329.5" y1="223.5" x2="562.5" y2="223.5" stroke="#686868" stroke-width="1.15"/>
<line x1="562.5" y1="223.5" x2="562.5" y2="392.5" stroke="#666666" stroke-width="1.15"/>
<line x1="329.5" y1="392.5" x2="562.5" y2="392.5" stroke="#8a8a8a" stroke-width="1.15"/>
<line x1="329.5" y1="223.5" x2="329.5" y2="392.5" stroke="#666666" stroke-width="1.15"/>
<line x1="325.5" y1="392.7" x2="329.5" y2="392.7" stroke="#505050" stroke-width="1.15"/>
<text x="319.49" y="394.60" style="font-family:'Liberation Sans', sans-serif;font-size:6.40px;" fill="#000" stroke="#000" stroke-width="0.3">0</text>
<line x1="327.5" y1="382.11875" x2="329.5" y2="382.11875" stroke="#505050" stroke-width="1.15"/>
<line x1="325.5" y1="371.53749999999997" x2="329.5" y2="371.53749999999997" stroke="#505050" stroke-width="1.15"/>
<text x="308.81" y="373.44" style="font-family:'Liberation Sans', sans-serif;font-size:6.40px;" fill="#000" stroke="#000" stroke-width="0.3">2000</text>
<line x1="327.5" y1="360.95625" x2="329.5" y2="360.95625" stroke="#505050" stroke-width="1.15"/>
<line x1="325.5" y1="350.375" x2="329.5" y2="350.375" stroke="#505050" stroke-width="1.15"/>
<text x="308.81" y="352.28" style="font-family:'Liberation Sans', sans-serif;font-size:6.40px;" fill="#000" stroke="#000" stroke-width="0.3">4000</text>
<line x1="327.5" y1="339.79375" x2="329.5" y2="339.79375" stroke="#505050" stroke-width="1.15"/>
<line x1="325.5" y1="329.2125" x2="329.5" y2="329.2125" stroke="#505050" stroke-width="1.15"/>
<text x="308.81" y="331.12" style="font-family:'Liberation Sans', sans-serif;font-size:6.40px;" fill="#000" stroke="#000" stroke-width="0.3">6000</text>
<line x1="327.5" y1="318.63125" x2="329.5" y2="318.63125" stroke="#505050" stroke-width="1.15"/>
<line x1="325.5" y1="308.05" x2="329.5" y2="308.05" stroke="#505050" stroke-width="1.15"/>
<text x="308.81" y="309.95" style="font-family:'Liberation Sans', sans-serif;font-size:6.40px;" fill="#000" stroke="#000" stroke-width="0.3">8000</text>
<line x1="327.5" y1="297.46875" x2="329.5" y2="297.46875" stroke="#505050" stroke-width="1.15"/>
<line x1="325.5" y1="286.8875" x2="329.5" y2="286.8875" stroke="#505050" stroke-width="1.15"/>
<text x="305.25" y="288.79" style="font-family:'Liberation Sans', sans-serif;font-size:6.40px;" fill="#000" stroke="#000" stroke-width="0.3">10000</text>
<line x1="327.5" y1="276.30625" x2="329.5" y2="276.30625" stroke="#505050" stroke-width="1.15"/>
<line x1="325.5" y1="265.725" x2="329.5" y2="265.725" stroke="#505050" stroke-width="1.15"/>
<text x="305.25" y="267.63" style="font-family:'Liberation Sans', sans-serif;font-size:6.40px;" fill="#000" stroke="#000" stroke-width="0.3">12000</text>
<line x1="327.5" y1="255.14375" x2="329.5" y2="255.14375" stroke="#505050" stroke-width="1.15"/>
<line x1="325.5" y1="244.5625" x2="329.5" y2="244.5625" stroke="#505050" stroke-width="1.15"/>
<text x="305.25" y="246.47" style="font-family:'Liberation Sans', sans-serif;font-size:6.40px;" fill="#000" stroke="#000" stroke-width="0.3">14000</text>
<line x1="327.5" y1="233.98125000000002" x2="329.5" y2="233.98125000000002" stroke="#505050" stroke-width="1.15"/>
<line x1="325.5" y1="223.4" x2="329.5" y2="223.4" stroke="#505050" stroke-width="1.15"/>
<text x="305.25" y="225.30" style="font-family:'Liberation Sans', sans-serif;font-size:6.40px;" fill="#000" stroke="#000" stroke-width="0.3">16000</text>
<line x1="329.5" y1="392.5" x2="329.5" y2="396.5" stroke="#505050" stroke-width="1.15"/>
<text x="325.79" y="403.27" style="font-family:'Liberation Sans', sans-serif;font-size:6.60px;" fill="#000" stroke="#000" stroke-width="0.3">20</text>
<line x1="348.5" y1="392.5" x2="348.5" y2="395.0" stroke="#505050" stroke-width="1.15"/>
<line x1="368.5" y1="392.5" x2="368.5" y2="396.5" stroke="#505050" stroke-width="1.15"/>
<text x="364.83" y="403.27" style="font-family:'Liberation Sans', sans-serif;font-size:6.60px;" fill="#000" stroke="#000" stroke-width="0.3">30</text>
<line x1="387.5" y1="392.5" x2="387.5" y2="395.0" stroke="#505050" stroke-width="1.15"/>
<line x1="407.5" y1="392.5" x2="407.5" y2="396.5" stroke="#505050" stroke-width="1.15"/>
<text x="403.88" y="403.27" style="font-family:'Liberation Sans', sans-serif;font-size:6.60px;" fill="#000" stroke="#000" stroke-width="0.3">40</text>
<line x1="426.5" y1="392.5" x2="426.5" y2="395.0" stroke="#505050" stroke-width="1.15"/>
<line x1="446.5" y1="392.5" x2="446.5" y2="396.5" stroke="#505050" stroke-width="1.15"/>
<text x="442.83" y="403.27" style="font-family:'Liberation Sans', sans-serif;font-size:6.60px;" fill="#000" stroke="#000" stroke-width="0.3">50</text>
<line x1="465.5" y1="392.5" x2="465.5" y2="395.0" stroke="#505050" stroke-width="1.15"/>
<line x1="484.5" y1="392.5" x2="484.5" y2="396.5" stroke="#505050" stroke-width="1.15"/>
<text x="480.79" y="403.27" style="font-family:'Liberation Sans', sans-serif;font-size:6.60px;" fill="#000" stroke="#000" stroke-width="0.3">60</text>
<line x1="504.5" y1="392.5" x2="504.5" y2="395.0" stroke="#505050" stroke-width="1.15"/>
<line x1="523.5" y1="392.5" x2="523.5" y2="396.5" stroke="#505050" stroke-width="1.15"/>
<text x="519.79" y="403.27" style="font-family:'Liberation Sans', sans-serif;font-size:6.60px;" fill="#000" stroke="#000" stroke-width="0.3">70</text>
<line x1="543.5" y1="392.5" x2="543.5" y2="395.0" stroke="#505050" stroke-width="1.15"/>
<line x1="562.5" y1="392.5" x2="562.5" y2="396.5" stroke="#505050" stroke-width="1.15"/>
<text x="558.81" y="403.27" style="font-family:'Liberation Sans', sans-serif;font-size:6.60px;" fill="#000" stroke="#000" stroke-width="0.3">80</text>
<path d="M330.0,390.8 330.5,390.6 331.0,390.4 331.5,390.2 332.0,390.4 332.5,390.2 333.0,390.3 333.5,390.4 334.0,390.8 334.5,390.8 335.0,390.8 335.5,390.4 336.0,390.7 336.5,390.4 337.0,390.7 337.5,390.4 338.0,390.5 338.5,390.2 339.0,390.2 339.5,390.3 340.0,390.4 340.5,390.7 341.0,390.3 341.5,390.3 341.6,390.2 341.7,390.2 341.8,390.1 341.9,390.0 342.0,390.0 342.1,390.0 342.2,390.1 342.3,390.1 342.4,390.2 342.5,390.2 342.6,390.1 342.7,390.0 342.8,390.0 342.9,389.9 343.0,389.8 343.1,389.8 343.2,389.7 343.3,389.7 343.4,389.6 343.5,389.6 343.6,389.5 343.7,389.4 343.8,389.3 343.9,389.2 344.0,389.1 344.1,389.1 344.2,389.0 344.3,389.0 344.4,388.9 344.5,388.9 344.6,388.9 344.7,388.9 344.8,388.9 344.9,388.9 345.0,388.9 345.1,389.0 345.2,389.0 345.3,389.0 345.4,389.0 345.5,389.0 345.6,389.1 345.7,389.2 345.8,389.2 345.9,389.3 346.0,389.3 346.1,389.3 346.2,389.2 346.3,389.2 346.4,389.2 346.5,389.1 346.6,389.0 346.7,389.0 346.8,388.9 346.9,388.8 347.0,388.7 347.1,388.6 347.2,388.4 347.3,388.3 347.4,388.2 347.5,388.1 347.6,387.9 347.7,387.8 347.8,387.7 347.9,387.5 348.0,387.4 348.1,387.3 348.2,387.1 348.3,386.9 348.4,386.8 348.5,386.6 348.6,386.3 348.7,386.1 348.8,385.8 348.9,385.4 349.0,385.0 349.1,384.6 349.2,384.2 349.3,383.8 349.4,383.5 349.5,383.8 349.6,384.2 349.7,384.6 349.8,385.0 349.9,385.4 350.0,385.7 350.1,386.0 350.2,386.3 350.3,386.5 350.4,386.7 350.5,386.8 350.6,387.0 350.7,387.1 350.8,387.3 350.9,387.4 351.0,387.5 351.1,387.7 351.2,387.8 351.3,387.9 351.4,388.0 351.5,388.1 351.6,388.1 351.7,388.2 351.8,388.3 351.9,388.4 352.0,388.5 352.1,388.6 352.2,388.6 352.3,388.7 352.4,388.8 352.5,388.9 352.6,388.9 352.7,389.0 352.8,389.0 352.9,389.0 353.0,389.0 353.1,389.1 353.2,389.1 353.3,389.1 353.4,389.1 353.5,389.1 353.6,389.0 353.7,389.0 353.8,389.0 353.9,388.9 354.0,388.9 354.1,388.8 354.2,388.8 354.5,388.7 354.6,388.6 354.7,388.6 354.8,388.5 354.9,388.4 355.0,388.4 355.1,388.3 355.2,388.2 355.3,388.1 355.4,388.0 355.5,387.9 355.6,387.8 355.7,387.7 355.8,387.6 355.9,387.5 356.0,387.3 356.1,387.2 356.2,387.0 356.3,386.8 356.4,386.6 356.5,386.4 356.6,386.2 356.7,385.9 356.8,385.7 356.9,385.4 357.0,385.1 357.1,384.7 357.2,384.4 357.3,383.9 357.4,383.5 357.5,383.0 357.6,382.4 357.7,381.7 357.8,380.8 357.9,379.8 358.0,378.4 358.1,376.8 358.2,374.8 358.3,372.8 358.4,371.6 358.5,372.8 358.6,374.8 358.7,376.8 358.8,378.5 358.9,379.8 359.0,380.9 359.1,381.8 359.2,382.5 359.3,383.1 359.4,383.6 359.5,384.1 359.6,384.5 359.7,384.9 359.8,385.2 359.9,385.6 360.0,385.9 360.1,386.2 360.2,386.4 360.3,386.7 360.4,386.9 360.5,387.1 360.6,387.3 360.7,387.5 360.8,387.7 360.9,387.8 361.0,388.0 361.1,388.1 361.2,388.3 361.3,388.4 361.4,388.5 361.5,388.6 361.6,388.7 361.7,388.8 361.8,389.0 361.9,389.1 362.0,389.2 362.1,389.3 362.2,389.3 362.3,389.4 362.5,389.5 363.0,389.7 363.5,390.1 364.0,390.3 364.5,390.5 365.0,390.5 365.5,390.6 366.0,391.0 366.5,390.7 367.0,390.7 367.5,390.4 368.0,390.3 368.5,390.2 369.0,390.4 369.5,390.8 370.0,391.3 370.5,391.1 371.0,391.2 371.5,390.8 372.0,390.9 372.5,390.6 373.0,390.5 373.5,390.4 374.0,390.4 374.5,390.6 375.0,390.6 375.3,390.8 375.4,390.9 375.5,390.9 375.6,390.9 375.7,390.9 375.8,390.9 375.9,390.9 376.0,390.9 376.1,390.9 376.2,390.9 376.3,390.9 376.4,390.9 376.5,390.9 376.6,390.8 376.7,390.8 376.8,390.7 376.9,390.6 377.0,390.5 377.1,390.4 377.2,390.4 377.3,390.2 377.4,390.1 377.5,390.0 377.6,389.9 377.7,389.7 377.8,389.6 377.9,389.4 378.0,389.3 378.1,389.1 378.2,389.0 378.3,388.9 378.4,388.8 378.5,388.7 378.6,388.7 378.7,388.7 378.8,388.8 378.9,388.8 379.0,388.9 379.1,389.0 379.2,389.2 379.3,389.3 379.4,389.5 379.5,389.6 379.6,389.8 379.7,389.9 379.8,390.1 379.9,390.2 380.0,390.4 380.1,390.5 380.2,390.6 380.3,390.7 380.4,390.8 380.5,390.8 380.6,390.9 380.7,390.9 380.8,391.0 380.9,391.0 381.0,391.0 381.1,391.0 381.2,391.0 381.3,391.0 381.4,390.9 381.5,390.9 381.6,390.9 381.7,390.9 381.8,390.9 381.9,390.9 382.0,391.0 382.5,390.7 383.0,390.9 383.5,390.8 384.0,391.0 384.5,390.8 385.0,390.6 385.5,390.3 385.6,390.2 385.7,390.1 385.8,390.0 385.9,389.8 386.0,389.5 386.1,389.2 386.2,388.7 386.3,388.0 386.4,387.1 386.5,385.9 386.6,384.4 386.7,382.6 386.8,380.3 386.9,377.4 387.0,373.8 387.1,369.5 387.2,364.6 387.3,360.1 387.4,358.2 387.5,360.1 387.6,364.6 387.7,369.5 387.8,373.8 387.9,377.3 388.0,380.2 388.1,382.5 388.2,384.4 388.3,385.8 388.4,387.0 388.5,387.9 388.6,388.5 388.7,389.0 388.8,389.3 388.9,389.5 389.0,389.7 389.1,389.9 389.2,390.0 389.4,390.2 389.5,390.2 389.6,390.3 389.7,390.3 389.8,390.2 389.9,390.1 390.0,390.0 390.1,389.8 390.2,389.6 390.3,389.3 390.4,388.8 390.5,388.2 390.6,387.4 390.7,386.6 390.8,385.6 390.9,384.7 391.0,383.7 391.1,382.7 391.2,381.8 391.3,381.1 391.4,380.7 391.5,380.5 391.6,380.7 391.7,381.1 391.8,381.9 391.9,382.7 392.0,383.7 392.1,384.7 392.2,385.7 392.3,386.6 392.4,387.5 392.5,388.2 392.6,388.8 392.7,389.3 392.8,389.7 392.9,390.0 393.0,390.2 393.1,390.3 393.2,390.3 393.3,390.4 393.4,390.3 393.5,390.2 393.6,390.1 393.7,389.9 393.8,389.7 393.9,389.3 394.0,388.9 394.1,388.3 394.2,387.6 394.3,386.7 394.4,385.6 394.5,384.3 394.6,382.9 394.7,381.3 394.8,379.5 394.9,377.5 395.0,375.4 395.1,373.1 395.2,370.7 395.3,368.3 395.4,366.4 395.5,365.6 395.6,366.3 395.7,368.2 395.8,370.4 395.9,372.7 396.0,374.9 396.1,376.8 396.2,378.4 396.3,379.9 396.4,381.0 396.5,381.8 396.6,382.2 396.7,382.3 396.8,382.0 396.9,381.3 397.0,380.3 397.1,378.9 397.2,377.3 397.3,375.4 397.4,373.2 397.5,370.8 397.6,368.2 397.7,365.7 397.8,363.6 397.9,362.8 398.0,363.7 398.1,365.8 398.2,368.5 398.3,371.2 398.4,373.8 398.5,376.1 398.6,378.4 398.7,380.4 398.8,382.2 398.9,383.8 399.0,385.2 399.1,386.4 399.2,387.4 399.3,388.3 399.4,389.0 399.5,389.5 399.6,389.9 399.7,390.2 399.8,390.5 399.9,390.7 400.0,390.8 400.1,390.9 400.2,390.9 400.3,391.0 400.5,391.0 401.0,391.0 401.5,390.9 402.0,390.9 402.5,390.9 403.0,391.1 403.3,391.1 403.4,391.2 403.5,391.2 403.6,391.1 403.7,391.1 403.8,391.1 403.9,391.0 404.0,391.0 404.1,391.0 404.2,391.0 404.3,390.9 404.4,390.9 404.5,390.8 404.6,390.3 404.7,389.2 404.8,386.6 404.9,381.2 405.0,372.1 405.1,358.8 405.2,342.1 405.3,323.6 405.4,305.5 405.5,289.5 405.6,276.5 405.7,266.8 405.8,259.9 405.9,254.9 406.0,250.8 406.1,246.7 406.2,242.8 406.3,241.0 406.4,242.8 406.5,246.7 406.6,250.8 406.7,254.9 406.8,259.9 406.9,266.8 407.0,276.5 407.1,289.5 407.2,305.5 407.3,323.7 407.4,342.1 407.5,358.8 407.6,372.1 407.7,381.2 407.8,386.6 407.9,389.2 408.0,390.3 408.1,390.6 408.2,390.7 408.3,390.8 408.4,390.8 408.5,390.8 408.6,390.8 408.7,390.8 408.8,390.8 408.9,390.8 409.0,390.8 409.1,390.9 409.2,390.9 409.3,391.0 409.5,391.0 409.9,391.1 410.0,391.1 410.1,391.1 410.2,391.1 410.3,391.1 410.4,391.0 410.5,391.0 410.6,390.8 410.7,390.6 410.8,390.3 410.9,390.0 411.0,389.5 411.1,389.0 411.2,388.4 411.3,387.7 411.4,387.1 411.5,386.4 411.6,385.7 411.7,385.1 411.8,384.6 411.9,384.3 412.0,384.2 412.1,384.3 412.2,384.6 412.3,385.1 412.4,385.7 412.5,386.4 412.6,387.1 412.7,387.7 412.8,388.4 412.9,389.0 413.0,389.5 413.1,389.9 413.2,390.2 413.3,390.5 413.4,390.7 413.5,390.9 413.6,390.9 413.7,390.9 413.8,390.9 413.9,390.9 414.0,390.9 414.1,390.9 414.5,391.1 415.0,391.3 415.5,391.5 416.0,391.3 416.1,391.2 416.2,391.2 416.3,391.1 416.4,391.1 416.5,390.9 416.6,390.8 416.7,390.5 416.8,390.2 416.9,389.8 417.0,389.3 417.1,388.6 417.2,387.8 417.3,386.9 417.4,385.8 417.5,384.6 417.6,383.2 417.7,381.6 417.8,379.9 417.9,377.9 418.0,375.7 418.1,373.3 418.2,370.8 418.3,368.8 418.4,368.0 418.5,368.8 418.6,370.8 418.7,373.3 418.8,375.7 418.9,377.9 419.0,379.9 419.1,381.7 419.2,383.2 419.3,384.6 419.4,385.9 419.5,386.9 419.6,387.8 419.7,388.6 419.8,389.2 419.9,389.7 420.0,390.1 420.1,390.3 420.2,390.5 420.3,390.6 420.4,390.7 420.5,390.7 420.6,390.8 420.7,390.9 420.8,390.9 421.0,391.0 421.5,391.2 422.0,391.7 422.5,391.5 423.0,391.4 423.5,391.2 424.0,391.4 424.5,391.3 425.0,391.4 425.5,391.3 426.0,391.2 426.5,391.4 427.0,391.8 427.5,391.9 428.0,391.8 428.5,391.5 429.0,391.5 429.5,391.8 430.0,391.7 430.5,391.7 431.0,391.2 431.5,391.4 432.0,391.3 432.5,391.4 433.0,391.2 433.5,391.2 434.0,391.5 434.5,391.7 435.0,391.8 435.5,391.6 436.0,391.9 436.5,391.7 437.0,391.9 437.5,391.7 438.0,391.7 438.5,391.9 439.0,392.2 439.5,392.2 440.0,391.9 440.5,391.5 441.0,391.3 441.5,391.3 442.0,391.5 442.5,391.6 443.0,391.6 443.5,391.6 444.0,391.5 444.5,391.3 445.0,391.4 445.5,391.7 446.0,391.8 446.5,391.8 447.0,391.6 447.5,391.6 448.0,391.2 448.5,391.4 449.0,391.4 449.5,391.8 450.0,391.7 450.5,391.7 451.0,391.6 451.5,391.6 452.0,391.5 452.2,391.4 452.3,391.4 452.4,391.3 452.5,391.2 452.6,391.1 452.7,391.0 452.8,390.8 452.9,390.5 453.0,390.3 453.1,389.9 453.2,389.5 453.3,388.9 453.4,388.3 453.5,387.4 453.6,386.5 453.7,385.3 453.8,384.1 453.9,382.6 454.0,381.0 454.1,379.2 454.2,377.2 454.3,375.0 454.4,372.7 454.5,370.8 454.6,370.1 454.7,370.8 454.8,372.7 454.9,375.0 455.0,377.2 455.1,379.2 455.2,381.0 455.3,382.6 455.4,384.0 455.5,385.3 455.6,386.4 455.7,387.4 455.8,388.3 455.9,389.0 456.0,389.5 456.1,390.0 456.2,390.3 456.3,390.6 456.4,390.8 456.5,391.0 456.6,391.1 456.7,391.2 456.8,391.2 456.9,391.2 457.0,391.2 457.5,391.6 458.0,391.7 458.5,391.6 459.0,391.4 459.5,391.4 459.9,391.3 460.0,391.3 460.1,391.2 460.2,391.1 460.3,391.1 460.4,391.0 460.5,390.9 460.6,390.7 460.7,390.5 460.8,390.3 460.9,390.1 461.0,389.8 461.1,389.5 461.2,389.2 461.3,388.7 461.4,388.2 461.5,387.6 461.6,386.8 461.7,386.1 461.8,385.3 461.9,384.5 462.0,383.6 462.1,382.9 462.2,382.1 462.3,381.5 462.4,381.0 462.5,380.7 462.6,380.6 462.7,380.7 462.8,381.0 462.9,381.5 463.0,382.1 463.1,382.9 463.2,383.7 463.3,384.5 463.4,385.3 463.5,386.1 463.6,386.8 463.7,387.5 463.8,388.1 463.9,388.6 464.0,389.0 464.1,389.4 464.2,389.8 464.3,390.1 464.4,390.3 464.5,390.5 464.6,390.7 464.7,390.8 464.8,391.0 464.9,391.1 465.0,391.2 465.1,391.2 465.2,391.2 465.3,391.3 465.5,391.3 466.0,391.4 466.5,391.6 467.0,391.6 467.5,391.7 468.0,391.3 468.5,391.5 468.7,391.5 468.8,391.4 468.9,391.4 469.0,391.4 469.1,391.5 469.2,391.5 469.3,391.6 469.4,391.6 469.5,391.6 469.6,391.6 469.7,391.5 469.8,391.4 469.9,391.3 470.0,391.2 470.1,391.1 470.2,390.9 470.3,390.8 470.4,390.6 470.5,390.5 470.6,390.2 470.7,390.0 470.8,389.8 470.9,389.6 471.0,389.3 471.1,389.1 471.2,388.9 471.3,388.7 471.4,388.5 471.5,388.4 471.6,388.3 471.7,388.3 471.8,388.3 471.9,388.4 472.0,388.5 472.1,388.7 472.2,388.8 472.3,389.0 472.4,389.2 472.5,389.4 472.6,389.6 472.7,389.8 472.8,390.0 472.9,390.2 473.0,390.4 473.1,390.5 473.2,390.7 473.3,390.8 473.4,390.9 473.5,391.0 473.6,391.1 473.7,391.2 473.8,391.3 473.9,391.4 474.0,391.5 474.1,391.6 474.2,391.7 474.3,391.8 474.4,391.9 474.5,392.0 474.6,392.0 474.7,392.1 475.0,392.1 475.5,392.2 476.0,391.9 476.5,391.7 477.0,391.5 477.5,391.3 478.0,391.5 478.5,391.4 479.0,391.6 479.5,391.3 480.0,391.5 480.5,391.8 481.0,391.8 481.5,391.8 482.0,391.6 482.5,391.5 483.0,391.5 483.5,391.5 484.0,391.4 484.5,391.5 485.0,391.3 485.5,391.6 486.0,391.3 486.5,391.4 487.0,391.2 487.5,391.5 488.0,391.4 488.5,391.5 489.0,391.6 489.5,391.6 490.0,391.6 490.5,391.5 491.0,391.4 491.5,391.4 491.8,391.2 491.9,391.2 492.0,391.1 492.1,391.0 492.2,391.0 492.3,390.9 492.4,390.7 492.5,390.5 492.6,390.3 492.7,389.9 492.8,389.5 492.9,388.9 493.0,388.2 493.1,387.4 493.2,386.5 493.3,385.4 493.4,384.1 493.5,382.6 493.6,381.0 493.7,379.2 493.8,377.2 493.9,374.9 494.0,372.4 494.1,369.7 494.2,366.6 494.3,363.3 494.4,360.7 494.5,359.6 494.6,360.7 494.7,363.3 494.8,366.6 494.9,369.7 495.0,372.4 495.1,374.9 495.2,377.2 495.3,379.2 495.4,381.0 495.5,382.6 495.6,384.1 495.7,385.4 495.8,386.5 495.9,387.4 496.0,388.2 496.1,388.8 496.2,389.3 496.3,389.7 496.4,390.1 496.5,390.3 496.6,390.6 496.7,390.7 496.8,390.9 496.9,391.0 497.0,391.1 497.1,391.2 497.2,391.3 497.5,391.5 498.0,391.4 498.5,391.4 499.0,391.4 499.5,391.7 500.0,391.8 500.5,391.8 501.0,391.9 501.5,391.9 502.0,391.7 502.5,391.9 503.0,392.0 503.5,391.9 504.0,391.7 504.5,391.4 505.0,391.7 505.5,391.7 506.0,391.8 506.5,391.6 507.0,391.3 507.5,391.4 508.0,391.4 508.5,391.6 509.0,391.6 509.5,391.6 510.0,391.5 510.5,391.3 511.0,391.2 511.5,391.6 512.0,391.7 512.5,391.8 513.0,391.6 513.5,391.2 514.0,391.2 514.5,391.1 515.0,391.3 515.5,391.4 516.0,391.1 516.5,391.1 517.0,391.1 517.5,391.0 517.7,390.9 517.8,390.8 517.9,390.7 518.0,390.6 518.1,390.6 518.2,390.5 518.3,390.4 518.4,390.3 518.5,390.2 518.6,390.1 518.7,390.1 518.8,390.0 518.9,389.9 519.0,389.7 519.1,389.5 519.2,389.2 519.3,389.0 519.4,388.6 519.5,388.2 519.6,387.8 519.7,387.3 519.8,386.8 519.9,386.2 520.0,385.5 520.1,384.8 520.2,384.0 520.3,383.2 520.4,382.4 520.5,381.5 520.6,380.7 520.7,379.8 520.8,379.0 520.9,378.2 521.0,377.5 521.1,377.0 521.2,376.7 521.3,376.6 521.4,376.7 521.5,377.0 521.6,377.5 521.7,378.2 521.8,379.0 521.9,379.8 522.0,380.7 522.1,381.5 522.2,382.4 522.3,383.2 522.4,384.0 522.5,384.8 522.6,385.5 522.7,386.2 522.8,386.8 522.9,387.2 523.0,387.6 523.1,388.0 523.2,388.4 523.3,388.7 523.4,389.0 523.5,389.3 523.6,389.6 523.7,389.8 523.8,390.0 523.9,390.1 524.0,390.3 524.1,390.5 524.2,390.7 524.3,390.9 524.4,391.0 524.5,391.2 524.6,391.2 524.7,391.2 524.8,391.1 524.9,391.1 525.0,391.1 525.5,391.2 526.0,391.1 526.5,391.3 527.0,391.4 527.5,391.4 528.0,391.4 528.5,391.1 529.0,390.9 529.5,391.2 530.0,391.6 530.5,391.9 531.0,391.7 531.5,391.5 532.0,391.2 532.5,391.4 533.0,391.4 533.5,391.5 534.0,391.7 534.2,391.6 534.3,391.6 534.4,391.6 534.5,391.5 534.6,391.5 534.7,391.5 534.8,391.5 534.9,391.5 535.0,391.4 535.1,391.3 535.2,391.2 535.3,391.1 535.4,391.0 535.5,390.8 535.6,390.8 535.7,390.8 535.8,390.7 535.9,390.6 536.0,390.5 536.1,390.4 536.2,390.2 536.3,390.0 536.4,389.8 536.5,389.6 536.6,389.4 536.7,389.2 536.8,388.9 536.9,388.7 537.0,388.5 537.1,388.3 537.2,388.0 537.3,387.8 537.4,387.6 537.5,387.5 537.6,387.4 537.7,387.3 537.8,387.3 537.9,387.3 538.0,387.4 538.1,387.5 538.2,387.7 538.3,387.8 538.4,388.0 538.5,388.3 538.6,388.5 538.7,388.7 538.8,388.9 538.9,389.2 539.0,389.4 539.1,389.6 539.2,389.7 539.3,389.8 539.4,390.0 539.5,390.0 539.6,390.2 539.7,390.3 539.8,390.4 539.9,390.5 540.0,390.6 540.1,390.6 540.2,390.7 540.3,390.7 540.4,390.7 540.5,390.7 540.6,390.8 540.7,390.8 540.8,390.8 540.9,390.8 541.0,390.8 541.1,390.8 541.2,390.8 541.3,390.7 541.4,390.7 541.5,390.7 541.6,390.7 541.7,390.7 541.8,390.6 541.9,390.6 542.0,390.5 542.1,390.4 542.2,390.3 542.3,390.2 542.4,390.0 542.5,389.8 542.6,389.6 542.7,389.3 542.8,388.9 542.9,388.5 543.0,388.1 543.1,387.5 543.2,386.9 543.3,386.2 543.4,385.5 543.5,384.6 543.6,383.8 543.7,382.8 543.8,381.8 543.9,380.8 544.0,379.9 544.1,379.0 544.2,378.2 544.3,377.5 544.4,377.1 544.5,377.0 544.6,377.1 544.7,377.5 544.8,378.1 544.9,378.9 545.0,379.8 545.1,380.8 545.2,381.8 545.3,382.7 545.4,383.7 545.5,384.6 545.6,385.4 545.7,386.1 545.8,386.8 545.9,387.4 546.0,388.0 546.1,388.4 546.2,388.8 546.3,389.1 546.4,389.3 546.5,389.5 546.6,389.7 546.7,389.8 546.8,389.9 546.9,390.0 547.0,390.1 547.1,390.1 547.2,390.2 547.3,390.1 547.4,390.1 547.5,390.0 547.6,390.0 547.7,389.9 547.8,389.9 547.9,389.7 548.0,389.5 548.1,389.2 548.2,388.9 548.3,388.5 548.4,388.0 548.5,387.5 548.6,386.9 548.7,386.2 548.8,385.4 548.9,384.6 549.0,383.7 549.1,382.8 549.2,381.8 549.3,380.9 549.4,380.1 549.5,379.5 549.6,379.0 549.7,378.9 549.8,379.1 549.9,379.5 550.0,380.2 550.1,381.0 550.2,381.9 550.3,382.9 550.4,383.8 550.5,384.7 550.6,385.6 550.7,386.4 550.8,387.1 550.9,387.7 551.0,388.2 551.1,388.7 551.2,389.1 551.3,389.4 551.4,389.7 551.5,389.9 551.6,390.1 551.7,390.2 551.8,390.4 551.9,390.5 552.0,390.6 552.1,390.7 552.2,390.7 552.3,390.8 552.4,390.9 552.5,390.9 553.0,390.9 553.3,391.0 553.4,391.0 553.5,391.0 553.6,391.0 553.7,390.9 553.8,390.9 553.9,390.9 554.0,390.8 554.1,390.9 554.2,390.9 554.3,390.9 554.4,390.9 554.5,390.9 554.6,390.8 554.7,390.7 554.8,390.6 554.9,390.5 555.0,390.4 555.1,390.3 555.2,390.2 555.3,390.1 555.4,390.0 555.5,389.9 555.6,389.8 555.7,389.6 555.8,389.5 555.9,389.4 556.0,389.2 556.1,389.1 556.2,389.0 556.3,389.0 556.4,388.9 556.5,388.9 556.6,388.9 556.7,388.9 556.8,388.9 556.9,389.0 557.0,389.1 557.1,389.3 557.2,389.4 557.3,389.6 557.4,389.8 557.5,390.0 557.6,390.1 557.7,390.2 557.8,390.3 557.9,390.5 558.0,390.6 558.1,390.7 558.2,390.9 558.3,391.0 558.4,391.1 558.5,391.2 558.6,391.3 558.7,391.4 558.8,391.4 558.9,391.4 559.0,391.5 559.1,391.5 559.2,391.5 559.3,391.5 559.4,391.5 559.5,391.5 559.6,391.5 559.7,391.6 559.8,391.6 559.9,391.6 560.0,391.6 560.5,391.8 561.0,391.9 561.5,391.9 562.0,391.6" fill="none" stroke="#151515" stroke-width="0.95" stroke-linejoin="round"/>
<path d="M330.0,391.2 330.5,391.0 331.0,390.8 331.5,390.6 332.0,390.8 332.5,390.6 333.0,390.7 333.5,390.8 334.0,391.2 334.5,391.2 335.0,391.2 335.5,390.8 336.0,391.1 336.5,390.8 337.0,391.1 337.5,390.8 338.0,390.9 338.5,390.6 339.0,390.6 339.5,390.7 340.0,390.8 340.5,391.1 341.0,390.7 341.5,390.7 341.6,390.6 341.7,390.6 341.8,390.6 341.9,390.6 342.0,390.6 342.1,390.6 342.2,390.6 342.3,390.6 342.4,390.6 342.5,390.6 342.6,390.6 342.7,390.6 342.8,390.6 342.9,390.6 343.0,390.6 343.1,390.6 343.2,390.6 343.3,390.6 343.4,390.6 343.5,390.6 343.6,390.6 343.7,390.6 343.8,390.6 343.9,390.6 344.0,390.6 344.1,390.6 344.2,390.6 344.3,390.6 344.4,390.6 344.5,390.6 344.6,390.6 344.7,390.6 344.8,390.6 344.9,390.6 345.0,390.6 345.1,390.6 345.2,390.6 345.3,390.6 345.4,390.6 345.5,390.6 345.6,390.6 345.7,390.6 345.8,390.6 345.9,390.6 346.0,390.6 346.1,390.6 346.2,390.6 346.3,390.6 346.4,390.6 346.5,390.6 346.6,390.6 346.7,390.6 346.8,390.6 346.9,390.6 347.0,390.6 347.1,390.6 347.2,390.6 347.3,390.6 347.4,390.6 347.5,390.6 347.6,390.6 347.7,390.6 347.8,390.6 347.9,390.6 348.0,390.6 348.1,390.6 348.2,390.6 348.3,390.6 348.4,390.6 348.5,390.6 348.6,390.6 348.7,390.6 348.8,390.6 348.9,390.6 349.0,390.6 349.1,390.6 349.2,390.7 349.3,390.7 349.4,390.7 349.5,390.7 349.6,390.7 349.7,390.7 349.8,390.7 349.9,390.7 350.0,390.7 350.1,390.7 350.2,390.7 350.3,390.7 350.4,390.7 350.5,390.7 350.6,390.7 350.7,390.7 350.8,390.7 350.9,390.7 351.0,390.7 351.1,390.7 351.2,390.7 351.3,390.7 351.4,390.7 351.5,390.7 351.6,390.7 351.7,390.7 351.8,390.7 351.9,390.7 352.0,390.7 352.1,390.7 352.2,390.7 352.3,390.7 352.4,390.7 352.5,390.7 352.6,390.7 352.7,390.7 352.8,390.7 352.9,390.7 353.0,390.7 353.1,390.7 353.2,390.7 353.3,390.7 353.4,390.7 353.5,390.7 353.6,390.7 353.7,390.7 353.8,390.7 353.9,390.7 354.0,390.7 354.1,390.7 354.2,390.7 354.5,390.7 354.6,390.7 354.7,390.7 354.8,390.7 354.9,390.7 355.0,390.7 355.1,390.7 355.2,390.7 355.3,390.7 355.4,390.7 355.5,390.7 355.6,390.7 355.7,390.7 355.8,390.7 355.9,390.7 356.0,390.7 356.1,390.7 356.2,390.7 356.3,390.7 356.4,390.7 356.5,390.7 356.6,390.7 356.7,390.7 356.8,390.7 356.9,390.7 357.0,390.7 357.1,390.7 357.2,390.7 357.3,390.7 357.4,390.7 357.5,390.8 357.6,390.8 357.7,390.8 357.8,390.8 357.9,390.8 358.0,390.8 358.1,390.8 358.2,390.8 358.3,390.8 358.4,390.8 358.5,390.8 358.6,390.8 358.7,390.8 358.8,390.8 358.9,390.8 359.0,390.8 359.1,390.8 359.2,390.8 359.3,390.8 359.4,390.8 359.5,390.8 359.6,390.8 359.7,390.8 359.8,390.8 359.9,390.8 360.0,390.8 360.1,390.8 360.2,390.8 360.3,390.8 360.4,390.8 360.5,390.8 360.6,390.8 360.7,390.8 360.8,390.8 360.9,390.8 361.0,390.8 361.1,390.8 361.2,390.8 361.3,390.8 361.4,390.8 361.5,390.8 361.6,390.8 361.7,390.8 361.8,390.8 361.9,390.8 362.0,390.8 362.1,390.8 362.2,390.8 362.3,390.8 362.5,390.8 363.0,390.8 363.5,390.8 364.0,390.8 364.5,390.9 365.0,390.9 365.5,391.0 366.0,391.4 366.5,391.1 367.0,391.1 367.5,390.9 368.0,390.9 368.5,390.9 369.0,390.9 369.5,391.2 370.0,391.7 370.5,391.5 371.0,391.6 371.5,391.2 372.0,391.3 372.5,391.0 373.0,390.9 373.5,390.9 374.0,391.0 374.5,391.0 375.0,391.0 375.3,391.2 375.4,391.3 375.5,391.3 375.6,391.3 375.7,391.3 375.8,391.3 375.9,391.3 376.0,391.3 376.1,391.3 376.2,391.3 376.3,391.3 376.4,391.3 376.5,391.3 376.6,391.2 376.7,391.2 376.8,391.1 376.9,391.0 377.0,391.0 377.1,391.0 377.2,391.0 377.3,391.0 377.4,391.0 377.5,391.0 377.6,391.0 377.7,391.0 377.8,391.0 377.9,391.0 378.0,391.0 378.1,391.0 378.2,391.0 378.3,391.0 378.4,391.0 378.5,391.0 378.6,391.0 378.7,391.0 378.8,391.0 378.9,391.0 379.0,391.0 379.1,391.0 379.2,391.0 379.3,391.0 379.4,391.0 379.5,391.0 379.6,391.0 379.7,391.0 379.8,391.0 379.9,391.0 380.0,391.0 380.1,391.0 380.2,391.0 380.3,391.1 380.4,391.2 380.5,391.2 380.6,391.3 380.7,391.3 380.8,391.4 380.9,391.4 381.0,391.4 381.1,391.4 381.2,391.4 381.3,391.4 381.4,391.3 381.5,391.3 381.6,391.3 381.7,391.3 381.8,391.3 381.9,391.3 382.0,391.4 382.5,391.1 383.0,391.3 383.5,391.2 384.0,391.4 384.5,391.2 385.0,391.1 385.5,391.1 385.6,391.1 385.7,391.1 385.8,391.1 385.9,391.1 386.0,391.1 386.1,391.1 386.2,391.1 386.3,391.1 386.4,391.1 386.5,391.1 386.6,391.1 386.7,391.1 386.8,391.1 386.9,391.1 387.0,391.1 387.1,391.1 387.2,391.1 387.3,391.1 387.4,391.1 387.5,391.1 387.6,391.1 387.7,391.1 387.8,391.1 387.9,391.1 388.0,391.1 388.1,391.1 388.2,391.1 388.3,391.1 388.4,391.1 388.5,391.1 388.6,391.1 388.7,391.1 388.8,391.2 388.9,391.2 389.0,391.2 389.1,391.2 389.2,391.2 389.4,391.2 389.5,391.2 389.6,391.2 389.7,391.2 389.8,391.2 389.9,391.2 390.0,391.2 390.1,391.2 390.2,391.2 390.3,391.2 390.4,391.2 390.5,391.2 390.6,391.2 390.7,391.2 390.8,391.2 390.9,391.2 391.0,391.2 391.1,391.2 391.2,391.2 391.3,391.2 391.4,391.2 391.5,391.2 391.6,391.2 391.7,391.2 391.8,391.2 391.9,391.2 392.0,391.2 392.1,391.2 392.2,391.2 392.3,391.2 392.4,391.2 392.5,391.2 392.6,391.2 392.7,391.2 392.8,391.2 392.9,391.2 393.0,391.2 393.1,391.2 393.2,391.2 393.3,391.2 393.4,391.2 393.5,391.2 393.6,391.2 393.7,391.2 393.8,391.2 393.9,391.2 394.0,391.2 394.1,391.2 394.2,391.2 394.3,391.2 394.4,391.2 394.5,391.2 394.6,391.2 394.7,391.2 394.8,391.2 394.9,391.2 395.0,391.2 395.1,391.2 395.2,391.2 395.3,391.2 395.4,391.2 395.5,391.2 395.6,391.2 395.7,391.2 395.8,391.2 395.9,391.2 396.0,391.2 396.1,391.2 396.2,391.2 396.3,391.3 396.4,391.3 396.5,391.3 396.6,391.3 396.7,391.3 396.8,391.3 396.9,391.3 397.0,391.3 397.1,391.3 397.2,391.3 397.3,391.3 397.4,391.3 397.5,391.3 397.6,391.3 397.7,391.3 397.8,391.3 397.9,391.3 398.0,391.3 398.1,391.3 398.2,391.3 398.3,391.3 398.4,391.3 398.5,391.3 398.6,391.3 398.7,391.3 398.8,391.3 398.9,391.3 399.0,391.3 399.1,391.3 399.2,391.3 399.3,391.3 399.4,391.3 399.5,391.3 399.6,391.3 399.7,391.3 399.8,391.3 399.9,391.3 400.0,391.3 400.1,391.3 400.2,391.3 400.3,391.4 400.5,391.4 401.0,391.4 401.5,391.3 402.0,391.3 402.5,391.3 403.0,391.5 403.3,391.5 403.4,391.6 403.5,391.6 403.6,391.5 403.7,391.5 403.8,391.5 403.9,391.4 404.0,391.4 404.1,391.4 404.2,391.4 404.3,391.3 404.4,391.3 404.5,391.3 404.6,391.3 404.7,391.3 404.8,391.3 404.9,391.3 405.0,391.4 405.1,391.4 405.2,391.4 405.3,391.4 405.4,391.4 405.5,391.4 405.6,391.4 405.7,391.4 405.8,391.4 405.9,391.4 406.0,391.4 406.1,391.4 406.2,391.4 406.3,391.4 406.4,391.4 406.5,391.4 406.6,391.4 406.7,391.4 406.8,391.4 406.9,391.4 407.0,391.4 407.1,391.4 407.2,391.4 407.3,391.4 407.4,391.4 407.5,391.4 407.6,391.4 407.7,391.4 407.8,391.4 407.9,391.4 408.0,391.4 408.1,391.4 408.2,391.4 408.3,391.4 408.4,391.4 408.5,391.4 408.6,391.4 408.7,391.4 408.8,391.4 408.9,391.4 409.0,391.4 409.1,391.4 409.2,391.4 409.3,391.4 409.5,391.4 409.9,391.5 410.0,391.5 410.1,391.5 410.2,391.5 410.3,391.5 410.4,391.4 410.5,391.4 410.6,391.4 410.7,391.4 410.8,391.4 410.9,391.4 411.0,391.4 411.1,391.4 411.2,391.4 411.3,391.4 411.4,391.4 411.5,391.4 411.6,391.4 411.7,391.4 411.8,391.4 411.9,391.4 412.0,391.4 412.1,391.4 412.2,391.4 412.3,391.4 412.4,391.4 412.5,391.4 412.6,391.4 412.7,391.4 412.8,391.4 412.9,391.4 413.0,391.4 413.1,391.4 413.2,391.4 413.3,391.4 413.4,391.4 413.5,391.4 413.6,391.4 413.7,391.4 413.8,391.4 413.9,391.4 414.0,391.4 414.1,391.4 414.5,391.5 415.0,391.7 415.5,391.9 416.0,391.7 416.1,391.6 416.2,391.6 416.3,391.5 416.4,391.5 416.5,391.5 416.6,391.5 416.7,391.5 416.8,391.5 416.9,391.5 417.0,391.5 417.1,391.5 417.2,391.5 417.3,391.5 417.4,391.5 417.5,391.5 417.6,391.5 417.7,391.5 417.8,391.5 417.9,391.5 418.0,391.5 418.1,391.5 418.2,391.5 418.3,391.5 418.4,391.5 418.5,391.5 418.6,391.5 418.7,391.5 418.8,391.5 418.9,391.5 419.0,391.5 419.1,391.5 419.2,391.5 419.3,391.5 419.4,391.5 419.5,391.5 419.6,391.5 419.7,391.5 419.8,391.5 419.9,391.5 420.0,391.5 420.1,391.5 420.2,391.5 420.3,391.5 420.4,391.5 420.5,391.5 420.6,391.5 420.7,391.5 420.8,391.5 421.0,391.5 421.5,391.6 422.0,392.1 422.5,391.9 423.0,391.8 423.5,391.6 424.0,391.8 424.5,391.7 425.0,391.8 425.5,391.7 426.0,391.6 426.5,391.8 427.0,392.2 427.5,392.3 428.0,392.2 428.5,391.9 429.0,391.9 429.5,392.2 430.0,392.1 430.5,392.1 431.0,391.6 431.5,391.8 432.0,391.7 432.5,391.8 433.0,391.6 433.5,391.6 434.0,391.9 434.5,392.1 435.0,392.2 435.5,392.0 436.0,392.3 436.5,392.1 437.0,392.3 437.5,392.1 438.0,392.1 438.5,392.3 439.0,392.6 439.5,392.6 440.0,392.3 440.5,391.9 441.0,391.7 441.5,391.7 442.0,391.9 442.5,392.0 443.0,392.0 443.5,392.0 444.0,391.9 444.5,391.7 445.0,391.8 445.5,392.1 446.0,392.2 446.5,392.2 447.0,392.0 447.5,392.0 448.0,391.6 448.5,391.8 449.0,391.8 449.5,392.2 450.0,392.1 450.5,392.1 451.0,392.0 451.5,392.0 452.0,391.9 452.2,391.8 452.3,391.8 452.4,391.7 452.5,391.6 452.6,391.6 452.7,391.6 452.8,391.6 452.9,391.6 453.0,391.6 453.1,391.6 453.2,391.6 453.3,391.6 453.4,391.6 453.5,391.6 453.6,391.6 453.7,391.6 453.8,391.6 453.9,391.6 454.0,391.6 454.1,391.6 454.2,391.6 454.3,391.6 454.4,391.6 454.5,391.6 454.6,391.6 454.7,391.6 454.8,391.6 454.9,391.6 455.0,391.6 455.1,391.6 455.2,391.6 455.3,391.6 455.4,391.6 455.5,391.6 455.6,391.6 455.7,391.6 455.8,391.6 455.9,391.6 456.0,391.6 456.1,391.6 456.2,391.6 456.3,391.6 456.4,391.6 456.5,391.6 456.6,391.6 456.7,391.6 456.8,391.6 456.9,391.6 457.0,391.6 457.5,392.0 458.0,392.1 458.5,392.0 459.0,391.8 459.5,391.8 459.9,391.7 460.0,391.7 460.1,391.6 460.2,391.6 460.3,391.6 460.4,391.6 460.5,391.6 460.6,391.6 460.7,391.6 460.8,391.6 460.9,391.6 461.0,391.6 461.1,391.6 461.2,391.6 461.3,391.6 461.4,391.6 461.5,391.6 461.6,391.6 461.7,391.6 461.8,391.6 461.9,391.6 462.0,391.6 462.1,391.6 462.2,391.6 462.3,391.6 462.4,391.6 462.5,391.6 462.6,391.6 462.7,391.6 462.8,391.6 462.9,391.6 463.0,391.6 463.1,391.6 463.2,391.6 463.3,391.6 463.4,391.6 463.5,391.6 463.6,391.6 463.7,391.6 463.8,391.6 463.9,391.6 464.0,391.6 464.1,391.6 464.2,391.6 464.3,391.6 464.4,391.6 464.5,391.6 464.6,391.6 464.7,391.6 464.8,391.6 464.9,391.6 465.0,391.6 465.1,391.6 465.2,391.6 465.3,391.7 465.5,391.7 466.0,391.8 466.5,392.0 467.0,392.0 467.5,392.1 468.0,391.7 468.5,391.9 468.7,391.9 468.8,391.8 468.9,391.8 469.0,391.8 469.1,391.9 469.2,391.9 469.3,392.0 469.4,392.0 469.5,392.0 469.6,392.0 469.7,391.9 469.8,391.8 469.9,391.7 470.0,391.6 470.1,391.6 470.2,391.6 470.3,391.6 470.4,391.6 470.5,391.6 470.6,391.6 470.7,391.6 470.8,391.6 470.9,391.6 471.0,391.6 471.1,391.6 471.2,391.6 471.3,391.6 471.4,391.6 471.5,391.6 471.6,391.6 471.7,391.6 471.8,391.6 471.9,391.6 472.0,391.6 472.1,391.6 472.2,391.6 472.3,391.6 472.4,391.6 472.5,391.6 472.6,391.6 472.7,391.6 472.8,391.6 472.9,391.6 473.0,391.6 473.1,391.6 473.2,391.6 473.3,391.6 473.4,391.6 473.5,391.6 473.6,391.6 473.7,391.6 473.8,391.7 473.9,391.8 474.0,391.9 474.1,392.0 474.2,392.1 474.3,392.2 474.4,392.3 474.5,392.4 474.6,392.4 474.7,392.5 475.0,392.5 475.5,392.6 476.0,392.3 476.5,392.1 477.0,391.9 477.5,391.7 478.0,391.9 478.5,391.8 479.0,392.0 479.5,391.7 480.0,391.9 480.5,392.2 481.0,392.2 481.5,392.2 482.0,392.0 482.5,391.9 483.0,391.9 483.5,391.9 484.0,391.8 484.5,391.9 485.0,391.7 485.5,392.0 486.0,391.7 486.5,391.8 487.0,391.6 487.5,391.9 488.0,391.8 488.5,391.9 489.0,392.0 489.5,392.0 490.0,392.0 490.5,391.9 491.0,391.8 491.5,391.8 491.8,391.6 491.9,391.6 492.0,391.6 492.1,391.6 492.2,391.6 492.3,391.6 492.4,391.6 492.5,391.6 492.6,391.6 492.7,391.6 492.8,391.6 492.9,391.6 493.0,391.6 493.1,391.6 493.2,391.6 493.3,391.6 493.4,391.6 493.5,391.6 493.6,391.6 493.7,391.6 493.8,391.6 493.9,391.6 494.0,391.6 494.1,391.6 494.2,391.6 494.3,391.6 494.4,391.6 494.5,391.6 494.6,391.6 494.7,391.6 494.8,391.6 494.9,391.6 495.0,391.6 495.1,391.6 495.2,391.6 495.3,391.6 495.4,391.6 495.5,391.6 495.6,391.6 495.7,391.6 495.8,391.6 495.9,391.6 496.0,391.6 496.1,391.7 496.2,391.7 496.3,391.7 496.4,391.7 496.5,391.7 496.6,391.7 496.7,391.7 496.8,391.7 496.9,391.7 497.0,391.7 497.1,391.7 497.2,391.7 497.5,391.9 498.0,391.8 498.5,391.8 499.0,391.8 499.5,392.1 500.0,392.2 500.5,392.2 501.0,392.3 501.5,392.3 502.0,392.1 502.5,392.3 503.0,392.4 503.5,392.3 504.0,392.1 504.5,391.8 505.0,392.1 505.5,392.1 506.0,392.2 506.5,392.0 507.0,391.7 507.5,391.8 508.0,391.8 508.5,392.0 509.0,392.0 509.5,392.0 510.0,391.9 510.5,391.7 511.0,391.7 511.5,392.0 512.0,392.1 512.5,392.2 513.0,392.0 513.5,391.7 514.0,391.7 514.5,391.7 515.0,391.7 515.5,391.8 516.0,391.7 516.5,391.7 517.0,391.7 517.5,391.7 517.7,391.7 517.8,391.7 517.9,391.7 518.0,391.7 518.1,391.7 518.2,391.7 518.3,391.7 518.4,391.7 518.5,391.7 518.6,391.7 518.7,391.7 518.8,391.7 518.9,391.7 519.0,391.7 519.1,391.7 519.2,391.7 519.3,391.7 519.4,391.7 519.5,391.7 519.6,391.7 519.7,391.7 519.8,391.7 519.9,391.7 520.0,391.7 520.1,391.7 520.2,391.7 520.3,391.7 520.4,391.7 520.5,391.7 520.6,391.7 520.7,391.7 520.8,391.7 520.9,391.7 521.0,391.7 521.1,391.7 521.2,391.7 521.3,391.7 521.4,391.7 521.5,391.7 521.6,391.7 521.7,391.7 521.8,391.7 521.9,391.7 522.0,391.7 522.1,391.7 522.2,391.7 522.3,391.7 522.4,391.7 522.5,391.7 522.6,391.7 522.7,391.7 522.8,391.7 522.9,391.7 523.0,391.7 523.1,391.7 523.2,391.7 523.3,391.7 523.4,391.7 523.5,391.7 523.6,391.7 523.7,391.7 523.8,391.7 523.9,391.7 524.0,391.7 524.1,391.7 524.2,391.7 524.3,391.7 524.4,391.7 524.5,391.7 524.6,391.7 524.7,391.7 524.8,391.7 524.9,391.7 525.0,391.7 525.5,391.7 526.0,391.7 526.5,391.7 527.0,391.8 527.5,391.8 528.0,391.8 528.5,391.7 529.0,391.7 529.5,391.7 530.0,392.0 530.5,392.3 531.0,392.1 531.5,391.9 532.0,391.7 532.5,391.8 533.0,391.8 533.5,391.9 534.0,392.1 534.2,392.0 534.3,392.0 534.4,392.0 534.5,391.9 534.6,391.9 534.7,391.9 534.8,391.9 534.9,391.9 535.0,391.8 535.1,391.7 535.2,391.7 535.3,391.7 535.4,391.7 535.5,391.7 535.6,391.7 535.7,391.7 535.8,391.7 535.9,391.7 536.0,391.7 536.1,391.7 536.2,391.7 536.3,391.7 536.4,391.7 536.5,391.7 536.6,391.7 536.7,391.7 536.8,391.7 536.9,391.7 537.0,391.7 537.1,391.7 537.2,391.7 537.3,391.7 537.4,391.7 537.5,391.7 537.6,391.7 537.7,391.7 537.8,391.7 537.9,391.7 538.0,391.7 538.1,391.7 538.2,391.7 538.3,391.7 538.4,391.7 538.5,391.7 538.6,391.7 538.7,391.7 538.8,391.7 538.9,391.7 539.0,391.7 539.1,391.7 539.2,391.7 539.3,391.7 539.4,391.7 539.5,391.7 539.6,391.7 539.7,391.7 539.8,391.7 539.9,391.7 540.0,391.7 540.1,391.7 540.2,391.7 540.3,391.7 540.4,391.7 540.5,391.7 540.6,391.7 540.7,391.7 540.8,391.7 540.9,391.7 541.0,391.7 541.1,391.7 541.2,391.7 541.3,391.7 541.4,391.7 541.5,391.7 541.6,391.7 541.7,391.7 541.8,391.7 541.9,391.7 542.0,391.7 542.1,391.7 542.2,391.7 542.3,391.7 542.4,391.7 542.5,391.7 542.6,391.7 542.7,391.7 542.8,391.7 542.9,391.7 543.0,391.7 543.1,391.7 543.2,391.7 543.3,391.7 543.4,391.7 543.5,391.7 543.6,391.7 543.7,391.7 543.8,391.7 543.9,391.7 544.0,391.7 544.1,391.7 544.2,391.7 544.3,391.7 544.4,391.7 544.5,391.7 544.6,391.7 544.7,391.7 544.8,391.7 544.9,391.7 545.0,391.7 545.1,391.7 545.2,391.7 545.3,391.7 545.4,391.7 545.5,391.7 545.6,391.7 545.7,391.7 545.8,391.7 545.9,391.7 546.0,391.7 546.1,391.7 546.2,391.7 546.3,391.7 546.4,391.7 546.5,391.7 546.6,391.7 546.7,391.7 546.8,391.7 546.9,391.7 547.0,391.7 547.1,391.7 547.2,391.7 547.3,391.7 547.4,391.7 547.5,391.7 547.6,391.7 547.7,391.7 547.8,391.7 547.9,391.7 548.0,391.7 548.1,391.7 548.2,391.7 548.3,391.7 548.4,391.7 548.5,391.7 548.6,391.7 548.7,391.7 548.8,391.7 548.9,391.7 549.0,391.7 549.1,391.7 549.2,391.7 549.3,391.7 549.4,391.7 549.5,391.7 549.6,391.7 549.7,391.7 549.8,391.7 549.9,391.7 550.0,391.7 550.1,391.7 550.2,391.7 550.3,391.7 550.4,391.7 550.5,391.7 550.6,391.7 550.7,391.7 550.8,391.7 550.9,391.7 551.0,391.7 551.1,391.7 551.2,391.7 551.3,391.7 551.4,391.7 551.5,391.7 551.6,391.7 551.7,391.7 551.8,391.7 551.9,391.7 552.0,391.7 552.1,391.7 552.2,391.7 552.3,391.7 552.4,391.7 552.5,391.7 553.0,391.7 553.3,391.7 553.4,391.7 553.5,391.7 553.6,391.7 553.7,391.7 553.8,391.7 553.9,391.7 554.0,391.7 554.1,391.7 554.2,391.7 554.3,391.7 554.4,391.7 554.5,391.7 554.6,391.7 554.7,391.7 554.8,391.7 554.9,391.7 555.0,391.7 555.1,391.7 555.2,391.7 555.3,391.7 555.4,391.7 555.5,391.7 555.6,391.7 555.7,391.7 555.8,391.7 555.9,391.7 556.0,391.7 556.1,391.7 556.2,391.7 556.3,391.7 556.4,391.7 556.5,391.7 556.6,391.7 556.7,391.7 556.8,391.7 556.9,391.7 557.0,391.7 557.1,391.7 557.2,391.7 557.3,391.7 557.4,391.7 557.5,391.7 557.6,391.7 557.7,391.7 557.8,391.7 557.9,391.7 558.0,391.7 558.1,391.7 558.2,391.7 558.3,391.7 558.4,391.7 558.5,391.7 558.6,391.7 558.7,391.8 558.8,391.8 558.9,391.8 559.0,391.9 559.1,391.9 559.2,391.9 559.3,391.9 559.4,391.9 559.5,391.9 559.6,391.9 559.7,392.0 559.8,392.0 559.9,392.0 560.0,392.0 560.5,392.2 561.0,392.3 561.5,392.3 562.0,392.0" fill="none" stroke="#151515" stroke-width="1.6" stroke-linejoin="round"/>
<text transform="translate(335.64,377.40) scale(0.854,1)" style="font-family:'Liberation Sans', sans-serif;font-size:8.29px;" fill="#2a2a2a" stroke="#2a2a2a" stroke-width="0.18">T</text>
<text x="340.52" y="377.40" style="font-family:'Liberation Sans', sans-serif;font-size:7.87px;" fill="#2a2a2a" stroke="#2a2a2a" stroke-width="0.18">i</text>
<text transform="translate(342.35,380.45) scale(0.885,1)" style="font-family:'Liberation Sans', sans-serif;font-size:3.90px;" fill="#2a2a2a" stroke="#2a2a2a" stroke-width="0.18">6</text>
<text transform="translate(344.43,377.32) scale(0.879,1)" style="font-family:'Liberation Sans', sans-serif;font-size:8.05px;" fill="#2a2a2a" stroke="#2a2a2a" stroke-width="0.18">O</text>
<text transform="translate(352.22,367.30) scale(0.885,1)" style="font-family:'Liberation Sans', sans-serif;font-size:8.87px;" fill="#2a2a2a" stroke="#2a2a2a" stroke-width="0.18">T</text>
<text x="357.66" y="367.30" style="font-family:'Liberation Sans', sans-serif;font-size:8.42px;" fill="#2a2a2a" stroke="#2a2a2a" stroke-width="0.18">i</text>
<text transform="translate(359.65,370.58) scale(0.924,1)" style="font-family:'Liberation Sans', sans-serif;font-size:4.20px;" fill="#2a2a2a" stroke="#2a2a2a" stroke-width="0.18">6</text>
<text transform="translate(361.97,367.22) scale(0.911,1)" style="font-family:'Liberation Sans', sans-serif;font-size:8.62px;" fill="#2a2a2a" stroke="#2a2a2a" stroke-width="0.18">O</text>
<text transform="translate(376.25,355.20) scale(0.799,1)" style="font-family:'Liberation Sans', sans-serif;font-size:8.29px;" fill="#2a2a2a" stroke="#2a2a2a" stroke-width="0.18">T</text>
<text x="380.75" y="355.20" style="font-family:'Liberation Sans', sans-serif;font-size:7.87px;" fill="#2a2a2a" stroke="#2a2a2a" stroke-width="0.18">i</text>
<text transform="translate(382.53,358.29) scale(0.819,1)" style="font-family:'Liberation Sans', sans-serif;font-size:3.96px;" fill="#2a2a2a" stroke="#2a2a2a" stroke-width="0.18">2</text>
<text transform="translate(384.47,355.12) scale(0.822,1)" style="font-family:'Liberation Sans', sans-serif;font-size:8.05px;" fill="#2a2a2a" stroke="#2a2a2a" stroke-width="0.18">O</text>
<text transform="translate(393.61,357.20) scale(0.980,1)" style="font-family:'Liberation Sans', sans-serif;font-size:8.58px;" fill="#2a2a2a" stroke="#2a2a2a" stroke-width="0.18">T</text>
<text x="399.38" y="357.20" style="font-family:'Liberation Sans', sans-serif;font-size:8.14px;" fill="#2a2a2a" stroke="#2a2a2a" stroke-width="0.18">i</text>
<text transform="translate(402.23,235.80) scale(0.947,1)" style="font-family:'Liberation Sans', sans-serif;font-size:8.14px;" fill="#2a2a2a" stroke="#2a2a2a" stroke-width="0.18">T</text>
<text x="407.48" y="235.80" style="font-family:'Liberation Sans', sans-serif;font-size:7.73px;" fill="#2a2a2a" stroke="#2a2a2a" stroke-width="0.18">i</text>
<text transform="translate(411.12,362.20) scale(0.815,1)" style="font-family:'Liberation Sans', sans-serif;font-size:9.88px;" fill="#2a2a2a" stroke="#2a2a2a" stroke-width="0.18">T</text>
<text x="416.62" y="362.20" style="font-family:'Liberation Sans', sans-serif;font-size:9.38px;" fill="#2a2a2a" stroke="#2a2a2a" stroke-width="0.18">i</text>
<text transform="translate(418.79,365.86) scale(0.824,1)" style="font-family:'Liberation Sans', sans-serif;font-size:4.71px;" fill="#2a2a2a" stroke="#2a2a2a" stroke-width="0.18">3</text>
<text transform="translate(421.12,362.11) scale(0.838,1)" style="font-family:'Liberation Sans', sans-serif;font-size:9.60px;" fill="#2a2a2a" stroke="#2a2a2a" stroke-width="0.18">O</text>
<text transform="translate(450.71,367.30) scale(0.931,1)" style="font-family:'Liberation Sans', sans-serif;font-size:9.16px;" fill="#2a2a2a" stroke="#2a2a2a" stroke-width="0.18">T</text>
<text x="456.51" y="367.30" style="font-family:'Liberation Sans', sans-serif;font-size:8.69px;" fill="#2a2a2a" stroke="#2a2a2a" stroke-width="0.18">i</text>
<text transform="translate(460.03,377.80) scale(0.862,1)" style="font-family:'Liberation Sans', sans-serif;font-size:8.58px;" fill="#2a2a2a" stroke="#2a2a2a" stroke-width="0.18">T</text>
<text x="464.96" y="377.80" style="font-family:'Liberation Sans', sans-serif;font-size:8.14px;" fill="#2a2a2a" stroke="#2a2a2a" stroke-width="0.18">i</text>
<text transform="translate(467.37,377.72) scale(0.843,1)" style="font-family:'Liberation Sans', sans-serif;font-size:8.33px;" fill="#2a2a2a" stroke="#2a2a2a" stroke-width="0.18">O</text>
<text transform="translate(489.93,357.10) scale(0.899,1)" style="font-family:'Liberation Sans', sans-serif;font-size:8.58px;" fill="#2a2a2a" stroke="#2a2a2a" stroke-width="0.18">T</text>
<text x="495.13" y="357.10" style="font-family:'Liberation Sans', sans-serif;font-size:8.14px;" fill="#2a2a2a" stroke="#2a2a2a" stroke-width="0.18">i</text>
<text transform="translate(517.81,372.90) scale(0.931,1)" style="font-family:'Liberation Sans', sans-serif;font-size:9.16px;" fill="#2a2a2a" stroke="#2a2a2a" stroke-width="0.18">T</text>
<text x="523.61" y="372.90" style="font-family:'Liberation Sans', sans-serif;font-size:8.69px;" fill="#2a2a2a" stroke="#2a2a2a" stroke-width="0.18">i</text>
<text transform="translate(541.62,373.30) scale(0.937,1)" style="font-family:'Liberation Sans', sans-serif;font-size:8.72px;" fill="#2a2a2a" stroke="#2a2a2a" stroke-width="0.18">T</text>
<text x="547.18" y="373.30" style="font-family:'Liberation Sans', sans-serif;font-size:8.28px;" fill="#2a2a2a" stroke="#2a2a2a" stroke-width="0.18">i</text>
<text transform="translate(337.16,245.66) scale(1.100,1)" style="font-family:'Liberation Sans', sans-serif;font-size:19.20px;font-weight:bold;" fill="#000">d</text>
<text x="431.56" y="413.34" style="font-family:'Liberation Sans', sans-serif;font-size:8.80px;" fill="#000" stroke="#000" stroke-width="0.3">2θ</text>
<text transform="translate(9.92,255.03) rotate(-90)" style="font-family:'Liberation Serif', serif;font-size:14.5px;font-weight:bold;" fill="#000" stroke="#000" stroke-width="0.35">Intensity (cps)</text>
<text x="280.73" y="425.55" style="font-family:'Liberation Serif', serif;font-size:14.50px;font-weight:bold;" fill="#000" stroke="#000" stroke-width="0.35">Degree</text>
</svg></body></html>
